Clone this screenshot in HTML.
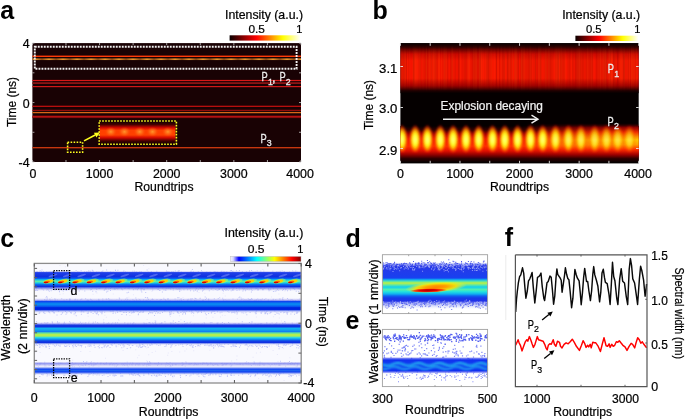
<!DOCTYPE html>
<html><head><meta charset="utf-8"><title>Figure</title>
<style>html,body{margin:0;padding:0;background:#fff;width:685px;height:419px;overflow:hidden;font-family:"Liberation Sans",sans-serif;}
svg{display:block;will-change:transform;}</style></head><body>
<svg width="685" height="419" viewBox="0 0 685 419" font-family='"Liberation Sans", sans-serif'><defs>
<linearGradient id="hot" x1="0" x2="1" y1="0" y2="0">
 <stop offset="0" stop-color="#0a0000"/><stop offset="0.375" stop-color="#ff0000"/>
 <stop offset="0.75" stop-color="#ffff00"/><stop offset="1" stop-color="#ffffff"/>
</linearGradient>
<linearGradient id="jetw" x1="0" x2="1" y1="0" y2="0">
 <stop offset="0" stop-color="#f4f4ff"/><stop offset="0.04" stop-color="#d8d8ff"/>
 <stop offset="0.12" stop-color="#0000ff"/><stop offset="0.375" stop-color="#00ffff"/>
 <stop offset="0.625" stop-color="#ffff00"/><stop offset="0.875" stop-color="#ff0000"/>
 <stop offset="1" stop-color="#800000"/>
</linearGradient>
<linearGradient id="orgA" gradientUnits="userSpaceOnUse" x1="42" x2="56" y1="0" y2="0" spreadMethod="repeat"><stop offset="0" stop-color="#904c14"/><stop offset="0.5" stop-color="#e8962c"/><stop offset="1" stop-color="#904c14"/></linearGradient><linearGradient id="insA" x1="0" x2="0" y1="0" y2="1">
<stop offset="0" stop-color="#100000"/><stop offset="0.14" stop-color="#400000"/>
<stop offset="0.28" stop-color="#d00800"/><stop offset="0.4" stop-color="#ff4000"/>
<stop offset="0.6" stop-color="#ff4000"/><stop offset="0.72" stop-color="#d00800"/>
<stop offset="0.86" stop-color="#400000"/><stop offset="1" stop-color="#100000"/></linearGradient>
<radialGradient id="insB" cx="0.5" cy="0.5" r="0.5"><stop offset="0" stop-color="#ffa030" stop-opacity="0.9"/><stop offset="0.5" stop-color="#ff8020" stop-opacity="0.5"/><stop offset="1" stop-color="#ff5000" stop-opacity="0"/></radialGradient><linearGradient id="bRed" x1="0" x2="0" y1="0" y2="1">
<stop offset="0" stop-color="#050000"/><stop offset="0.08" stop-color="#300000"/>
<stop offset="0.22" stop-color="#d00800"/><stop offset="0.35" stop-color="#f81400"/>
<stop offset="0.7" stop-color="#f81400"/><stop offset="0.85" stop-color="#a00000"/>
<stop offset="0.95" stop-color="#200000"/><stop offset="1" stop-color="#050000"/></linearGradient><linearGradient id="bYel" x1="0" x2="0" y1="0" y2="1">
<stop offset="0" stop-color="#050000"/><stop offset="0.11" stop-color="#300000"/>
<stop offset="0.22" stop-color="#a00000"/><stop offset="0.36" stop-color="#f01800"/>
<stop offset="0.56" stop-color="#ff3000"/><stop offset="0.69" stop-color="#e01000"/>
<stop offset="0.8" stop-color="#900000"/><stop offset="0.9" stop-color="#300000"/>
<stop offset="1" stop-color="#080000"/></linearGradient><linearGradient id="bMerge" x1="0" x2="0" y1="0" y2="1">
<stop offset="0" stop-color="#300000" stop-opacity="0"/><stop offset="0.12" stop-color="#a00000"/>
<stop offset="0.25" stop-color="#ff3000"/><stop offset="0.38" stop-color="#ffa000"/>
<stop offset="0.47" stop-color="#ffe000"/><stop offset="0.6" stop-color="#ffb000"/>
<stop offset="0.74" stop-color="#ff3000"/><stop offset="0.88" stop-color="#a00000"/>
<stop offset="1" stop-color="#300000" stop-opacity="0"/></linearGradient>
<linearGradient id="bMaskG" x1="0" x2="1" y1="0" y2="0">
<stop offset="0" stop-color="#fff" stop-opacity="0"/><stop offset="0.5" stop-color="#fff" stop-opacity="0"/>
<stop offset="0.7" stop-color="#fff" stop-opacity="0.6"/><stop offset="1" stop-color="#fff" stop-opacity="0.9"/></linearGradient>
<mask id="bMask" maskUnits="userSpaceOnUse" x="400" y="110" width="240" height="60"><rect x="400" y="110" width="240" height="60" fill="url(#bMaskG)"/></mask><linearGradient id="strkV" x1="0" x2="0" y1="0" y2="1"><stop offset="0" stop-color="#000" stop-opacity="0"/><stop offset="0.2" stop-color="#000" stop-opacity="1"/><stop offset="0.8" stop-color="#000" stop-opacity="1"/><stop offset="1" stop-color="#000" stop-opacity="0"/></linearGradient>
<linearGradient id="strkG" x1="0" x2="0" y1="0" y2="1"><stop offset="0" stop-color="#fff" stop-opacity="0"/><stop offset="0.25" stop-color="#fff" stop-opacity="1"/><stop offset="0.75" stop-color="#fff" stop-opacity="1"/><stop offset="1" stop-color="#fff" stop-opacity="0"/></linearGradient>
<mask id="strkM" maskUnits="userSpaceOnUse" x="400" y="43" width="240" height="52"><rect x="400" y="45" width="240" height="46" fill="url(#strkG)"/></mask><radialGradient id="blob" cx="0.5" cy="0.56" r="0.5" fx="0.5" fy="0.58">
<stop offset="0" stop-color="#ffff90"/><stop offset="0.38" stop-color="#ffff20"/>
<stop offset="0.6" stop-color="#ffb000" stop-opacity="0.95"/><stop offset="0.82" stop-color="#ff3000" stop-opacity="0.6"/><stop offset="1" stop-color="#e00000" stop-opacity="0"/></radialGradient><filter id="bl1" x="-20%" y="-20%" width="140%" height="140%"><feGaussianBlur stdDeviation="0.8"/></filter><clipPath id="clipB"><rect x="400.4" y="43.2" width="238.30000000000007" height="120.2"/></clipPath><linearGradient id="c1" x1="0" x2="0" y1="0" y2="1"><stop offset="0" stop-color="#c8c8f4" stop-opacity="0"/><stop offset="0.06" stop-color="#b0b0f0" stop-opacity="0.6"/><stop offset="0.1" stop-color="#2040e8" stop-opacity="1"/><stop offset="0.3" stop-color="#1030e0" stop-opacity="1"/><stop offset="0.38" stop-color="#0a50f0" stop-opacity="1"/><stop offset="0.45" stop-color="#10c0f0" stop-opacity="1"/><stop offset="0.53" stop-color="#60f0a0" stop-opacity="1"/><stop offset="0.6" stop-color="#20d0e0" stop-opacity="1"/><stop offset="0.68" stop-color="#0870f0" stop-opacity="1"/><stop offset="0.78" stop-color="#1030e0" stop-opacity="1"/><stop offset="0.86" stop-color="#6070e8" stop-opacity="0.8"/><stop offset="1" stop-color="#c8c8f4" stop-opacity="0"/></linearGradient><filter id="bl3" x="-10%" y="-50%" width="120%" height="200%"><feGaussianBlur stdDeviation="0.55"/></filter><linearGradient id="c2" x1="0" x2="0" y1="0" y2="1"><stop offset="0" stop-color="#c8c8f4" stop-opacity="0"/><stop offset="0.15" stop-color="#9090f0" stop-opacity="0.7"/><stop offset="0.22" stop-color="#1040f0" stop-opacity="1"/><stop offset="0.4" stop-color="#0890f0" stop-opacity="1"/><stop offset="0.55" stop-color="#0860f0" stop-opacity="1"/><stop offset="0.65" stop-color="#0020e0" stop-opacity="1"/><stop offset="0.78" stop-color="#0028e0" stop-opacity="1"/><stop offset="0.88" stop-color="#8090f0" stop-opacity="0.6"/><stop offset="1" stop-color="#c8c8f4" stop-opacity="0"/></linearGradient><linearGradient id="c3" x1="0" x2="0" y1="0" y2="1"><stop offset="0.0" stop-color="#c8c8f4" stop-opacity="0"/><stop offset="0.0652" stop-color="#9090f0" stop-opacity="0.6"/><stop offset="0.1304" stop-color="#1838e0" stop-opacity="1"/><stop offset="0.1957" stop-color="#1030e0" stop-opacity="1"/><stop offset="0.2826" stop-color="#10b0f0" stop-opacity="1"/><stop offset="0.3478" stop-color="#10a0f0" stop-opacity="1"/><stop offset="0.413" stop-color="#1080f0" stop-opacity="1"/><stop offset="0.4783" stop-color="#60e0a0" stop-opacity="1"/><stop offset="0.5435" stop-color="#b0f050" stop-opacity="1"/><stop offset="0.6087" stop-color="#b0f050" stop-opacity="1"/><stop offset="0.6739" stop-color="#30d8e0" stop-opacity="1"/><stop offset="0.7391" stop-color="#10a0f0" stop-opacity="1"/><stop offset="0.8261" stop-color="#1040e8" stop-opacity="1"/><stop offset="0.8913" stop-color="#1030e0" stop-opacity="1"/><stop offset="0.9565" stop-color="#8090f0" stop-opacity="0.5"/><stop offset="1.0" stop-color="#c8c8f4" stop-opacity="0"/></linearGradient><linearGradient id="c4" x1="0" x2="0" y1="0" y2="1"><stop offset="0.0" stop-color="#c8c8f4" stop-opacity="0"/><stop offset="0.0741" stop-color="#b0b0f0" stop-opacity="0.6"/><stop offset="0.1704" stop-color="#7078ec" stop-opacity="0.85"/><stop offset="0.2593" stop-color="#b0b0f0" stop-opacity="0.6"/><stop offset="0.3704" stop-color="#d8d8f8" stop-opacity="0.5"/><stop offset="0.4815" stop-color="#6080f0" stop-opacity="0.8"/><stop offset="0.5556" stop-color="#1040f0" stop-opacity="1"/><stop offset="0.6667" stop-color="#1860f0" stop-opacity="1"/><stop offset="0.7778" stop-color="#1040f0" stop-opacity="1"/><stop offset="0.8667" stop-color="#5070f0" stop-opacity="0.7"/><stop offset="1.0" stop-color="#c8c8f4" stop-opacity="0"/></linearGradient><linearGradient id="dband" x1="0" x2="0" y1="0" y2="1"><stop offset="0.0" stop-color="#ffffff" stop-opacity="0"/><stop offset="0.0417" stop-color="#6070f0" stop-opacity="0.6"/><stop offset="0.0833" stop-color="#2838e8" stop-opacity="1"/><stop offset="0.3333" stop-color="#1840f0" stop-opacity="1"/><stop offset="0.3646" stop-color="#10a0f0" stop-opacity="1"/><stop offset="0.3958" stop-color="#40e0c0" stop-opacity="1"/><stop offset="0.4375" stop-color="#c0f040" stop-opacity="1"/><stop offset="0.4792" stop-color="#60e8a0" stop-opacity="1"/><stop offset="0.5208" stop-color="#10d0f0" stop-opacity="1"/><stop offset="0.575" stop-color="#50f0b0" stop-opacity="1"/><stop offset="0.6208" stop-color="#20e0e0" stop-opacity="1"/><stop offset="0.6667" stop-color="#10b0f0" stop-opacity="1"/><stop offset="0.7083" stop-color="#1060f0" stop-opacity="1"/><stop offset="0.75" stop-color="#1838e8" stop-opacity="1"/><stop offset="0.8125" stop-color="#2030e8" stop-opacity="1"/><stop offset="0.8542" stop-color="#4050f0" stop-opacity="0.7"/><stop offset="0.9167" stop-color="#8090f0" stop-opacity="0.3"/><stop offset="1.0" stop-color="#ffffff" stop-opacity="0"/></linearGradient><radialGradient id="dblob" cx="0.5" cy="0.5" r="0.5">
<stop offset="0" stop-color="#ff8000"/><stop offset="0.35" stop-color="#ffa000"/>
<stop offset="0.65" stop-color="#ffe000" stop-opacity="0.9"/><stop offset="1" stop-color="#e0ff40" stop-opacity="0"/></radialGradient>
<radialGradient id="dred" cx="0.5" cy="0.5" r="0.5">
<stop offset="0" stop-color="#b00000"/><stop offset="0.45" stop-color="#e00000"/>
<stop offset="0.75" stop-color="#ff3000" stop-opacity="0.8"/><stop offset="1" stop-color="#ff6000" stop-opacity="0"/></radialGradient><linearGradient id="eband2" x1="0" x2="0" y1="0" y2="1"><stop offset="0" stop-color="#ffffff" stop-opacity="0"/><stop offset="0.1" stop-color="#3848f0" stop-opacity="0.7"/><stop offset="0.2" stop-color="#1030f0" stop-opacity="1"/><stop offset="0.5" stop-color="#1040f0" stop-opacity="1"/><stop offset="0.8" stop-color="#1030f0" stop-opacity="1"/><stop offset="0.9" stop-color="#3848f0" stop-opacity="0.7"/><stop offset="1" stop-color="#ffffff" stop-opacity="0"/></linearGradient><filter id="bl2" x="-5%" y="-50%" width="110%" height="200%"><feGaussianBlur stdDeviation="0.8"/></filter></defs><text x="0.3" y="18.8" font-size="25" fill="#000" text-anchor="start" font-weight="bold" >a</text>
<rect x="32.4" y="43.1" width="268.6" height="118.9" fill="#190204" />
<rect x="32.4" y="55.599999999999994" width="268.6" height="1.4" fill="#ff3a08" />
<rect x="32.4" y="58.35" width="268.6" height="1.7" fill="url(#orgA)" />
<rect x="32.4" y="79.9" width="268.6" height="1.2" fill="#d81818" />
<rect x="32.4" y="82.19999999999999" width="268.6" height="1.8" fill="#8a1414" />
<rect x="32.4" y="86.0" width="268.6" height="1.2" fill="#d01818" />
<rect x="32.4" y="105.7" width="268.6" height="1.2" fill="#c81010" />
<rect x="32.4" y="109.8" width="268.6" height="1.0" fill="#b01010" />
<rect x="32.4" y="111.94999999999999" width="268.6" height="1.3" fill="#d86818" />
<rect x="32.4" y="115.7" width="268.6" height="1.4" fill="#b81010" />
<rect x="32.4" y="117.1" width="268.6" height="1.0" fill="#901010" />
<rect x="32.4" y="147.04999999999998" width="268.6" height="1.3" fill="#d03a10" />
<rect x="99.5" y="121.2" width="76" height="23" fill="url(#insA)" />
<ellipse cx="110.8" cy="131.8" rx="6" ry="5" fill="url(#insB)"/>
<ellipse cx="124.5" cy="131.8" rx="6" ry="5" fill="url(#insB)"/>
<ellipse cx="139.7" cy="131.8" rx="6" ry="5" fill="url(#insB)"/>
<ellipse cx="152.5" cy="131.8" rx="6" ry="5" fill="url(#insB)"/>
<ellipse cx="167.9" cy="131.8" rx="6" ry="5" fill="url(#insB)"/>
<rect x="34.8" y="46.8" width="261.8" height="22.0" fill="none" stroke="#f0f0f0" stroke-width="1.9" stroke-dasharray="1.9 1.1"/>
<rect x="99.2" y="121.0" width="77.2" height="23.19999999999999" fill="none" stroke="#ffff20" stroke-width="1.6" stroke-dasharray="1.6 1.4"/>
<rect x="67.6" y="142.2" width="15.0" height="10.0" fill="none" stroke="#ffff20" stroke-width="1.6" stroke-dasharray="1.6 1.4"/>
<line x1="84.0" y1="140.9" x2="95.19653060937571" y2="135.0182782241887" stroke="#ffff20" stroke-width="1.6" />
<polygon points="99.8,132.6 96.45,137.41 93.94,132.63" fill="#ffff20"/>
<line x1="32.4" y1="43.1" x2="32.4" y2="45.1" stroke="#c8c8c8" stroke-width="0.8" />
<line x1="32.4" y1="162.0" x2="32.4" y2="160.0" stroke="#c8c8c8" stroke-width="0.8" />
<line x1="65.975" y1="43.1" x2="65.975" y2="45.1" stroke="#c8c8c8" stroke-width="0.8" />
<line x1="65.975" y1="162.0" x2="65.975" y2="160.0" stroke="#c8c8c8" stroke-width="0.8" />
<line x1="99.55000000000001" y1="43.1" x2="99.55000000000001" y2="45.1" stroke="#c8c8c8" stroke-width="0.8" />
<line x1="99.55000000000001" y1="162.0" x2="99.55000000000001" y2="160.0" stroke="#c8c8c8" stroke-width="0.8" />
<line x1="133.125" y1="43.1" x2="133.125" y2="45.1" stroke="#c8c8c8" stroke-width="0.8" />
<line x1="133.125" y1="162.0" x2="133.125" y2="160.0" stroke="#c8c8c8" stroke-width="0.8" />
<line x1="166.70000000000002" y1="43.1" x2="166.70000000000002" y2="45.1" stroke="#c8c8c8" stroke-width="0.8" />
<line x1="166.70000000000002" y1="162.0" x2="166.70000000000002" y2="160.0" stroke="#c8c8c8" stroke-width="0.8" />
<line x1="200.275" y1="43.1" x2="200.275" y2="45.1" stroke="#c8c8c8" stroke-width="0.8" />
<line x1="200.275" y1="162.0" x2="200.275" y2="160.0" stroke="#c8c8c8" stroke-width="0.8" />
<line x1="233.85000000000002" y1="43.1" x2="233.85000000000002" y2="45.1" stroke="#c8c8c8" stroke-width="0.8" />
<line x1="233.85000000000002" y1="162.0" x2="233.85000000000002" y2="160.0" stroke="#c8c8c8" stroke-width="0.8" />
<line x1="267.425" y1="43.1" x2="267.425" y2="45.1" stroke="#c8c8c8" stroke-width="0.8" />
<line x1="267.425" y1="162.0" x2="267.425" y2="160.0" stroke="#c8c8c8" stroke-width="0.8" />
<line x1="301.0" y1="43.1" x2="301.0" y2="45.1" stroke="#c8c8c8" stroke-width="0.8" />
<line x1="301.0" y1="162.0" x2="301.0" y2="160.0" stroke="#c8c8c8" stroke-width="0.8" />
<line x1="32.4" y1="43.1" x2="34.4" y2="43.1" stroke="#c8c8c8" stroke-width="0.8" />
<line x1="301.0" y1="43.1" x2="299.0" y2="43.1" stroke="#c8c8c8" stroke-width="0.8" />
<line x1="32.4" y1="72.825" x2="34.4" y2="72.825" stroke="#c8c8c8" stroke-width="0.8" />
<line x1="301.0" y1="72.825" x2="299.0" y2="72.825" stroke="#c8c8c8" stroke-width="0.8" />
<line x1="32.4" y1="102.55000000000001" x2="34.4" y2="102.55000000000001" stroke="#c8c8c8" stroke-width="0.8" />
<line x1="301.0" y1="102.55000000000001" x2="299.0" y2="102.55000000000001" stroke="#c8c8c8" stroke-width="0.8" />
<line x1="32.4" y1="132.275" x2="34.4" y2="132.275" stroke="#c8c8c8" stroke-width="0.8" />
<line x1="301.0" y1="132.275" x2="299.0" y2="132.275" stroke="#c8c8c8" stroke-width="0.8" />
<line x1="32.4" y1="162.0" x2="34.4" y2="162.0" stroke="#c8c8c8" stroke-width="0.8" />
<line x1="301.0" y1="162.0" x2="299.0" y2="162.0" stroke="#c8c8c8" stroke-width="0.8" />
<text x="261.5" y="81.0" font-size="12.8" fill="#ececec" text-anchor="start" textLength="6.2" lengthAdjust="spacingAndGlyphs" stroke="#ececec" stroke-width="0.3">P</text>
<text x="268.0" y="84.6" font-size="8.8" fill="#ececec" text-anchor="start" stroke="#ececec" stroke-width="0.3">1</text>
<text x="272.0" y="81.6" font-size="13" fill="#ececec" text-anchor="start" stroke="#ececec" stroke-width="0.3">,</text>
<text x="279.4" y="81.0" font-size="12.8" fill="#ececec" text-anchor="start" textLength="6.2" lengthAdjust="spacingAndGlyphs" stroke="#ececec" stroke-width="0.3">P</text>
<text x="285.8" y="84.6" font-size="8.8" fill="#ececec" text-anchor="start" stroke="#ececec" stroke-width="0.3">2</text>
<text x="260.6" y="142.6" font-size="12.8" fill="#ececec" text-anchor="start" textLength="6.2" lengthAdjust="spacingAndGlyphs" stroke="#ececec" stroke-width="0.3">P</text>
<text x="266.7" y="145.8" font-size="8.8" fill="#ececec" text-anchor="start" stroke="#ececec" stroke-width="0.3">3</text>
<rect x="229.6" y="35.3" width="71" height="5.3" fill="url(#hot)" />
<text x="225.0" y="18.6" font-size="11.9" fill="#000" text-anchor="start" stroke="#000" stroke-width="0.22" textLength="78" lengthAdjust="spacingAndGlyphs" >Intensity (a.u.)</text>
<text x="248.4" y="33.2" font-size="11" fill="#000" text-anchor="start" stroke="#000" stroke-width="0.22" textLength="16.5" lengthAdjust="spacingAndGlyphs" >0.5</text>
<text x="302.3" y="33.2" font-size="11" fill="#000" text-anchor="end" stroke="#000" stroke-width="0.22" >1</text>
<text x="29.6" y="48.0" font-size="12.4" fill="#000" text-anchor="end" stroke="#000" stroke-width="0.22" >4</text>
<text x="29.6" y="107.6" font-size="12.4" fill="#000" text-anchor="end" stroke="#000" stroke-width="0.22" >0</text>
<text x="29.6" y="167.2" font-size="12.4" fill="#000" text-anchor="end" stroke="#000" stroke-width="0.22" >-4</text>
<text x="33.0" y="177.6" font-size="12.4" fill="#000" text-anchor="middle" stroke="#000" stroke-width="0.22" >0</text>
<text x="99.55000000000001" y="177.6" font-size="12.4" fill="#000" text-anchor="middle" stroke="#000" stroke-width="0.22" >1000</text>
<text x="166.70000000000002" y="177.6" font-size="12.4" fill="#000" text-anchor="middle" stroke="#000" stroke-width="0.22" >2000</text>
<text x="233.85000000000002" y="177.6" font-size="12.4" fill="#000" text-anchor="middle" stroke="#000" stroke-width="0.22" >3000</text>
<text x="300.1" y="177.6" font-size="12.4" fill="#000" text-anchor="middle" stroke="#000" stroke-width="0.22" >4000</text>
<text x="164.0" y="191.0" font-size="13.2" fill="#000" text-anchor="middle" stroke="#000" stroke-width="0.22" textLength="59" lengthAdjust="spacingAndGlyphs" >Roundtrips</text>
<text x="16.3" y="102.0" font-size="13" fill="#000" text-anchor="middle" stroke="#000" stroke-width="0.22" textLength="50" lengthAdjust="spacingAndGlyphs" transform="rotate(-90 16.3 102.0)" >Time (ns)</text>
<text x="372.6" y="18.6" font-size="25" fill="#000" text-anchor="start" font-weight="bold" >b</text>
<rect x="400.4" y="43.2" width="238.30000000000007" height="120.2" fill="#050000" />
<rect x="400.4" y="43.2" width="238.30000000000007" height="50" fill="url(#bRed)" />
<rect x="400.4" y="126" width="238.30000000000007" height="36" fill="url(#bYel)" />
<rect x="400.4" y="123" width="238.30000000000007" height="36" fill="url(#bMerge)" mask="url(#bMask)"/>
<g mask="url(#strkM)"><rect x="400.4" y="45" width="1.5" height="46" fill="#500000" fill-opacity="0.21"/><rect x="401.9" y="45" width="2" height="46" fill="#500000" fill-opacity="0.14"/><rect x="403.9" y="45" width="1" height="46" fill="#500000" fill-opacity="0.18"/><rect x="404.9" y="45" width="1" height="46" fill="#500000" fill-opacity="0.08"/><rect x="405.9" y="45" width="1" height="46" fill="#500000" fill-opacity="0.20"/><rect x="406.9" y="45" width="1" height="46" fill="#500000" fill-opacity="0.01"/><rect x="407.9" y="45" width="2" height="46" fill="#500000" fill-opacity="0.09"/><rect x="409.9" y="45" width="1" height="46" fill="#500000" fill-opacity="0.02"/><rect x="410.9" y="45" width="2" height="46" fill="#500000" fill-opacity="0.01"/><rect x="412.9" y="45" width="1" height="46" fill="#500000" fill-opacity="0.21"/><rect x="413.9" y="45" width="1" height="46" fill="#500000" fill-opacity="0.13"/><rect x="414.9" y="45" width="2" height="46" fill="#500000" fill-opacity="0.01"/><rect x="416.9" y="45" width="1" height="46" fill="#500000" fill-opacity="0.01"/><rect x="417.9" y="45" width="1" height="46" fill="#500000" fill-opacity="0.06"/><rect x="418.9" y="45" width="1" height="46" fill="#500000" fill-opacity="0.12"/><rect x="419.9" y="45" width="1.5" height="46" fill="#500000" fill-opacity="0.12"/><rect x="421.4" y="45" width="1" height="46" fill="#500000" fill-opacity="0.02"/><rect x="422.4" y="45" width="1" height="46" fill="#500000" fill-opacity="0.08"/><rect x="423.4" y="45" width="1" height="46" fill="#500000" fill-opacity="0.12"/><rect x="424.4" y="45" width="1" height="46" fill="#500000" fill-opacity="0.11"/><rect x="425.4" y="45" width="2" height="46" fill="#500000" fill-opacity="0.17"/><rect x="427.4" y="45" width="2" height="46" fill="#500000" fill-opacity="0.13"/><rect x="429.4" y="45" width="2" height="46" fill="#500000" fill-opacity="0.08"/><rect x="431.4" y="45" width="1" height="46" fill="#500000" fill-opacity="0.17"/><rect x="432.4" y="45" width="1" height="46" fill="#500000" fill-opacity="0.02"/><rect x="433.4" y="45" width="1.5" height="46" fill="#500000" fill-opacity="0.12"/><rect x="434.9" y="45" width="1.5" height="46" fill="#500000" fill-opacity="0.16"/><rect x="436.4" y="45" width="1.5" height="46" fill="#500000" fill-opacity="0.13"/><rect x="437.9" y="45" width="1" height="46" fill="#500000" fill-opacity="0.03"/><rect x="438.9" y="45" width="2" height="46" fill="#500000" fill-opacity="0.04"/><rect x="440.9" y="45" width="1.5" height="46" fill="#500000" fill-opacity="0.03"/><rect x="442.4" y="45" width="2" height="46" fill="#500000" fill-opacity="0.09"/><rect x="444.4" y="45" width="1" height="46" fill="#500000" fill-opacity="0.17"/><rect x="445.4" y="45" width="1.5" height="46" fill="#500000" fill-opacity="0.07"/><rect x="446.9" y="45" width="1.5" height="46" fill="#500000" fill-opacity="0.13"/><rect x="448.4" y="45" width="2" height="46" fill="#500000" fill-opacity="0.02"/><rect x="450.4" y="45" width="1" height="46" fill="#500000" fill-opacity="0.21"/><rect x="451.4" y="45" width="2" height="46" fill="#500000" fill-opacity="0.15"/><rect x="453.4" y="45" width="1" height="46" fill="#500000" fill-opacity="0.01"/><rect x="454.4" y="45" width="1.5" height="46" fill="#500000" fill-opacity="0.14"/><rect x="455.9" y="45" width="2" height="46" fill="#500000" fill-opacity="0.06"/><rect x="457.9" y="45" width="2" height="46" fill="#500000" fill-opacity="0.20"/><rect x="459.9" y="45" width="1.5" height="46" fill="#500000" fill-opacity="0.00"/><rect x="461.4" y="45" width="2" height="46" fill="#500000" fill-opacity="0.08"/><rect x="463.4" y="45" width="1" height="46" fill="#500000" fill-opacity="0.11"/><rect x="464.4" y="45" width="1" height="46" fill="#500000" fill-opacity="0.17"/><rect x="465.4" y="45" width="1" height="46" fill="#500000" fill-opacity="0.16"/><rect x="466.4" y="45" width="2" height="46" fill="#500000" fill-opacity="0.09"/><rect x="468.4" y="45" width="2" height="46" fill="#500000" fill-opacity="0.02"/><rect x="470.4" y="45" width="2" height="46" fill="#500000" fill-opacity="0.09"/><rect x="472.4" y="45" width="1.5" height="46" fill="#500000" fill-opacity="0.19"/><rect x="473.9" y="45" width="2" height="46" fill="#500000" fill-opacity="0.19"/><rect x="475.9" y="45" width="1.5" height="46" fill="#500000" fill-opacity="0.16"/><rect x="477.4" y="45" width="1.5" height="46" fill="#500000" fill-opacity="0.15"/><rect x="478.9" y="45" width="2" height="46" fill="#500000" fill-opacity="0.21"/><rect x="480.9" y="45" width="1" height="46" fill="#500000" fill-opacity="0.02"/><rect x="481.9" y="45" width="1" height="46" fill="#500000" fill-opacity="0.05"/><rect x="482.9" y="45" width="1" height="46" fill="#500000" fill-opacity="0.00"/><rect x="483.9" y="45" width="1" height="46" fill="#500000" fill-opacity="0.06"/><rect x="484.9" y="45" width="1" height="46" fill="#500000" fill-opacity="0.03"/><rect x="485.9" y="45" width="1.5" height="46" fill="#500000" fill-opacity="0.13"/><rect x="487.4" y="45" width="1.5" height="46" fill="#500000" fill-opacity="0.21"/><rect x="488.9" y="45" width="1" height="46" fill="#500000" fill-opacity="0.10"/><rect x="489.9" y="45" width="2" height="46" fill="#500000" fill-opacity="0.09"/><rect x="491.9" y="45" width="2" height="46" fill="#500000" fill-opacity="0.02"/><rect x="493.9" y="45" width="2" height="46" fill="#500000" fill-opacity="0.01"/><rect x="495.9" y="45" width="1" height="46" fill="#500000" fill-opacity="0.22"/><rect x="496.9" y="45" width="2" height="46" fill="#500000" fill-opacity="0.04"/><rect x="498.9" y="45" width="1.5" height="46" fill="#500000" fill-opacity="0.13"/><rect x="500.4" y="45" width="1" height="46" fill="#500000" fill-opacity="0.00"/><rect x="501.4" y="45" width="1" height="46" fill="#500000" fill-opacity="0.12"/><rect x="502.4" y="45" width="1.5" height="46" fill="#500000" fill-opacity="0.14"/><rect x="503.9" y="45" width="1" height="46" fill="#500000" fill-opacity="0.19"/><rect x="504.9" y="45" width="2" height="46" fill="#500000" fill-opacity="0.03"/><rect x="506.9" y="45" width="1.5" height="46" fill="#500000" fill-opacity="0.21"/><rect x="508.4" y="45" width="1.5" height="46" fill="#500000" fill-opacity="0.10"/><rect x="509.9" y="45" width="1" height="46" fill="#500000" fill-opacity="0.19"/><rect x="510.9" y="45" width="2" height="46" fill="#500000" fill-opacity="0.11"/><rect x="512.9" y="45" width="1.5" height="46" fill="#500000" fill-opacity="0.02"/><rect x="514.4" y="45" width="1" height="46" fill="#500000" fill-opacity="0.16"/><rect x="515.4" y="45" width="1.5" height="46" fill="#500000" fill-opacity="0.11"/><rect x="516.9" y="45" width="1" height="46" fill="#500000" fill-opacity="0.11"/><rect x="517.9" y="45" width="1" height="46" fill="#500000" fill-opacity="0.21"/><rect x="518.9" y="45" width="1.5" height="46" fill="#500000" fill-opacity="0.03"/><rect x="520.4" y="45" width="1" height="46" fill="#500000" fill-opacity="0.17"/><rect x="521.4" y="45" width="1.5" height="46" fill="#500000" fill-opacity="0.22"/><rect x="522.9" y="45" width="1" height="46" fill="#500000" fill-opacity="0.15"/><rect x="523.9" y="45" width="1.5" height="46" fill="#500000" fill-opacity="0.11"/><rect x="525.4" y="45" width="1" height="46" fill="#500000" fill-opacity="0.08"/><rect x="526.4" y="45" width="1" height="46" fill="#500000" fill-opacity="0.12"/><rect x="527.4" y="45" width="1.5" height="46" fill="#500000" fill-opacity="0.14"/><rect x="528.9" y="45" width="1" height="46" fill="#500000" fill-opacity="0.18"/><rect x="529.9" y="45" width="2" height="46" fill="#500000" fill-opacity="0.16"/><rect x="531.9" y="45" width="1" height="46" fill="#500000" fill-opacity="0.04"/><rect x="532.9" y="45" width="2" height="46" fill="#500000" fill-opacity="0.08"/><rect x="534.9" y="45" width="1" height="46" fill="#500000" fill-opacity="0.22"/><rect x="535.9" y="45" width="1.5" height="46" fill="#500000" fill-opacity="0.10"/><rect x="537.4" y="45" width="1" height="46" fill="#500000" fill-opacity="0.15"/><rect x="538.4" y="45" width="1.5" height="46" fill="#500000" fill-opacity="0.10"/><rect x="539.9" y="45" width="1.5" height="46" fill="#500000" fill-opacity="0.21"/><rect x="541.4" y="45" width="1.5" height="46" fill="#500000" fill-opacity="0.02"/><rect x="542.9" y="45" width="1" height="46" fill="#500000" fill-opacity="0.05"/><rect x="543.9" y="45" width="1" height="46" fill="#500000" fill-opacity="0.07"/><rect x="544.9" y="45" width="2" height="46" fill="#500000" fill-opacity="0.14"/><rect x="546.9" y="45" width="1" height="46" fill="#500000" fill-opacity="0.11"/><rect x="547.9" y="45" width="1.5" height="46" fill="#500000" fill-opacity="0.18"/><rect x="549.4" y="45" width="1" height="46" fill="#500000" fill-opacity="0.18"/><rect x="550.4" y="45" width="1" height="46" fill="#500000" fill-opacity="0.20"/><rect x="551.4" y="45" width="1" height="46" fill="#500000" fill-opacity="0.11"/><rect x="552.4" y="45" width="1" height="46" fill="#500000" fill-opacity="0.10"/><rect x="553.4" y="45" width="1.5" height="46" fill="#500000" fill-opacity="0.02"/><rect x="554.9" y="45" width="2" height="46" fill="#500000" fill-opacity="0.10"/><rect x="556.9" y="45" width="1" height="46" fill="#500000" fill-opacity="0.16"/><rect x="557.9" y="45" width="1" height="46" fill="#500000" fill-opacity="0.22"/><rect x="558.9" y="45" width="1" height="46" fill="#500000" fill-opacity="0.03"/><rect x="559.9" y="45" width="2" height="46" fill="#500000" fill-opacity="0.18"/><rect x="561.9" y="45" width="1" height="46" fill="#500000" fill-opacity="0.13"/><rect x="562.9" y="45" width="2" height="46" fill="#500000" fill-opacity="0.14"/><rect x="564.9" y="45" width="1.5" height="46" fill="#500000" fill-opacity="0.03"/><rect x="566.4" y="45" width="1" height="46" fill="#500000" fill-opacity="0.00"/><rect x="567.4" y="45" width="1" height="46" fill="#500000" fill-opacity="0.12"/><rect x="568.4" y="45" width="1" height="46" fill="#500000" fill-opacity="0.10"/><rect x="569.4" y="45" width="1" height="46" fill="#500000" fill-opacity="0.18"/><rect x="570.4" y="45" width="1" height="46" fill="#500000" fill-opacity="0.01"/><rect x="571.4" y="45" width="1" height="46" fill="#500000" fill-opacity="0.06"/><rect x="572.4" y="45" width="1" height="46" fill="#500000" fill-opacity="0.17"/><rect x="573.4" y="45" width="1.5" height="46" fill="#500000" fill-opacity="0.06"/><rect x="574.9" y="45" width="2" height="46" fill="#500000" fill-opacity="0.18"/><rect x="576.9" y="45" width="1" height="46" fill="#500000" fill-opacity="0.20"/><rect x="577.9" y="45" width="1.5" height="46" fill="#500000" fill-opacity="0.20"/><rect x="579.4" y="45" width="2" height="46" fill="#500000" fill-opacity="0.18"/><rect x="581.4" y="45" width="1" height="46" fill="#500000" fill-opacity="0.12"/><rect x="582.4" y="45" width="1" height="46" fill="#500000" fill-opacity="0.19"/><rect x="583.4" y="45" width="1" height="46" fill="#500000" fill-opacity="0.13"/><rect x="584.4" y="45" width="1" height="46" fill="#500000" fill-opacity="0.04"/><rect x="585.4" y="45" width="2" height="46" fill="#500000" fill-opacity="0.14"/><rect x="587.4" y="45" width="1" height="46" fill="#500000" fill-opacity="0.12"/><rect x="588.4" y="45" width="1.5" height="46" fill="#500000" fill-opacity="0.15"/><rect x="589.9" y="45" width="2" height="46" fill="#500000" fill-opacity="0.17"/><rect x="591.9" y="45" width="1" height="46" fill="#500000" fill-opacity="0.19"/><rect x="592.9" y="45" width="1" height="46" fill="#500000" fill-opacity="0.05"/><rect x="593.9" y="45" width="1.5" height="46" fill="#500000" fill-opacity="0.01"/><rect x="595.4" y="45" width="1" height="46" fill="#500000" fill-opacity="0.11"/><rect x="596.4" y="45" width="1" height="46" fill="#500000" fill-opacity="0.17"/><rect x="597.4" y="45" width="1" height="46" fill="#500000" fill-opacity="0.10"/><rect x="598.4" y="45" width="1" height="46" fill="#500000" fill-opacity="0.15"/><rect x="599.4" y="45" width="2" height="46" fill="#500000" fill-opacity="0.11"/><rect x="601.4" y="45" width="2" height="46" fill="#500000" fill-opacity="0.11"/><rect x="603.4" y="45" width="1" height="46" fill="#500000" fill-opacity="0.15"/><rect x="604.4" y="45" width="1.5" height="46" fill="#500000" fill-opacity="0.20"/><rect x="605.9" y="45" width="1" height="46" fill="#500000" fill-opacity="0.18"/><rect x="606.9" y="45" width="1" height="46" fill="#500000" fill-opacity="0.09"/><rect x="607.9" y="45" width="2" height="46" fill="#500000" fill-opacity="0.10"/><rect x="609.9" y="45" width="1" height="46" fill="#500000" fill-opacity="0.15"/><rect x="610.9" y="45" width="2" height="46" fill="#500000" fill-opacity="0.02"/><rect x="612.9" y="45" width="1.5" height="46" fill="#500000" fill-opacity="0.17"/><rect x="614.4" y="45" width="1" height="46" fill="#500000" fill-opacity="0.21"/><rect x="615.4" y="45" width="1.5" height="46" fill="#500000" fill-opacity="0.03"/><rect x="616.9" y="45" width="1" height="46" fill="#500000" fill-opacity="0.21"/><rect x="617.9" y="45" width="1" height="46" fill="#500000" fill-opacity="0.16"/><rect x="618.9" y="45" width="1" height="46" fill="#500000" fill-opacity="0.09"/><rect x="619.9" y="45" width="2" height="46" fill="#500000" fill-opacity="0.04"/><rect x="621.9" y="45" width="1" height="46" fill="#500000" fill-opacity="0.04"/><rect x="622.9" y="45" width="2" height="46" fill="#500000" fill-opacity="0.22"/><rect x="624.9" y="45" width="2" height="46" fill="#500000" fill-opacity="0.07"/><rect x="626.9" y="45" width="1" height="46" fill="#500000" fill-opacity="0.08"/><rect x="627.9" y="45" width="1" height="46" fill="#500000" fill-opacity="0.16"/><rect x="628.9" y="45" width="1" height="46" fill="#500000" fill-opacity="0.07"/><rect x="629.9" y="45" width="2" height="46" fill="#500000" fill-opacity="0.10"/><rect x="631.9" y="45" width="1" height="46" fill="#500000" fill-opacity="0.08"/><rect x="632.9" y="45" width="1.5" height="46" fill="#500000" fill-opacity="0.11"/><rect x="634.4" y="45" width="1" height="46" fill="#500000" fill-opacity="0.02"/><rect x="635.4" y="45" width="1" height="46" fill="#500000" fill-opacity="0.21"/><rect x="636.4" y="45" width="1" height="46" fill="#500000" fill-opacity="0.02"/><rect x="637.4" y="45" width="1.5" height="46" fill="#500000" fill-opacity="0.01"/></g>
<g mask="url(#strkM)"><rect x="400.4" y="45" width="1" height="46" fill="#ff6010" fill-opacity="0.05"/><rect x="401.4" y="45" width="1" height="46" fill="#ff6010" fill-opacity="0.16"/><rect x="402.4" y="45" width="1.5" height="46" fill="#ff6010" fill-opacity="0.08"/><rect x="403.9" y="45" width="2" height="46" fill="#ff6010" fill-opacity="0.14"/><rect x="405.9" y="45" width="1" height="46" fill="#ff6010" fill-opacity="0.06"/><rect x="406.9" y="45" width="1" height="46" fill="#ff6010" fill-opacity="0.09"/><rect x="407.9" y="45" width="1" height="46" fill="#ff6010" fill-opacity="0.05"/><rect x="408.9" y="45" width="1" height="46" fill="#ff6010" fill-opacity="0.13"/><rect x="409.9" y="45" width="1.5" height="46" fill="#ff6010" fill-opacity="0.02"/><rect x="411.4" y="45" width="1" height="46" fill="#ff6010" fill-opacity="0.01"/><rect x="412.4" y="45" width="1" height="46" fill="#ff6010" fill-opacity="0.09"/><rect x="413.4" y="45" width="1.5" height="46" fill="#ff6010" fill-opacity="0.20"/><rect x="414.9" y="45" width="2" height="46" fill="#ff6010" fill-opacity="0.19"/><rect x="416.9" y="45" width="1.5" height="46" fill="#ff6010" fill-opacity="0.12"/><rect x="418.4" y="45" width="1" height="46" fill="#ff6010" fill-opacity="0.11"/><rect x="419.4" y="45" width="1" height="46" fill="#ff6010" fill-opacity="0.19"/><rect x="420.4" y="45" width="1" height="46" fill="#ff6010" fill-opacity="0.05"/><rect x="421.4" y="45" width="1" height="46" fill="#ff6010" fill-opacity="0.04"/><rect x="422.4" y="45" width="1.5" height="46" fill="#ff6010" fill-opacity="0.13"/><rect x="423.9" y="45" width="1" height="46" fill="#ff6010" fill-opacity="0.06"/><rect x="424.9" y="45" width="1" height="46" fill="#ff6010" fill-opacity="0.05"/><rect x="425.9" y="45" width="1" height="46" fill="#ff6010" fill-opacity="0.20"/><rect x="426.9" y="45" width="1" height="46" fill="#ff6010" fill-opacity="0.00"/><rect x="427.9" y="45" width="1" height="46" fill="#ff6010" fill-opacity="0.10"/><rect x="428.9" y="45" width="1" height="46" fill="#ff6010" fill-opacity="0.19"/><rect x="429.9" y="45" width="1" height="46" fill="#ff6010" fill-opacity="0.13"/><rect x="430.9" y="45" width="2" height="46" fill="#ff6010" fill-opacity="0.13"/><rect x="432.9" y="45" width="2" height="46" fill="#ff6010" fill-opacity="0.19"/><rect x="434.9" y="45" width="1.5" height="46" fill="#ff6010" fill-opacity="0.14"/><rect x="436.4" y="45" width="1" height="46" fill="#ff6010" fill-opacity="0.07"/><rect x="437.4" y="45" width="1" height="46" fill="#ff6010" fill-opacity="0.08"/><rect x="438.4" y="45" width="1.5" height="46" fill="#ff6010" fill-opacity="0.20"/><rect x="439.9" y="45" width="1" height="46" fill="#ff6010" fill-opacity="0.00"/><rect x="440.9" y="45" width="1.5" height="46" fill="#ff6010" fill-opacity="0.09"/><rect x="442.4" y="45" width="1" height="46" fill="#ff6010" fill-opacity="0.02"/><rect x="443.4" y="45" width="2" height="46" fill="#ff6010" fill-opacity="0.17"/><rect x="445.4" y="45" width="1.5" height="46" fill="#ff6010" fill-opacity="0.12"/><rect x="446.9" y="45" width="1.5" height="46" fill="#ff6010" fill-opacity="0.01"/><rect x="448.4" y="45" width="1" height="46" fill="#ff6010" fill-opacity="0.03"/><rect x="449.4" y="45" width="2" height="46" fill="#ff6010" fill-opacity="0.00"/><rect x="451.4" y="45" width="1.5" height="46" fill="#ff6010" fill-opacity="0.19"/><rect x="452.9" y="45" width="1.5" height="46" fill="#ff6010" fill-opacity="0.05"/><rect x="454.4" y="45" width="1.5" height="46" fill="#ff6010" fill-opacity="0.04"/><rect x="455.9" y="45" width="1" height="46" fill="#ff6010" fill-opacity="0.00"/><rect x="456.9" y="45" width="2" height="46" fill="#ff6010" fill-opacity="0.02"/><rect x="458.9" y="45" width="1.5" height="46" fill="#ff6010" fill-opacity="0.10"/><rect x="460.4" y="45" width="1" height="46" fill="#ff6010" fill-opacity="0.05"/><rect x="461.4" y="45" width="1" height="46" fill="#ff6010" fill-opacity="0.02"/><rect x="462.4" y="45" width="1" height="46" fill="#ff6010" fill-opacity="0.03"/><rect x="463.4" y="45" width="1" height="46" fill="#ff6010" fill-opacity="0.08"/><rect x="464.4" y="45" width="1.5" height="46" fill="#ff6010" fill-opacity="0.06"/><rect x="465.9" y="45" width="1" height="46" fill="#ff6010" fill-opacity="0.02"/><rect x="466.9" y="45" width="1" height="46" fill="#ff6010" fill-opacity="0.13"/><rect x="467.9" y="45" width="2" height="46" fill="#ff6010" fill-opacity="0.15"/><rect x="469.9" y="45" width="2" height="46" fill="#ff6010" fill-opacity="0.03"/><rect x="471.9" y="45" width="1" height="46" fill="#ff6010" fill-opacity="0.01"/><rect x="472.9" y="45" width="2" height="46" fill="#ff6010" fill-opacity="0.15"/><rect x="474.9" y="45" width="1" height="46" fill="#ff6010" fill-opacity="0.18"/><rect x="475.9" y="45" width="1" height="46" fill="#ff6010" fill-opacity="0.17"/><rect x="476.9" y="45" width="1" height="46" fill="#ff6010" fill-opacity="0.02"/><rect x="477.9" y="45" width="1" height="46" fill="#ff6010" fill-opacity="0.03"/><rect x="478.9" y="45" width="1.5" height="46" fill="#ff6010" fill-opacity="0.19"/><rect x="480.4" y="45" width="2" height="46" fill="#ff6010" fill-opacity="0.17"/><rect x="482.4" y="45" width="1" height="46" fill="#ff6010" fill-opacity="0.13"/><rect x="483.4" y="45" width="1" height="46" fill="#ff6010" fill-opacity="0.10"/><rect x="484.4" y="45" width="1" height="46" fill="#ff6010" fill-opacity="0.09"/><rect x="485.4" y="45" width="1" height="46" fill="#ff6010" fill-opacity="0.15"/><rect x="486.4" y="45" width="1" height="46" fill="#ff6010" fill-opacity="0.13"/><rect x="487.4" y="45" width="1" height="46" fill="#ff6010" fill-opacity="0.15"/><rect x="488.4" y="45" width="2" height="46" fill="#ff6010" fill-opacity="0.05"/><rect x="490.4" y="45" width="1" height="46" fill="#ff6010" fill-opacity="0.17"/><rect x="491.4" y="45" width="1" height="46" fill="#ff6010" fill-opacity="0.15"/><rect x="492.4" y="45" width="1" height="46" fill="#ff6010" fill-opacity="0.05"/><rect x="493.4" y="45" width="2" height="46" fill="#ff6010" fill-opacity="0.10"/><rect x="495.4" y="45" width="2" height="46" fill="#ff6010" fill-opacity="0.02"/><rect x="497.4" y="45" width="1.5" height="46" fill="#ff6010" fill-opacity="0.15"/><rect x="498.9" y="45" width="1" height="46" fill="#ff6010" fill-opacity="0.02"/><rect x="499.9" y="45" width="1" height="46" fill="#ff6010" fill-opacity="0.07"/><rect x="500.9" y="45" width="1.5" height="46" fill="#ff6010" fill-opacity="0.12"/><rect x="502.4" y="45" width="1" height="46" fill="#ff6010" fill-opacity="0.00"/><rect x="503.4" y="45" width="1" height="46" fill="#ff6010" fill-opacity="0.10"/><rect x="504.4" y="45" width="1" height="46" fill="#ff6010" fill-opacity="0.14"/><rect x="505.4" y="45" width="2" height="46" fill="#ff6010" fill-opacity="0.06"/><rect x="507.4" y="45" width="1.5" height="46" fill="#ff6010" fill-opacity="0.09"/><rect x="508.9" y="45" width="2" height="46" fill="#ff6010" fill-opacity="0.15"/><rect x="510.9" y="45" width="1" height="46" fill="#ff6010" fill-opacity="0.06"/><rect x="511.9" y="45" width="1" height="46" fill="#ff6010" fill-opacity="0.19"/><rect x="512.9" y="45" width="1" height="46" fill="#ff6010" fill-opacity="0.06"/><rect x="513.9" y="45" width="1" height="46" fill="#ff6010" fill-opacity="0.16"/><rect x="514.9" y="45" width="2" height="46" fill="#ff6010" fill-opacity="0.20"/><rect x="516.9" y="45" width="2" height="46" fill="#ff6010" fill-opacity="0.04"/><rect x="518.9" y="45" width="1" height="46" fill="#ff6010" fill-opacity="0.01"/><rect x="519.9" y="45" width="1" height="46" fill="#ff6010" fill-opacity="0.03"/><rect x="520.9" y="45" width="1.5" height="46" fill="#ff6010" fill-opacity="0.19"/><rect x="522.4" y="45" width="1" height="46" fill="#ff6010" fill-opacity="0.12"/><rect x="523.4" y="45" width="1.5" height="46" fill="#ff6010" fill-opacity="0.18"/><rect x="524.9" y="45" width="1.5" height="46" fill="#ff6010" fill-opacity="0.05"/><rect x="526.4" y="45" width="2" height="46" fill="#ff6010" fill-opacity="0.08"/><rect x="528.4" y="45" width="1" height="46" fill="#ff6010" fill-opacity="0.00"/><rect x="529.4" y="45" width="2" height="46" fill="#ff6010" fill-opacity="0.14"/><rect x="531.4" y="45" width="2" height="46" fill="#ff6010" fill-opacity="0.06"/><rect x="533.4" y="45" width="1" height="46" fill="#ff6010" fill-opacity="0.08"/><rect x="534.4" y="45" width="2" height="46" fill="#ff6010" fill-opacity="0.06"/><rect x="536.4" y="45" width="1.5" height="46" fill="#ff6010" fill-opacity="0.00"/><rect x="537.9" y="45" width="1.5" height="46" fill="#ff6010" fill-opacity="0.17"/><rect x="539.4" y="45" width="1" height="46" fill="#ff6010" fill-opacity="0.19"/><rect x="540.4" y="45" width="1" height="46" fill="#ff6010" fill-opacity="0.14"/><rect x="541.4" y="45" width="1.5" height="46" fill="#ff6010" fill-opacity="0.05"/><rect x="542.9" y="45" width="1" height="46" fill="#ff6010" fill-opacity="0.08"/><rect x="543.9" y="45" width="1" height="46" fill="#ff6010" fill-opacity="0.07"/><rect x="544.9" y="45" width="2" height="46" fill="#ff6010" fill-opacity="0.15"/><rect x="546.9" y="45" width="1" height="46" fill="#ff6010" fill-opacity="0.06"/><rect x="547.9" y="45" width="1" height="46" fill="#ff6010" fill-opacity="0.17"/><rect x="548.9" y="45" width="1.5" height="46" fill="#ff6010" fill-opacity="0.13"/><rect x="550.4" y="45" width="1" height="46" fill="#ff6010" fill-opacity="0.05"/><rect x="551.4" y="45" width="1.5" height="46" fill="#ff6010" fill-opacity="0.09"/><rect x="552.9" y="45" width="1.5" height="46" fill="#ff6010" fill-opacity="0.04"/><rect x="554.4" y="45" width="1.5" height="46" fill="#ff6010" fill-opacity="0.16"/><rect x="555.9" y="45" width="2" height="46" fill="#ff6010" fill-opacity="0.18"/><rect x="557.9" y="45" width="2" height="46" fill="#ff6010" fill-opacity="0.18"/><rect x="559.9" y="45" width="1" height="46" fill="#ff6010" fill-opacity="0.14"/><rect x="560.9" y="45" width="1" height="46" fill="#ff6010" fill-opacity="0.19"/><rect x="561.9" y="45" width="2" height="46" fill="#ff6010" fill-opacity="0.09"/><rect x="563.9" y="45" width="1" height="46" fill="#ff6010" fill-opacity="0.13"/><rect x="564.9" y="45" width="1.5" height="46" fill="#ff6010" fill-opacity="0.10"/><rect x="566.4" y="45" width="1" height="46" fill="#ff6010" fill-opacity="0.03"/><rect x="567.4" y="45" width="2" height="46" fill="#ff6010" fill-opacity="0.07"/><rect x="569.4" y="45" width="1.5" height="46" fill="#ff6010" fill-opacity="0.05"/><rect x="570.9" y="45" width="1.5" height="46" fill="#ff6010" fill-opacity="0.08"/><rect x="572.4" y="45" width="1" height="46" fill="#ff6010" fill-opacity="0.06"/><rect x="573.4" y="45" width="2" height="46" fill="#ff6010" fill-opacity="0.02"/><rect x="575.4" y="45" width="1" height="46" fill="#ff6010" fill-opacity="0.02"/><rect x="576.4" y="45" width="2" height="46" fill="#ff6010" fill-opacity="0.11"/><rect x="578.4" y="45" width="2" height="46" fill="#ff6010" fill-opacity="0.18"/><rect x="580.4" y="45" width="2" height="46" fill="#ff6010" fill-opacity="0.09"/><rect x="582.4" y="45" width="1" height="46" fill="#ff6010" fill-opacity="0.05"/><rect x="583.4" y="45" width="1" height="46" fill="#ff6010" fill-opacity="0.07"/><rect x="584.4" y="45" width="1" height="46" fill="#ff6010" fill-opacity="0.06"/><rect x="585.4" y="45" width="1.5" height="46" fill="#ff6010" fill-opacity="0.05"/><rect x="586.9" y="45" width="1" height="46" fill="#ff6010" fill-opacity="0.18"/><rect x="587.9" y="45" width="2" height="46" fill="#ff6010" fill-opacity="0.08"/><rect x="589.9" y="45" width="1" height="46" fill="#ff6010" fill-opacity="0.08"/><rect x="590.9" y="45" width="1.5" height="46" fill="#ff6010" fill-opacity="0.15"/><rect x="592.4" y="45" width="2" height="46" fill="#ff6010" fill-opacity="0.06"/><rect x="594.4" y="45" width="1.5" height="46" fill="#ff6010" fill-opacity="0.03"/><rect x="595.9" y="45" width="1" height="46" fill="#ff6010" fill-opacity="0.02"/><rect x="596.9" y="45" width="1" height="46" fill="#ff6010" fill-opacity="0.08"/><rect x="597.9" y="45" width="2" height="46" fill="#ff6010" fill-opacity="0.09"/><rect x="599.9" y="45" width="1.5" height="46" fill="#ff6010" fill-opacity="0.17"/><rect x="601.4" y="45" width="1" height="46" fill="#ff6010" fill-opacity="0.03"/><rect x="602.4" y="45" width="2" height="46" fill="#ff6010" fill-opacity="0.14"/><rect x="604.4" y="45" width="2" height="46" fill="#ff6010" fill-opacity="0.19"/><rect x="606.4" y="45" width="2" height="46" fill="#ff6010" fill-opacity="0.00"/><rect x="608.4" y="45" width="2" height="46" fill="#ff6010" fill-opacity="0.19"/><rect x="610.4" y="45" width="2" height="46" fill="#ff6010" fill-opacity="0.19"/><rect x="612.4" y="45" width="1" height="46" fill="#ff6010" fill-opacity="0.16"/><rect x="613.4" y="45" width="1" height="46" fill="#ff6010" fill-opacity="0.03"/><rect x="614.4" y="45" width="1" height="46" fill="#ff6010" fill-opacity="0.19"/><rect x="615.4" y="45" width="2" height="46" fill="#ff6010" fill-opacity="0.02"/><rect x="617.4" y="45" width="1" height="46" fill="#ff6010" fill-opacity="0.00"/><rect x="618.4" y="45" width="1" height="46" fill="#ff6010" fill-opacity="0.05"/><rect x="619.4" y="45" width="1" height="46" fill="#ff6010" fill-opacity="0.13"/><rect x="620.4" y="45" width="1.5" height="46" fill="#ff6010" fill-opacity="0.19"/><rect x="621.9" y="45" width="1.5" height="46" fill="#ff6010" fill-opacity="0.11"/><rect x="623.4" y="45" width="2" height="46" fill="#ff6010" fill-opacity="0.14"/><rect x="625.4" y="45" width="1" height="46" fill="#ff6010" fill-opacity="0.02"/><rect x="626.4" y="45" width="1.5" height="46" fill="#ff6010" fill-opacity="0.10"/><rect x="627.9" y="45" width="1" height="46" fill="#ff6010" fill-opacity="0.08"/><rect x="628.9" y="45" width="1" height="46" fill="#ff6010" fill-opacity="0.16"/><rect x="629.9" y="45" width="1" height="46" fill="#ff6010" fill-opacity="0.00"/><rect x="630.9" y="45" width="1.5" height="46" fill="#ff6010" fill-opacity="0.20"/><rect x="632.4" y="45" width="1.5" height="46" fill="#ff6010" fill-opacity="0.19"/><rect x="633.9" y="45" width="1" height="46" fill="#ff6010" fill-opacity="0.10"/><rect x="634.9" y="45" width="1" height="46" fill="#ff6010" fill-opacity="0.11"/><rect x="635.9" y="45" width="1" height="46" fill="#ff6010" fill-opacity="0.19"/><rect x="636.9" y="45" width="1.5" height="46" fill="#ff6010" fill-opacity="0.01"/></g>
<g clip-path="url(#clipB)"><g filter="url(#bl1)">
<path d="M401.8,122.5 C403.8,126 408.1,133 408.1,141 C408.1,148 405.4,152.5 401.8,152.5 C398.2,152.5 395.5,148 395.5,141 C395.5,133 399.8,126 401.8,122.5 Z" fill="url(#blob)" fill-opacity="1.00"/>
<path d="M415.2,122.5 C417.2,126 421.5,133 421.5,141 C421.5,148 418.8,152.5 415.2,152.5 C411.6,152.5 408.9,148 408.9,141 C408.9,133 413.2,126 415.2,122.5 Z" fill="url(#blob)" fill-opacity="1.00"/>
<path d="M427.4,122.5 C429.4,126 433.7,133 433.7,141 C433.7,148 431.0,152.5 427.4,152.5 C423.8,152.5 421.1,148 421.1,141 C421.1,133 425.4,126 427.4,122.5 Z" fill="url(#blob)" fill-opacity="1.00"/>
<path d="M440.3,122.5 C442.3,126 446.6,133 446.6,141 C446.6,148 443.9,152.5 440.3,152.5 C436.7,152.5 434.0,148 434.0,141 C434.0,133 438.3,126 440.3,122.5 Z" fill="url(#blob)" fill-opacity="1.00"/>
<path d="M453.1,122.5 C455.1,126 459.4,133 459.4,141 C459.4,148 456.7,152.5 453.1,152.5 C449.5,152.5 446.8,148 446.8,141 C446.8,133 451.1,126 453.1,122.5 Z" fill="url(#blob)" fill-opacity="1.00"/>
<path d="M466.0,122.5 C468.0,126 472.3,133 472.3,141 C472.3,148 469.6,152.5 466.0,152.5 C462.4,152.5 459.7,148 459.7,141 C459.7,133 464.0,126 466.0,122.5 Z" fill="url(#blob)" fill-opacity="1.00"/>
<path d="M478.7,122.5 C480.7,126 485.0,133 485.0,141 C485.0,148 482.3,152.5 478.7,152.5 C475.1,152.5 472.4,148 472.4,141 C472.4,133 476.7,126 478.7,122.5 Z" fill="url(#blob)" fill-opacity="1.00"/>
<path d="M492.5,122.5 C494.5,126 498.8,133 498.8,141 C498.8,148 496.1,152.5 492.5,152.5 C488.9,152.5 486.2,148 486.2,141 C486.2,133 490.5,126 492.5,122.5 Z" fill="url(#blob)" fill-opacity="1.00"/>
<path d="M504.8,122.5 C506.8,126 511.1,133 511.1,141 C511.1,148 508.4,152.5 504.8,152.5 C501.2,152.5 498.5,148 498.5,141 C498.5,133 502.8,126 504.8,122.5 Z" fill="url(#blob)" fill-opacity="1.00"/>
<path d="M517.6,122.5 C519.6,126 523.9,133 523.9,141 C523.9,148 521.2,152.5 517.6,152.5 C514.0,152.5 511.3,148 511.3,141 C511.3,133 515.6,126 517.6,122.5 Z" fill="url(#blob)" fill-opacity="1.00"/>
<path d="M530.5,122.5 C532.5,126 536.8,133 536.8,141 C536.8,148 534.1,152.5 530.5,152.5 C526.9,152.5 524.2,148 524.2,141 C524.2,133 528.5,126 530.5,122.5 Z" fill="url(#blob)" fill-opacity="1.00"/>
<path d="M542.7,122.5 C544.7,126 549.0,133 549.0,141 C549.0,148 546.3,152.5 542.7,152.5 C539.1,152.5 536.4,148 536.4,141 C536.4,133 540.7,126 542.7,122.5 Z" fill="url(#blob)" fill-opacity="0.99"/>
<path d="M555.5,122.5 C557.5,126 561.8,133 561.8,141 C561.8,148 559.1,152.5 555.5,152.5 C551.9,152.5 549.2,148 549.2,141 C549.2,133 553.5,126 555.5,122.5 Z" fill="url(#blob)" fill-opacity="0.92"/>
<path d="M568.4,122.5 C570.4,126 574.7,133 574.7,141 C574.7,148 572.0,152.5 568.4,152.5 C564.8,152.5 562.1,148 562.1,141 C562.1,133 566.4,126 568.4,122.5 Z" fill="url(#blob)" fill-opacity="0.86"/>
<path d="M580.9,122.5 C582.9,126 587.2,133 587.2,141 C587.2,148 584.5,152.5 580.9,152.5 C577.3,152.5 574.6,148 574.6,141 C574.6,133 578.9,126 580.9,122.5 Z" fill="url(#blob)" fill-opacity="0.80"/>
<path d="M594.7,122.5 C596.7,126 601.0,133 601.0,141 C601.0,148 598.3,152.5 594.7,152.5 C591.1,152.5 588.4,148 588.4,141 C588.4,133 592.7,126 594.7,122.5 Z" fill="url(#blob)" fill-opacity="0.73"/>
<path d="M606.5,122.5 C608.5,126 612.8,133 612.8,141 C612.8,148 610.1,152.5 606.5,152.5 C602.9,152.5 600.2,148 600.2,141 C600.2,133 604.5,126 606.5,122.5 Z" fill="url(#blob)" fill-opacity="0.67"/>
<path d="M617.7,122.5 C619.7,126 624.0,133 624.0,141 C624.0,148 621.3,152.5 617.7,152.5 C614.1,152.5 611.4,148 611.4,141 C611.4,133 615.7,126 617.7,122.5 Z" fill="url(#blob)" fill-opacity="0.61"/>
<path d="M629.5,122.5 C631.5,126 635.8,133 635.8,141 C635.8,148 633.1,152.5 629.5,152.5 C625.9,152.5 623.2,148 623.2,141 C623.2,133 627.5,126 629.5,122.5 Z" fill="url(#blob)" fill-opacity="0.55"/>
</g></g>
<line x1="400.4" y1="43.2" x2="400.4" y2="45.800000000000004" stroke="#e8e8e8" stroke-width="0.9" />
<line x1="400.4" y1="163.4" x2="400.4" y2="160.8" stroke="#e8e8e8" stroke-width="0.9" />
<line x1="430.1875" y1="43.2" x2="430.1875" y2="45.800000000000004" stroke="#e8e8e8" stroke-width="0.9" />
<line x1="430.1875" y1="163.4" x2="430.1875" y2="160.8" stroke="#e8e8e8" stroke-width="0.9" />
<line x1="459.975" y1="43.2" x2="459.975" y2="45.800000000000004" stroke="#e8e8e8" stroke-width="0.9" />
<line x1="459.975" y1="163.4" x2="459.975" y2="160.8" stroke="#e8e8e8" stroke-width="0.9" />
<line x1="489.7625" y1="43.2" x2="489.7625" y2="45.800000000000004" stroke="#e8e8e8" stroke-width="0.9" />
<line x1="489.7625" y1="163.4" x2="489.7625" y2="160.8" stroke="#e8e8e8" stroke-width="0.9" />
<line x1="519.55" y1="43.2" x2="519.55" y2="45.800000000000004" stroke="#e8e8e8" stroke-width="0.9" />
<line x1="519.55" y1="163.4" x2="519.55" y2="160.8" stroke="#e8e8e8" stroke-width="0.9" />
<line x1="549.3375000000001" y1="43.2" x2="549.3375000000001" y2="45.800000000000004" stroke="#e8e8e8" stroke-width="0.9" />
<line x1="549.3375000000001" y1="163.4" x2="549.3375000000001" y2="160.8" stroke="#e8e8e8" stroke-width="0.9" />
<line x1="579.125" y1="43.2" x2="579.125" y2="45.800000000000004" stroke="#e8e8e8" stroke-width="0.9" />
<line x1="579.125" y1="163.4" x2="579.125" y2="160.8" stroke="#e8e8e8" stroke-width="0.9" />
<line x1="608.9125" y1="43.2" x2="608.9125" y2="45.800000000000004" stroke="#e8e8e8" stroke-width="0.9" />
<line x1="608.9125" y1="163.4" x2="608.9125" y2="160.8" stroke="#e8e8e8" stroke-width="0.9" />
<line x1="638.7" y1="43.2" x2="638.7" y2="45.800000000000004" stroke="#e8e8e8" stroke-width="0.9" />
<line x1="638.7" y1="163.4" x2="638.7" y2="160.8" stroke="#e8e8e8" stroke-width="0.9" />
<line x1="400.4" y1="66.5" x2="403.0" y2="66.5" stroke="#e8e8e8" stroke-width="0.9" />
<line x1="638.7" y1="66.5" x2="636.1" y2="66.5" stroke="#e8e8e8" stroke-width="0.9" />
<line x1="400.4" y1="107.5" x2="403.0" y2="107.5" stroke="#e8e8e8" stroke-width="0.9" />
<line x1="638.7" y1="107.5" x2="636.1" y2="107.5" stroke="#e8e8e8" stroke-width="0.9" />
<line x1="400.4" y1="148.5" x2="403.0" y2="148.5" stroke="#e8e8e8" stroke-width="0.9" />
<line x1="638.7" y1="148.5" x2="636.1" y2="148.5" stroke="#e8e8e8" stroke-width="0.9" />
<text x="440.5" y="110.4" font-size="12.2" fill="#f2f2f2" text-anchor="start" stroke="#f2f2f2" stroke-width="0.22" textLength="102.5" lengthAdjust="spacingAndGlyphs" >Explosion decaying</text>
<line x1="443" y1="119.2" x2="537" y2="119.2" stroke="#f2f2f2" stroke-width="1.4" />
<polyline points="531.5,115.2 538,119.2 531.5,123.2" fill="none" stroke="#f2f2f2" stroke-width="1.4"/>
<text x="607.7" y="72.6" font-size="12.8" fill="#ececec" text-anchor="start" textLength="6.2" lengthAdjust="spacingAndGlyphs" stroke="#ececec" stroke-width="0.3">P</text>
<text x="614.3" y="76.8" font-size="8.8" fill="#ececec" text-anchor="start" stroke="#ececec" stroke-width="0.3">1</text>
<text x="607.4" y="126.1" font-size="12.8" fill="#ececec" text-anchor="start" textLength="6.2" lengthAdjust="spacingAndGlyphs" stroke="#ececec" stroke-width="0.3">P</text>
<text x="613.9" y="129.4" font-size="8.8" fill="#ececec" text-anchor="start" stroke="#ececec" stroke-width="0.3">2</text>
<rect x="575.4" y="35.7" width="63" height="5.3" fill="url(#hot)" />
<text x="562.2" y="18.7" font-size="11.9" fill="#000" text-anchor="start" stroke="#000" stroke-width="0.22" textLength="78" lengthAdjust="spacingAndGlyphs" >Intensity (a.u.)</text>
<text x="585.9" y="33.4" font-size="11" fill="#000" text-anchor="start" stroke="#000" stroke-width="0.22" textLength="15.7" lengthAdjust="spacingAndGlyphs" >0.5</text>
<text x="640.4" y="33.4" font-size="11" fill="#000" text-anchor="end" stroke="#000" stroke-width="0.22" >1</text>
<text x="397.4" y="73.3" font-size="12.9" fill="#000" text-anchor="end" stroke="#000" stroke-width="0.22" textLength="18.3" lengthAdjust="spacingAndGlyphs" >3.1</text>
<text x="397.4" y="113.1" font-size="12.9" fill="#000" text-anchor="end" stroke="#000" stroke-width="0.22" textLength="18.3" lengthAdjust="spacingAndGlyphs" >3.0</text>
<text x="397.4" y="154.8" font-size="12.9" fill="#000" text-anchor="end" stroke="#000" stroke-width="0.22" textLength="18.3" lengthAdjust="spacingAndGlyphs" >2.9</text>
<text x="400.4" y="178.3" font-size="12.4" fill="#000" text-anchor="middle" stroke="#000" stroke-width="0.22" >0</text>
<text x="459.975" y="178.3" font-size="12.4" fill="#000" text-anchor="middle" stroke="#000" stroke-width="0.22" >1000</text>
<text x="519.55" y="178.3" font-size="12.4" fill="#000" text-anchor="middle" stroke="#000" stroke-width="0.22" >2000</text>
<text x="579.125" y="178.3" font-size="12.4" fill="#000" text-anchor="middle" stroke="#000" stroke-width="0.22" >3000</text>
<text x="638.1" y="178.3" font-size="12.4" fill="#000" text-anchor="middle" stroke="#000" stroke-width="0.22" >4000</text>
<text x="519.5" y="191.1" font-size="13.2" fill="#000" text-anchor="middle" stroke="#000" stroke-width="0.22" textLength="59" lengthAdjust="spacingAndGlyphs" >Roundtrips</text>
<text x="372.6" y="105.0" font-size="13" fill="#000" text-anchor="middle" stroke="#000" stroke-width="0.22" textLength="50" lengthAdjust="spacingAndGlyphs" transform="rotate(-90 372.6 105.0)" >Time (ns)</text>
<text x="0.3" y="247.0" font-size="25" fill="#000" text-anchor="start" font-weight="bold" >c</text>
<rect x="34.3" y="263.4" width="266.9" height="119.60000000000002" fill="#f9f9fe" />
<path d="M70.4 272.8h1.0v1.0h-1.0zM102.4 270.4h1.0v1.0h-1.0zM166.0 270.4h1.0v1.0h-1.0zM243.7 272.3h1.0v1.0h-1.0zM59.7 273.7h1.0v1.0h-1.0zM149.4 272.1h1.0v1.0h-1.0zM236.7 272.9h1.0v1.0h-1.0zM225.9 271.8h1.0v1.0h-1.0zM95.4 273.8h1.0v1.0h-1.0zM42.9 271.1h1.0v1.0h-1.0zM41.5 269.5h1.0v1.0h-1.0zM135.8 271.2h1.0v1.0h-1.0zM92.2 271.6h1.0v1.0h-1.0zM93.5 271.9h1.0v1.0h-1.0zM150.8 271.1h1.0v1.0h-1.0zM96.0 271.8h1.0v1.0h-1.0zM92.8 271.0h1.0v1.0h-1.0zM40.5 272.0h1.0v1.0h-1.0zM256.7 270.5h1.0v1.0h-1.0zM84.0 271.3h1.0v1.0h-1.0zM297.7 272.1h1.0v1.0h-1.0zM122.9 271.4h1.0v1.0h-1.0zM225.9 271.2h1.0v1.0h-1.0zM146.6 269.5h1.0v1.0h-1.0zM254.7 271.4h1.0v1.0h-1.0zM190.5 271.1h1.0v1.0h-1.0zM268.6 272.5h1.0v1.0h-1.0zM190.8 270.8h1.0v1.0h-1.0zM43.9 271.9h1.0v1.0h-1.0zM144.6 273.6h1.0v1.0h-1.0zM80.6 270.3h1.0v1.0h-1.0zM213.5 271.3h1.0v1.0h-1.0zM134.1 270.7h1.0v1.0h-1.0zM241.0 272.2h1.0v1.0h-1.0zM172.8 270.9h1.0v1.0h-1.0zM42.6 272.5h1.0v1.0h-1.0zM46.3 271.0h1.0v1.0h-1.0zM191.9 269.1h1.0v1.0h-1.0zM139.1 272.4h1.0v1.0h-1.0zM295.0 272.8h1.0v1.0h-1.0zM238.9 269.9h1.0v1.0h-1.0zM96.3 271.3h1.0v1.0h-1.0zM170.9 273.1h1.0v1.0h-1.0zM156.4 271.4h1.0v1.0h-1.0zM106.1 269.4h1.0v1.0h-1.0zM36.3 271.1h1.0v1.0h-1.0zM242.4 272.7h1.0v1.0h-1.0zM231.0 269.9h1.0v1.0h-1.0zM249.1 270.5h1.0v1.0h-1.0zM147.7 271.6h1.0v1.0h-1.0zM49.7 272.7h1.0v1.0h-1.0zM87.7 270.9h1.0v1.0h-1.0zM168.5 270.9h1.0v1.0h-1.0zM126.5 271.9h1.0v1.0h-1.0zM177.4 270.8h1.0v1.0h-1.0zM156.2 270.8h1.0v1.0h-1.0zM42.2 271.9h1.0v1.0h-1.0zM189.6 272.4h1.0v1.0h-1.0zM262.9 272.3h1.0v1.0h-1.0zM251.1 270.1h1.0v1.0h-1.0zM102.4 272.6h1.0v1.0h-1.0zM56.8 270.5h1.0v1.0h-1.0zM39.2 273.5h1.0v1.0h-1.0zM100.9 272.0h1.0v1.0h-1.0zM63.8 271.1h1.0v1.0h-1.0zM53.2 271.2h1.0v1.0h-1.0zM77.1 271.2h1.0v1.0h-1.0zM107.1 271.7h1.0v1.0h-1.0zM223.3 271.0h1.0v1.0h-1.0zM160.3 272.0h1.0v1.0h-1.0zM41.1 271.0h1.0v1.0h-1.0zM84.6 272.5h1.0v1.0h-1.0zM63.6 272.8h1.0v1.0h-1.0zM90.2 271.1h1.0v1.0h-1.0zM195.2 271.9h1.0v1.0h-1.0zM39.5 271.6h1.0v1.0h-1.0zM73.6 271.7h1.0v1.0h-1.0zM221.5 271.2h1.0v1.0h-1.0zM214.4 271.1h1.0v1.0h-1.0zM293.2 271.6h1.0v1.0h-1.0zM246.1 271.1h1.0v1.0h-1.0zM206.6 271.7h1.0v1.0h-1.0zM139.4 271.0h1.0v1.0h-1.0zM201.9 271.4h1.0v1.0h-1.0zM50.4 271.0h1.0v1.0h-1.0zM266.7 274.3h1.0v1.0h-1.0zM116.0 272.3h1.0v1.0h-1.0zM283.6 271.1h1.0v1.0h-1.0zM231.8 271.1h1.0v1.0h-1.0zM37.0 272.2h1.0v1.0h-1.0zM267.6 273.6h1.0v1.0h-1.0zM289.7 272.2h1.0v1.0h-1.0zM185.9 272.8h1.0v1.0h-1.0zM292.8 273.6h1.0v1.0h-1.0zM221.3 270.8h1.0v1.0h-1.0zM126.7 271.7h1.0v1.0h-1.0zM89.3 271.3h1.0v1.0h-1.0zM86.2 270.9h1.0v1.0h-1.0zM62.5 271.4h1.0v1.0h-1.0zM167.2 271.1h1.0v1.0h-1.0zM121.0 273.3h1.0v1.0h-1.0zM39.6 270.3h1.0v1.0h-1.0zM88.0 270.4h1.0v1.0h-1.0zM242.1 274.4h1.0v1.0h-1.0zM124.6 272.1h1.0v1.0h-1.0zM256.7 273.3h1.0v1.0h-1.0zM281.7 270.6h1.0v1.0h-1.0zM216.8 273.5h1.0v1.0h-1.0zM163.1 272.5h1.0v1.0h-1.0zM227.0 271.7h1.0v1.0h-1.0zM57.2 272.9h1.0v1.0h-1.0zM91.2 273.7h1.0v1.0h-1.0zM235.9 270.2h1.0v1.0h-1.0zM132.3 270.7h1.0v1.0h-1.0zM124.9 271.3h1.0v1.0h-1.0zM194.8 273.7h1.0v1.0h-1.0zM287.6 272.2h1.0v1.0h-1.0zM180.8 271.4h1.0v1.0h-1.0zM62.4 272.2h1.0v1.0h-1.0zM264.2 271.9h1.0v1.0h-1.0zM243.6 272.2h1.0v1.0h-1.0zM197.8 271.0h1.0v1.0h-1.0zM241.9 270.9h1.0v1.0h-1.0zM94.1 272.7h1.0v1.0h-1.0zM56.5 271.6h1.0v1.0h-1.0zM184.3 273.9h1.0v1.0h-1.0zM279.9 271.0h1.0v1.0h-1.0zM243.3 272.0h1.0v1.0h-1.0zM254.1 273.3h1.0v1.0h-1.0zM59.1 271.9h1.0v1.0h-1.0zM65.3 272.0h1.0v1.0h-1.0zM98.3 271.6h1.0v1.0h-1.0zM296.6 271.4h1.0v1.0h-1.0zM79.1 272.0h1.0v1.0h-1.0zM98.8 271.8h1.0v1.0h-1.0zM276.1 271.3h1.0v1.0h-1.0zM135.0 274.0h1.0v1.0h-1.0zM112.7 271.4h1.0v1.0h-1.0zM101.9 271.3h1.0v1.0h-1.0zM207.5 271.9h1.0v1.0h-1.0zM45.3 274.6h1.0v1.0h-1.0zM113.1 272.0h1.0v1.0h-1.0zM192.8 271.0h1.0v1.0h-1.0zM51.5 272.1h1.0v1.0h-1.0zM276.8 274.4h1.0v1.0h-1.0zM64.3 271.3h1.0v1.0h-1.0zM91.8 269.7h1.0v1.0h-1.0zM178.6 269.9h1.0v1.0h-1.0zM217.1 271.4h1.0v1.0h-1.0zM178.3 271.1h1.0v1.0h-1.0zM116.2 271.8h1.0v1.0h-1.0zM109.2 272.2h1.0v1.0h-1.0zM295.3 270.4h1.0v1.0h-1.0zM205.3 272.3h1.0v1.0h-1.0zM284.0 271.1h1.0v1.0h-1.0zM121.5 272.3h1.0v1.0h-1.0zM118.7 273.0h1.0v1.0h-1.0zM115.0 270.1h1.0v1.0h-1.0zM123.4 270.5h1.0v1.0h-1.0zM192.7 271.4h1.0v1.0h-1.0zM99.7 272.5h1.0v1.0h-1.0zM54.0 271.9h1.0v1.0h-1.0zM180.8 272.2h1.0v1.0h-1.0zM203.1 272.0h1.0v1.0h-1.0zM111.8 272.1h1.0v1.0h-1.0zM263.3 270.7h1.0v1.0h-1.0zM75.6 270.0h1.0v1.0h-1.0zM55.2 271.8h1.0v1.0h-1.0zM286.3 272.6h1.0v1.0h-1.0zM295.7 273.3h1.0v1.0h-1.0zM252.4 271.6h1.0v1.0h-1.0zM171.1 272.2h1.0v1.0h-1.0zM278.3 271.2h1.0v1.0h-1.0zM72.3 273.8h1.0v1.0h-1.0zM276.0 272.7h1.0v1.0h-1.0zM274.0 272.0h1.0v1.0h-1.0zM247.7 273.4h1.0v1.0h-1.0zM232.5 270.7h1.0v1.0h-1.0zM217.5 272.3h1.0v1.0h-1.0zM76.6 272.8h1.0v1.0h-1.0zM224.2 271.4h1.0v1.0h-1.0zM51.9 271.1h1.0v1.0h-1.0zM290.0 272.3h1.0v1.0h-1.0zM178.2 270.6h1.0v1.0h-1.0zM260.3 270.8h1.0v1.0h-1.0zM124.5 272.1h1.0v1.0h-1.0zM103.1 273.2h1.0v1.0h-1.0zM145.2 272.0h1.0v1.0h-1.0zM186.0 272.7h1.0v1.0h-1.0zM71.4 272.2h1.0v1.0h-1.0zM67.9 271.7h1.0v1.0h-1.0zM140.2 273.7h1.0v1.0h-1.0zM141.0 271.2h1.0v1.0h-1.0zM36.8 271.3h1.0v1.0h-1.0zM174.9 270.4h1.0v1.0h-1.0zM150.9 271.8h1.0v1.0h-1.0zM216.7 271.7h1.0v1.0h-1.0zM165.9 271.1h1.0v1.0h-1.0zM161.6 272.0h1.0v1.0h-1.0zM183.3 272.8h1.0v1.0h-1.0zM275.0 272.5h1.0v1.0h-1.0zM206.0 271.4h1.0v1.0h-1.0zM47.6 272.9h1.0v1.0h-1.0zM267.2 272.3h1.0v1.0h-1.0zM77.0 272.0h1.0v1.0h-1.0zM117.4 269.7h1.0v1.0h-1.0zM218.3 272.4h1.0v1.0h-1.0zM220.6 271.0h1.0v1.0h-1.0zM229.9 270.2h1.0v1.0h-1.0zM272.3 270.7h1.0v1.0h-1.0zM289.1 271.2h1.0v1.0h-1.0zM101.2 271.5h1.0v1.0h-1.0zM92.4 270.3h1.0v1.0h-1.0zM48.6 271.1h1.0v1.0h-1.0zM215.4 271.6h1.0v1.0h-1.0zM171.2 270.9h1.0v1.0h-1.0zM78.5 271.8h1.0v1.0h-1.0zM294.7 271.5h1.0v1.0h-1.0zM248.8 271.3h1.0v1.0h-1.0zM276.6 271.2h1.0v1.0h-1.0zM289.0 272.9h1.0v1.0h-1.0zM257.8 273.1h1.0v1.0h-1.0zM209.6 271.5h1.0v1.0h-1.0zM279.6 270.8h1.0v1.0h-1.0zM292.1 270.5h1.0v1.0h-1.0zM149.5 273.0h1.0v1.0h-1.0zM78.4 271.6h1.0v1.0h-1.0zM275.6 272.3h1.0v1.0h-1.0zM289.0 272.8h1.0v1.0h-1.0zM142.9 272.7h1.0v1.0h-1.0zM66.1 271.6h1.0v1.0h-1.0zM233.4 272.5h1.0v1.0h-1.0zM35.9 272.2h1.0v1.0h-1.0zM40.4 272.8h1.0v1.0h-1.0zM201.0 270.3h1.0v1.0h-1.0zM89.5 270.6h1.0v1.0h-1.0zM110.2 271.0h1.0v1.0h-1.0zM190.0 271.6h1.0v1.0h-1.0zM101.3 271.1h1.0v1.0h-1.0zM249.0 270.2h1.0v1.0h-1.0z" fill="#5060e8" fill-opacity="0.32"/>
<path d="M292.7 286.8h1.0v1.0h-1.0zM261.5 288.0h1.0v1.0h-1.0zM238.5 287.2h1.0v1.0h-1.0zM110.0 287.9h1.0v1.0h-1.0zM63.4 288.8h1.0v1.0h-1.0zM232.8 287.8h1.0v1.0h-1.0zM179.2 291.0h1.0v1.0h-1.0zM292.7 287.9h1.0v1.0h-1.0zM71.0 286.5h1.0v1.0h-1.0zM117.3 288.5h1.0v1.0h-1.0zM168.1 287.4h1.0v1.0h-1.0zM35.0 289.9h1.0v1.0h-1.0zM152.0 287.3h1.0v1.0h-1.0zM140.6 288.9h1.0v1.0h-1.0zM242.2 287.8h1.0v1.0h-1.0zM206.4 286.9h1.0v1.0h-1.0zM134.8 288.5h1.0v1.0h-1.0zM108.3 288.6h1.0v1.0h-1.0zM193.3 290.6h1.0v1.0h-1.0zM170.2 286.6h1.0v1.0h-1.0zM296.3 285.7h1.0v1.0h-1.0zM143.1 289.2h1.0v1.0h-1.0zM232.1 289.8h1.0v1.0h-1.0zM79.9 288.4h1.0v1.0h-1.0zM199.0 287.1h1.0v1.0h-1.0zM35.7 288.2h1.0v1.0h-1.0zM137.9 287.1h1.0v1.0h-1.0zM262.9 289.2h1.0v1.0h-1.0zM189.6 288.2h1.0v1.0h-1.0zM233.2 285.3h1.0v1.0h-1.0zM165.3 288.4h1.0v1.0h-1.0zM206.7 286.4h1.0v1.0h-1.0zM201.6 286.7h1.0v1.0h-1.0zM202.7 289.7h1.0v1.0h-1.0zM283.0 289.1h1.0v1.0h-1.0zM238.1 285.7h1.0v1.0h-1.0zM250.8 287.4h1.0v1.0h-1.0zM104.9 287.6h1.0v1.0h-1.0zM222.4 289.8h1.0v1.0h-1.0zM75.1 287.2h1.0v1.0h-1.0zM255.5 286.8h1.0v1.0h-1.0zM46.8 288.7h1.0v1.0h-1.0zM170.0 288.4h1.0v1.0h-1.0zM128.9 286.9h1.0v1.0h-1.0zM208.8 290.3h1.0v1.0h-1.0zM285.4 288.7h1.0v1.0h-1.0zM217.7 286.6h1.0v1.0h-1.0zM195.1 289.8h1.0v1.0h-1.0zM90.1 289.3h1.0v1.0h-1.0zM106.1 291.5h1.0v1.0h-1.0zM54.6 289.4h1.0v1.0h-1.0zM132.3 286.9h1.0v1.0h-1.0zM170.3 288.4h1.0v1.0h-1.0zM207.8 287.6h1.0v1.0h-1.0zM223.8 289.0h1.0v1.0h-1.0zM196.3 287.4h1.0v1.0h-1.0zM96.3 287.6h1.0v1.0h-1.0zM244.0 288.2h1.0v1.0h-1.0zM264.4 288.0h1.0v1.0h-1.0zM290.1 289.4h1.0v1.0h-1.0zM222.0 288.7h1.0v1.0h-1.0zM273.0 288.2h1.0v1.0h-1.0zM199.7 287.9h1.0v1.0h-1.0zM236.5 290.0h1.0v1.0h-1.0zM242.9 289.3h1.0v1.0h-1.0zM78.7 290.5h1.0v1.0h-1.0zM292.6 285.4h1.0v1.0h-1.0zM227.7 289.7h1.0v1.0h-1.0zM195.4 288.4h1.0v1.0h-1.0zM71.5 290.3h1.0v1.0h-1.0zM71.4 288.2h1.0v1.0h-1.0zM233.8 287.1h1.0v1.0h-1.0zM98.5 288.0h1.0v1.0h-1.0zM115.7 286.2h1.0v1.0h-1.0zM63.0 287.1h1.0v1.0h-1.0zM61.3 289.6h1.0v1.0h-1.0zM84.3 290.4h1.0v1.0h-1.0zM270.3 289.2h1.0v1.0h-1.0zM92.2 290.8h1.0v1.0h-1.0zM250.7 289.0h1.0v1.0h-1.0zM290.2 287.5h1.0v1.0h-1.0zM256.8 287.6h1.0v1.0h-1.0zM66.1 288.3h1.0v1.0h-1.0zM140.7 287.9h1.0v1.0h-1.0zM165.9 287.8h1.0v1.0h-1.0zM96.2 289.1h1.0v1.0h-1.0zM252.1 286.6h1.0v1.0h-1.0zM90.9 289.0h1.0v1.0h-1.0zM224.2 287.5h1.0v1.0h-1.0zM275.7 290.3h1.0v1.0h-1.0zM298.2 291.1h1.0v1.0h-1.0zM262.0 289.3h1.0v1.0h-1.0zM119.5 287.0h1.0v1.0h-1.0zM278.2 289.8h1.0v1.0h-1.0zM140.7 290.3h1.0v1.0h-1.0zM75.1 286.8h1.0v1.0h-1.0zM276.8 289.3h1.0v1.0h-1.0zM210.9 288.6h1.0v1.0h-1.0zM49.9 287.9h1.0v1.0h-1.0zM157.4 289.0h1.0v1.0h-1.0zM257.3 288.8h1.0v1.0h-1.0zM50.9 288.3h1.0v1.0h-1.0zM257.5 289.7h1.0v1.0h-1.0zM65.9 288.8h1.0v1.0h-1.0zM58.9 290.6h1.0v1.0h-1.0zM232.0 288.9h1.0v1.0h-1.0zM216.7 289.8h1.0v1.0h-1.0zM138.0 286.7h1.0v1.0h-1.0zM202.0 290.6h1.0v1.0h-1.0zM99.2 288.1h1.0v1.0h-1.0zM50.7 290.3h1.0v1.0h-1.0zM127.4 287.7h1.0v1.0h-1.0zM195.2 286.8h1.0v1.0h-1.0zM50.9 287.8h1.0v1.0h-1.0zM128.4 287.6h1.0v1.0h-1.0zM267.9 289.0h1.0v1.0h-1.0zM147.1 287.3h1.0v1.0h-1.0zM231.7 286.5h1.0v1.0h-1.0zM225.8 288.5h1.0v1.0h-1.0zM293.4 287.4h1.0v1.0h-1.0zM74.8 291.1h1.0v1.0h-1.0zM260.5 287.1h1.0v1.0h-1.0zM48.8 290.8h1.0v1.0h-1.0zM159.1 290.0h1.0v1.0h-1.0zM132.9 288.9h1.0v1.0h-1.0zM175.6 288.5h1.0v1.0h-1.0zM152.2 289.5h1.0v1.0h-1.0zM222.3 289.6h1.0v1.0h-1.0zM268.5 290.3h1.0v1.0h-1.0zM58.7 288.8h1.0v1.0h-1.0zM246.8 288.8h1.0v1.0h-1.0zM136.6 288.7h1.0v1.0h-1.0zM228.9 288.2h1.0v1.0h-1.0zM245.3 289.2h1.0v1.0h-1.0zM248.6 289.3h1.0v1.0h-1.0zM147.3 287.5h1.0v1.0h-1.0zM99.8 287.2h1.0v1.0h-1.0zM124.5 288.0h1.0v1.0h-1.0zM242.4 290.4h1.0v1.0h-1.0zM62.5 288.0h1.0v1.0h-1.0zM207.7 284.3h1.0v1.0h-1.0zM225.4 289.9h1.0v1.0h-1.0zM255.9 287.9h1.0v1.0h-1.0zM272.4 286.7h1.0v1.0h-1.0zM255.1 288.3h1.0v1.0h-1.0zM132.9 289.3h1.0v1.0h-1.0zM172.8 289.6h1.0v1.0h-1.0zM187.1 289.3h1.0v1.0h-1.0zM46.3 289.4h1.0v1.0h-1.0zM117.9 286.5h1.0v1.0h-1.0zM113.8 287.7h1.0v1.0h-1.0zM233.1 289.6h1.0v1.0h-1.0zM167.5 287.7h1.0v1.0h-1.0zM277.0 288.4h1.0v1.0h-1.0zM121.0 288.2h1.0v1.0h-1.0zM294.2 289.0h1.0v1.0h-1.0zM161.9 291.4h1.0v1.0h-1.0zM291.7 286.7h1.0v1.0h-1.0zM250.9 291.5h1.0v1.0h-1.0zM247.1 287.0h1.0v1.0h-1.0zM70.5 286.6h1.0v1.0h-1.0zM297.7 288.2h1.0v1.0h-1.0zM242.5 287.8h1.0v1.0h-1.0zM130.6 286.1h1.0v1.0h-1.0zM284.4 287.6h1.0v1.0h-1.0zM157.9 287.3h1.0v1.0h-1.0zM294.3 287.6h1.0v1.0h-1.0zM74.1 288.3h1.0v1.0h-1.0zM216.9 285.5h1.0v1.0h-1.0zM83.7 287.2h1.0v1.0h-1.0zM143.7 288.4h1.0v1.0h-1.0zM61.1 288.0h1.0v1.0h-1.0zM179.4 288.4h1.0v1.0h-1.0zM104.1 289.2h1.0v1.0h-1.0zM202.3 287.9h1.0v1.0h-1.0zM54.1 288.4h1.0v1.0h-1.0zM260.1 287.9h1.0v1.0h-1.0zM263.1 287.8h1.0v1.0h-1.0zM40.6 286.5h1.0v1.0h-1.0zM223.0 290.6h1.0v1.0h-1.0zM110.0 290.1h1.0v1.0h-1.0zM264.1 287.2h1.0v1.0h-1.0zM271.3 286.5h1.0v1.0h-1.0zM179.0 289.5h1.0v1.0h-1.0zM285.1 289.2h1.0v1.0h-1.0zM250.4 286.2h1.0v1.0h-1.0zM299.2 288.5h1.0v1.0h-1.0zM232.6 289.5h1.0v1.0h-1.0zM238.9 286.8h1.0v1.0h-1.0zM141.8 288.3h1.0v1.0h-1.0zM268.6 289.1h1.0v1.0h-1.0zM45.4 286.6h1.0v1.0h-1.0zM260.3 287.6h1.0v1.0h-1.0zM114.1 288.8h1.0v1.0h-1.0zM217.9 289.3h1.0v1.0h-1.0zM115.0 288.5h1.0v1.0h-1.0zM269.8 288.4h1.0v1.0h-1.0zM178.6 284.5h1.0v1.0h-1.0zM186.3 286.8h1.0v1.0h-1.0zM178.4 287.9h1.0v1.0h-1.0zM251.6 290.0h1.0v1.0h-1.0zM201.7 288.1h1.0v1.0h-1.0zM116.3 287.9h1.0v1.0h-1.0zM190.1 290.2h1.0v1.0h-1.0zM180.5 289.4h1.0v1.0h-1.0zM203.5 288.4h1.0v1.0h-1.0zM298.3 288.3h1.0v1.0h-1.0zM132.4 286.6h1.0v1.0h-1.0zM141.3 291.4h1.0v1.0h-1.0zM212.2 287.3h1.0v1.0h-1.0zM272.9 291.1h1.0v1.0h-1.0zM136.4 287.2h1.0v1.0h-1.0zM157.8 288.9h1.0v1.0h-1.0zM233.3 287.1h1.0v1.0h-1.0zM162.3 287.6h1.0v1.0h-1.0zM65.7 289.9h1.0v1.0h-1.0zM128.7 288.3h1.0v1.0h-1.0zM80.4 288.6h1.0v1.0h-1.0zM103.7 289.8h1.0v1.0h-1.0zM110.9 286.9h1.0v1.0h-1.0zM299.1 288.4h1.0v1.0h-1.0zM230.7 290.3h1.0v1.0h-1.0zM217.9 286.1h1.0v1.0h-1.0zM163.5 289.6h1.0v1.0h-1.0zM224.3 284.5h1.0v1.0h-1.0zM224.5 288.7h1.0v1.0h-1.0zM59.0 291.2h1.0v1.0h-1.0zM95.5 291.3h1.0v1.0h-1.0zM41.7 288.5h1.0v1.0h-1.0zM287.0 290.2h1.0v1.0h-1.0zM140.5 288.0h1.0v1.0h-1.0zM58.4 285.7h1.0v1.0h-1.0zM196.9 290.4h1.0v1.0h-1.0zM176.4 288.4h1.0v1.0h-1.0zM126.6 292.2h1.0v1.0h-1.0zM62.1 287.2h1.0v1.0h-1.0zM181.2 286.5h1.0v1.0h-1.0zM66.2 289.6h1.0v1.0h-1.0zM105.1 288.2h1.0v1.0h-1.0zM244.9 290.2h1.0v1.0h-1.0zM262.0 289.0h1.0v1.0h-1.0zM57.9 286.3h1.0v1.0h-1.0zM138.0 287.9h1.0v1.0h-1.0zM169.3 287.4h1.0v1.0h-1.0zM274.6 290.7h1.0v1.0h-1.0zM62.8 290.5h1.0v1.0h-1.0zM137.1 289.3h1.0v1.0h-1.0zM172.7 287.9h1.0v1.0h-1.0zM145.2 292.1h1.0v1.0h-1.0zM111.2 285.5h1.0v1.0h-1.0zM165.3 290.0h1.0v1.0h-1.0zM91.7 287.3h1.0v1.0h-1.0zM236.0 287.6h1.0v1.0h-1.0zM37.1 290.0h1.0v1.0h-1.0zM296.8 286.6h1.0v1.0h-1.0zM291.4 285.6h1.0v1.0h-1.0zM105.7 286.9h1.0v1.0h-1.0zM236.1 288.1h1.0v1.0h-1.0zM257.9 288.7h1.0v1.0h-1.0zM221.9 289.7h1.0v1.0h-1.0zM143.8 289.2h1.0v1.0h-1.0zM183.4 289.2h1.0v1.0h-1.0zM193.3 290.3h1.0v1.0h-1.0zM196.1 288.0h1.0v1.0h-1.0zM74.2 287.5h1.0v1.0h-1.0zM219.0 289.1h1.0v1.0h-1.0zM105.5 288.8h1.0v1.0h-1.0zM159.4 289.9h1.0v1.0h-1.0zM124.4 287.8h1.0v1.0h-1.0zM267.9 287.9h1.0v1.0h-1.0zM218.7 288.0h1.0v1.0h-1.0zM121.2 288.4h1.0v1.0h-1.0zM217.6 286.8h1.0v1.0h-1.0zM271.0 286.3h1.0v1.0h-1.0zM118.3 287.2h1.0v1.0h-1.0zM68.7 288.6h1.0v1.0h-1.0zM71.9 288.5h1.0v1.0h-1.0zM177.5 289.1h1.0v1.0h-1.0zM221.0 286.4h1.0v1.0h-1.0zM94.7 287.6h1.0v1.0h-1.0zM87.6 285.7h1.0v1.0h-1.0zM146.7 287.2h1.0v1.0h-1.0zM35.9 289.8h1.0v1.0h-1.0zM197.8 288.7h1.0v1.0h-1.0zM57.2 288.9h1.0v1.0h-1.0zM295.7 290.7h1.0v1.0h-1.0zM125.2 287.0h1.0v1.0h-1.0zM40.9 287.4h1.0v1.0h-1.0zM122.2 289.2h1.0v1.0h-1.0zM238.8 289.4h1.0v1.0h-1.0zM215.3 289.1h1.0v1.0h-1.0zM226.8 288.7h1.0v1.0h-1.0zM62.1 288.0h1.0v1.0h-1.0zM48.0 289.6h1.0v1.0h-1.0zM43.1 289.5h1.0v1.0h-1.0zM282.1 289.7h1.0v1.0h-1.0zM203.9 288.6h1.0v1.0h-1.0zM107.3 290.8h1.0v1.0h-1.0zM171.3 286.9h1.0v1.0h-1.0zM128.1 291.8h1.0v1.0h-1.0z" fill="#5060e8" fill-opacity="0.32"/>
<path d="M247.7 298.3h1.0v1.0h-1.0zM195.4 298.0h1.0v1.0h-1.0zM265.4 298.3h1.0v1.0h-1.0zM199.2 300.8h1.0v1.0h-1.0zM174.6 298.4h1.0v1.0h-1.0zM139.1 299.2h1.0v1.0h-1.0zM272.8 298.8h1.0v1.0h-1.0zM49.1 298.7h1.0v1.0h-1.0zM169.5 300.2h1.0v1.0h-1.0zM149.9 300.5h1.0v1.0h-1.0zM179.4 299.8h1.0v1.0h-1.0zM175.2 300.8h1.0v1.0h-1.0zM160.2 299.3h1.0v1.0h-1.0zM133.7 300.1h1.0v1.0h-1.0zM208.2 298.4h1.0v1.0h-1.0zM258.3 299.4h1.0v1.0h-1.0zM226.4 299.7h1.0v1.0h-1.0zM116.4 299.5h1.0v1.0h-1.0zM215.6 301.3h1.0v1.0h-1.0zM72.4 302.0h1.0v1.0h-1.0zM267.7 300.3h1.0v1.0h-1.0zM259.5 302.1h1.0v1.0h-1.0zM123.7 300.3h1.0v1.0h-1.0zM259.7 299.3h1.0v1.0h-1.0zM135.9 299.2h1.0v1.0h-1.0zM194.0 300.0h1.0v1.0h-1.0zM106.3 298.7h1.0v1.0h-1.0zM194.7 297.9h1.0v1.0h-1.0zM37.0 302.4h1.0v1.0h-1.0zM205.1 299.0h1.0v1.0h-1.0zM135.3 297.5h1.0v1.0h-1.0zM156.5 298.9h1.0v1.0h-1.0zM241.2 298.8h1.0v1.0h-1.0zM282.1 299.1h1.0v1.0h-1.0zM143.0 299.5h1.0v1.0h-1.0zM159.5 299.6h1.0v1.0h-1.0zM44.7 299.8h1.0v1.0h-1.0zM45.9 299.8h1.0v1.0h-1.0zM64.2 300.7h1.0v1.0h-1.0zM129.2 300.9h1.0v1.0h-1.0zM106.6 302.4h1.0v1.0h-1.0zM208.3 299.5h1.0v1.0h-1.0zM247.3 300.2h1.0v1.0h-1.0zM248.9 299.0h1.0v1.0h-1.0zM98.3 298.8h1.0v1.0h-1.0zM76.8 299.4h1.0v1.0h-1.0zM240.6 300.7h1.0v1.0h-1.0zM267.8 299.3h1.0v1.0h-1.0zM126.5 297.6h1.0v1.0h-1.0zM239.3 296.5h1.0v1.0h-1.0zM49.5 298.7h1.0v1.0h-1.0zM112.7 300.3h1.0v1.0h-1.0zM251.0 298.1h1.0v1.0h-1.0zM203.0 300.5h1.0v1.0h-1.0zM172.3 301.5h1.0v1.0h-1.0zM270.9 300.4h1.0v1.0h-1.0zM80.4 298.9h1.0v1.0h-1.0zM125.1 298.7h1.0v1.0h-1.0zM223.0 300.0h1.0v1.0h-1.0zM272.5 299.8h1.0v1.0h-1.0zM136.3 300.2h1.0v1.0h-1.0zM224.6 299.2h1.0v1.0h-1.0zM61.2 298.2h1.0v1.0h-1.0zM208.7 302.5h1.0v1.0h-1.0zM242.6 298.5h1.0v1.0h-1.0zM165.3 300.1h1.0v1.0h-1.0zM239.6 299.7h1.0v1.0h-1.0zM151.5 299.0h1.0v1.0h-1.0zM178.4 297.3h1.0v1.0h-1.0zM257.2 298.6h1.0v1.0h-1.0zM74.5 299.4h1.0v1.0h-1.0zM41.7 300.2h1.0v1.0h-1.0zM54.6 300.6h1.0v1.0h-1.0zM211.5 301.7h1.0v1.0h-1.0zM246.2 299.6h1.0v1.0h-1.0zM292.3 300.5h1.0v1.0h-1.0zM253.6 300.0h1.0v1.0h-1.0zM139.8 299.7h1.0v1.0h-1.0zM202.7 299.6h1.0v1.0h-1.0zM177.2 297.2h1.0v1.0h-1.0zM138.3 302.0h1.0v1.0h-1.0zM295.0 299.9h1.0v1.0h-1.0zM275.1 299.2h1.0v1.0h-1.0zM98.2 298.9h1.0v1.0h-1.0zM240.1 302.6h1.0v1.0h-1.0zM81.3 298.6h1.0v1.0h-1.0zM189.9 298.5h1.0v1.0h-1.0zM245.2 299.7h1.0v1.0h-1.0zM282.7 299.5h1.0v1.0h-1.0zM217.7 298.0h1.0v1.0h-1.0zM207.9 298.9h1.0v1.0h-1.0zM241.3 299.6h1.0v1.0h-1.0zM66.3 299.1h1.0v1.0h-1.0zM183.1 298.9h1.0v1.0h-1.0zM204.7 296.5h1.0v1.0h-1.0zM98.2 300.2h1.0v1.0h-1.0zM38.0 300.8h1.0v1.0h-1.0zM108.5 299.5h1.0v1.0h-1.0zM144.9 296.9h1.0v1.0h-1.0zM222.2 297.8h1.0v1.0h-1.0zM119.1 298.5h1.0v1.0h-1.0zM167.7 299.5h1.0v1.0h-1.0zM145.4 300.4h1.0v1.0h-1.0zM137.9 300.8h1.0v1.0h-1.0zM88.0 300.3h1.0v1.0h-1.0zM74.9 298.8h1.0v1.0h-1.0zM185.0 301.0h1.0v1.0h-1.0zM199.6 298.1h1.0v1.0h-1.0zM228.5 299.5h1.0v1.0h-1.0zM102.4 300.4h1.0v1.0h-1.0zM127.3 299.6h1.0v1.0h-1.0zM74.3 301.1h1.0v1.0h-1.0zM69.3 299.8h1.0v1.0h-1.0zM247.2 300.6h1.0v1.0h-1.0zM177.2 300.2h1.0v1.0h-1.0zM265.8 301.0h1.0v1.0h-1.0zM187.8 298.7h1.0v1.0h-1.0zM86.7 299.4h1.0v1.0h-1.0zM200.5 301.7h1.0v1.0h-1.0zM50.0 300.8h1.0v1.0h-1.0zM232.5 298.5h1.0v1.0h-1.0zM191.4 301.0h1.0v1.0h-1.0zM69.0 299.3h1.0v1.0h-1.0zM98.7 299.7h1.0v1.0h-1.0zM135.9 299.4h1.0v1.0h-1.0zM296.2 301.5h1.0v1.0h-1.0zM129.3 300.3h1.0v1.0h-1.0zM222.7 299.1h1.0v1.0h-1.0zM126.9 299.3h1.0v1.0h-1.0zM254.0 299.7h1.0v1.0h-1.0zM90.1 298.8h1.0v1.0h-1.0zM249.4 300.0h1.0v1.0h-1.0zM191.8 298.3h1.0v1.0h-1.0zM102.3 298.5h1.0v1.0h-1.0zM50.2 300.3h1.0v1.0h-1.0zM250.0 298.9h1.0v1.0h-1.0zM288.2 299.4h1.0v1.0h-1.0zM261.0 299.4h1.0v1.0h-1.0zM202.6 299.8h1.0v1.0h-1.0zM169.3 300.6h1.0v1.0h-1.0zM67.0 301.4h1.0v1.0h-1.0zM251.8 298.8h1.0v1.0h-1.0zM136.5 300.4h1.0v1.0h-1.0zM224.5 299.5h1.0v1.0h-1.0zM102.2 300.4h1.0v1.0h-1.0zM88.2 299.8h1.0v1.0h-1.0zM237.0 298.8h1.0v1.0h-1.0zM197.3 300.8h1.0v1.0h-1.0zM105.7 298.6h1.0v1.0h-1.0zM278.9 298.4h1.0v1.0h-1.0zM168.0 301.7h1.0v1.0h-1.0zM238.5 297.3h1.0v1.0h-1.0zM146.4 299.7h1.0v1.0h-1.0zM254.9 300.3h1.0v1.0h-1.0zM69.1 298.6h1.0v1.0h-1.0zM46.7 299.3h1.0v1.0h-1.0zM91.6 300.5h1.0v1.0h-1.0zM279.7 298.5h1.0v1.0h-1.0zM275.3 301.3h1.0v1.0h-1.0zM46.1 300.8h1.0v1.0h-1.0zM146.8 297.0h1.0v1.0h-1.0zM192.5 300.9h1.0v1.0h-1.0zM85.1 298.3h1.0v1.0h-1.0zM87.0 299.7h1.0v1.0h-1.0zM130.1 302.2h1.0v1.0h-1.0zM240.6 297.4h1.0v1.0h-1.0zM51.9 300.9h1.0v1.0h-1.0zM255.7 299.1h1.0v1.0h-1.0zM81.6 301.4h1.0v1.0h-1.0zM110.4 301.9h1.0v1.0h-1.0zM46.2 296.1h1.0v1.0h-1.0zM256.1 299.8h1.0v1.0h-1.0zM139.8 301.9h1.0v1.0h-1.0zM257.9 299.7h1.0v1.0h-1.0zM206.0 297.7h1.0v1.0h-1.0zM159.5 301.4h1.0v1.0h-1.0zM282.4 297.3h1.0v1.0h-1.0zM161.2 299.0h1.0v1.0h-1.0zM147.9 298.9h1.0v1.0h-1.0zM74.4 299.2h1.0v1.0h-1.0zM190.9 300.4h1.0v1.0h-1.0zM263.9 299.0h1.0v1.0h-1.0zM243.3 300.0h1.0v1.0h-1.0zM299.4 298.6h1.0v1.0h-1.0zM244.3 299.3h1.0v1.0h-1.0zM186.8 299.5h1.0v1.0h-1.0zM38.6 300.7h1.0v1.0h-1.0zM132.4 299.2h1.0v1.0h-1.0zM180.7 298.8h1.0v1.0h-1.0zM163.3 298.6h1.0v1.0h-1.0zM202.8 300.5h1.0v1.0h-1.0zM167.3 298.7h1.0v1.0h-1.0zM249.5 300.5h1.0v1.0h-1.0zM120.9 299.8h1.0v1.0h-1.0zM91.5 300.3h1.0v1.0h-1.0zM63.4 299.4h1.0v1.0h-1.0zM118.8 297.6h1.0v1.0h-1.0zM298.5 299.7h1.0v1.0h-1.0zM260.5 299.5h1.0v1.0h-1.0zM51.6 299.6h1.0v1.0h-1.0zM201.9 300.2h1.0v1.0h-1.0zM291.5 298.9h1.0v1.0h-1.0zM180.6 298.3h1.0v1.0h-1.0zM54.6 299.1h1.0v1.0h-1.0zM79.9 300.7h1.0v1.0h-1.0zM56.9 299.4h1.0v1.0h-1.0zM109.6 299.7h1.0v1.0h-1.0zM90.6 298.9h1.0v1.0h-1.0zM108.2 297.9h1.0v1.0h-1.0zM114.6 300.0h1.0v1.0h-1.0zM266.2 302.0h1.0v1.0h-1.0zM54.7 299.5h1.0v1.0h-1.0zM118.4 301.9h1.0v1.0h-1.0zM70.1 298.7h1.0v1.0h-1.0zM151.9 298.5h1.0v1.0h-1.0zM42.4 301.3h1.0v1.0h-1.0zM118.4 299.8h1.0v1.0h-1.0zM45.6 297.3h1.0v1.0h-1.0zM190.7 298.5h1.0v1.0h-1.0zM147.3 297.7h1.0v1.0h-1.0zM292.6 300.0h1.0v1.0h-1.0zM69.2 300.4h1.0v1.0h-1.0zM190.2 300.5h1.0v1.0h-1.0zM86.8 300.5h1.0v1.0h-1.0zM49.4 300.9h1.0v1.0h-1.0zM290.2 299.5h1.0v1.0h-1.0zM226.4 300.3h1.0v1.0h-1.0zM37.3 302.5h1.0v1.0h-1.0zM294.8 300.7h1.0v1.0h-1.0zM181.0 300.0h1.0v1.0h-1.0zM37.2 299.8h1.0v1.0h-1.0zM251.2 299.3h1.0v1.0h-1.0zM44.1 299.0h1.0v1.0h-1.0zM111.3 299.7h1.0v1.0h-1.0zM164.7 299.0h1.0v1.0h-1.0zM207.9 300.7h1.0v1.0h-1.0zM86.5 300.6h1.0v1.0h-1.0zM113.5 301.5h1.0v1.0h-1.0zM281.9 298.6h1.0v1.0h-1.0zM40.9 300.4h1.0v1.0h-1.0zM40.3 301.1h1.0v1.0h-1.0zM210.8 300.8h1.0v1.0h-1.0zM287.0 298.1h1.0v1.0h-1.0zM125.8 300.6h1.0v1.0h-1.0zM54.4 298.2h1.0v1.0h-1.0zM247.8 300.7h1.0v1.0h-1.0zM287.0 300.6h1.0v1.0h-1.0zM180.6 298.5h1.0v1.0h-1.0zM167.5 298.0h1.0v1.0h-1.0zM187.3 300.1h1.0v1.0h-1.0zM261.9 298.5h1.0v1.0h-1.0zM255.2 300.2h1.0v1.0h-1.0zM213.8 298.3h1.0v1.0h-1.0zM248.2 299.6h1.0v1.0h-1.0zM195.7 299.7h1.0v1.0h-1.0zM195.0 300.8h1.0v1.0h-1.0zM46.9 297.4h1.0v1.0h-1.0zM96.3 300.5h1.0v1.0h-1.0zM152.5 298.9h1.0v1.0h-1.0zM219.2 297.2h1.0v1.0h-1.0z" fill="#5060e8" fill-opacity="0.32"/>
<path d="M200.6 310.8h1.0v1.0h-1.0zM204.9 312.7h1.0v1.0h-1.0zM129.2 311.8h1.0v1.0h-1.0zM233.9 311.6h1.0v1.0h-1.0zM231.4 311.7h1.0v1.0h-1.0zM124.4 312.0h1.0v1.0h-1.0zM190.9 312.4h1.0v1.0h-1.0zM90.0 309.4h1.0v1.0h-1.0zM56.5 314.4h1.0v1.0h-1.0zM205.8 314.3h1.0v1.0h-1.0zM68.8 310.7h1.0v1.0h-1.0zM195.7 309.0h1.0v1.0h-1.0zM96.4 313.6h1.0v1.0h-1.0zM83.3 311.4h1.0v1.0h-1.0zM237.8 310.2h1.0v1.0h-1.0zM131.7 311.8h1.0v1.0h-1.0zM112.6 310.5h1.0v1.0h-1.0zM157.0 312.5h1.0v1.0h-1.0zM264.3 312.5h1.0v1.0h-1.0zM283.1 312.2h1.0v1.0h-1.0zM195.8 310.5h1.0v1.0h-1.0zM99.3 310.7h1.0v1.0h-1.0zM139.4 312.0h1.0v1.0h-1.0zM296.9 312.5h1.0v1.0h-1.0zM231.8 311.8h1.0v1.0h-1.0zM221.4 311.8h1.0v1.0h-1.0zM116.2 310.0h1.0v1.0h-1.0zM43.1 311.8h1.0v1.0h-1.0zM133.0 309.5h1.0v1.0h-1.0zM170.7 311.0h1.0v1.0h-1.0zM118.9 310.5h1.0v1.0h-1.0zM112.2 310.8h1.0v1.0h-1.0zM180.0 311.8h1.0v1.0h-1.0zM117.1 312.0h1.0v1.0h-1.0zM57.7 310.4h1.0v1.0h-1.0zM265.3 311.9h1.0v1.0h-1.0zM232.9 311.8h1.0v1.0h-1.0zM104.9 308.2h1.0v1.0h-1.0zM133.5 311.9h1.0v1.0h-1.0zM171.3 312.4h1.0v1.0h-1.0zM170.3 313.7h1.0v1.0h-1.0zM294.0 313.8h1.0v1.0h-1.0zM52.9 312.2h1.0v1.0h-1.0zM228.6 311.8h1.0v1.0h-1.0zM260.6 311.9h1.0v1.0h-1.0zM177.3 311.9h1.0v1.0h-1.0zM122.9 312.0h1.0v1.0h-1.0zM90.8 311.8h1.0v1.0h-1.0zM87.8 311.4h1.0v1.0h-1.0zM101.4 313.3h1.0v1.0h-1.0zM96.7 312.4h1.0v1.0h-1.0zM98.0 314.2h1.0v1.0h-1.0zM181.9 310.8h1.0v1.0h-1.0zM142.6 312.1h1.0v1.0h-1.0zM39.0 312.5h1.0v1.0h-1.0zM236.5 313.4h1.0v1.0h-1.0zM92.6 313.0h1.0v1.0h-1.0zM60.7 314.1h1.0v1.0h-1.0zM245.4 312.3h1.0v1.0h-1.0zM255.5 311.3h1.0v1.0h-1.0zM74.6 312.7h1.0v1.0h-1.0zM126.0 312.1h1.0v1.0h-1.0zM191.0 309.8h1.0v1.0h-1.0zM210.9 312.6h1.0v1.0h-1.0zM66.4 312.4h1.0v1.0h-1.0zM65.5 313.7h1.0v1.0h-1.0zM287.2 312.1h1.0v1.0h-1.0zM110.6 311.0h1.0v1.0h-1.0zM101.6 311.0h1.0v1.0h-1.0zM43.3 312.2h1.0v1.0h-1.0zM101.5 312.2h1.0v1.0h-1.0zM155.1 312.8h1.0v1.0h-1.0zM266.4 310.9h1.0v1.0h-1.0zM263.8 310.4h1.0v1.0h-1.0zM137.2 311.0h1.0v1.0h-1.0zM254.7 312.2h1.0v1.0h-1.0zM267.2 313.2h1.0v1.0h-1.0zM65.0 310.9h1.0v1.0h-1.0zM53.9 312.5h1.0v1.0h-1.0zM175.8 309.4h1.0v1.0h-1.0zM278.7 313.6h1.0v1.0h-1.0zM133.0 311.0h1.0v1.0h-1.0zM155.7 311.1h1.0v1.0h-1.0zM159.7 312.8h1.0v1.0h-1.0zM39.3 312.3h1.0v1.0h-1.0zM184.9 312.3h1.0v1.0h-1.0zM265.7 311.6h1.0v1.0h-1.0zM156.0 311.1h1.0v1.0h-1.0zM201.0 312.1h1.0v1.0h-1.0zM196.9 312.2h1.0v1.0h-1.0zM97.2 311.3h1.0v1.0h-1.0zM261.5 311.2h1.0v1.0h-1.0zM116.9 310.4h1.0v1.0h-1.0zM269.6 312.5h1.0v1.0h-1.0zM277.5 312.8h1.0v1.0h-1.0zM53.1 310.3h1.0v1.0h-1.0zM84.3 308.4h1.0v1.0h-1.0zM227.2 311.0h1.0v1.0h-1.0zM85.6 309.9h1.0v1.0h-1.0zM169.3 314.2h1.0v1.0h-1.0zM265.3 313.1h1.0v1.0h-1.0zM200.9 310.2h1.0v1.0h-1.0zM211.2 311.5h1.0v1.0h-1.0zM286.1 312.3h1.0v1.0h-1.0zM43.4 311.6h1.0v1.0h-1.0zM290.4 313.4h1.0v1.0h-1.0zM90.5 311.8h1.0v1.0h-1.0zM121.4 314.1h1.0v1.0h-1.0zM141.5 311.6h1.0v1.0h-1.0zM284.3 312.1h1.0v1.0h-1.0zM219.6 312.3h1.0v1.0h-1.0zM70.7 311.8h1.0v1.0h-1.0zM132.5 312.3h1.0v1.0h-1.0zM95.2 311.4h1.0v1.0h-1.0zM117.3 309.2h1.0v1.0h-1.0zM177.7 311.6h1.0v1.0h-1.0zM274.2 310.6h1.0v1.0h-1.0zM265.7 311.5h1.0v1.0h-1.0zM188.7 310.4h1.0v1.0h-1.0zM129.0 312.0h1.0v1.0h-1.0zM149.5 312.5h1.0v1.0h-1.0zM236.9 312.2h1.0v1.0h-1.0zM70.2 312.0h1.0v1.0h-1.0zM130.9 312.5h1.0v1.0h-1.0zM47.9 310.7h1.0v1.0h-1.0zM214.4 313.1h1.0v1.0h-1.0zM264.6 313.3h1.0v1.0h-1.0zM86.8 312.7h1.0v1.0h-1.0zM125.5 309.8h1.0v1.0h-1.0zM212.4 310.8h1.0v1.0h-1.0zM295.8 312.8h1.0v1.0h-1.0zM162.0 311.9h1.0v1.0h-1.0zM44.4 312.9h1.0v1.0h-1.0zM182.9 312.2h1.0v1.0h-1.0zM70.7 312.8h1.0v1.0h-1.0zM231.2 312.2h1.0v1.0h-1.0zM185.0 313.4h1.0v1.0h-1.0zM270.7 311.8h1.0v1.0h-1.0zM186.6 310.6h1.0v1.0h-1.0zM53.7 311.9h1.0v1.0h-1.0zM51.5 310.5h1.0v1.0h-1.0zM39.8 309.8h1.0v1.0h-1.0zM82.5 311.3h1.0v1.0h-1.0zM255.8 312.7h1.0v1.0h-1.0zM101.7 311.3h1.0v1.0h-1.0zM286.7 313.1h1.0v1.0h-1.0zM112.8 311.5h1.0v1.0h-1.0zM149.1 311.5h1.0v1.0h-1.0zM280.4 312.0h1.0v1.0h-1.0zM208.1 312.9h1.0v1.0h-1.0zM184.6 310.3h1.0v1.0h-1.0zM213.7 311.0h1.0v1.0h-1.0zM120.3 311.1h1.0v1.0h-1.0zM173.2 312.8h1.0v1.0h-1.0zM185.0 312.6h1.0v1.0h-1.0zM153.8 310.9h1.0v1.0h-1.0zM255.4 312.7h1.0v1.0h-1.0zM228.3 311.6h1.0v1.0h-1.0zM100.4 311.8h1.0v1.0h-1.0zM169.1 311.5h1.0v1.0h-1.0zM185.8 311.0h1.0v1.0h-1.0zM245.4 309.3h1.0v1.0h-1.0zM184.0 311.6h1.0v1.0h-1.0zM181.2 311.8h1.0v1.0h-1.0zM183.7 311.8h1.0v1.0h-1.0zM190.7 311.1h1.0v1.0h-1.0zM48.5 311.5h1.0v1.0h-1.0zM150.8 309.6h1.0v1.0h-1.0zM217.0 311.3h1.0v1.0h-1.0zM58.2 310.9h1.0v1.0h-1.0zM235.6 311.4h1.0v1.0h-1.0zM151.9 312.4h1.0v1.0h-1.0zM255.4 313.3h1.0v1.0h-1.0zM291.7 311.4h1.0v1.0h-1.0zM80.7 311.6h1.0v1.0h-1.0zM96.8 311.8h1.0v1.0h-1.0zM267.0 313.4h1.0v1.0h-1.0zM169.8 312.4h1.0v1.0h-1.0zM296.4 312.4h1.0v1.0h-1.0zM104.2 311.8h1.0v1.0h-1.0zM297.4 311.4h1.0v1.0h-1.0zM276.3 312.5h1.0v1.0h-1.0zM198.3 311.3h1.0v1.0h-1.0zM148.0 313.2h1.0v1.0h-1.0zM156.1 311.1h1.0v1.0h-1.0zM197.9 311.6h1.0v1.0h-1.0zM287.8 310.0h1.0v1.0h-1.0zM109.6 310.6h1.0v1.0h-1.0zM75.8 315.2h1.0v1.0h-1.0zM66.3 311.9h1.0v1.0h-1.0zM135.5 310.7h1.0v1.0h-1.0zM198.5 310.2h1.0v1.0h-1.0zM151.2 312.3h1.0v1.0h-1.0zM256.1 310.6h1.0v1.0h-1.0zM49.1 311.7h1.0v1.0h-1.0zM137.5 311.3h1.0v1.0h-1.0zM152.3 312.3h1.0v1.0h-1.0zM260.7 313.0h1.0v1.0h-1.0zM44.4 312.9h1.0v1.0h-1.0zM154.0 314.9h1.0v1.0h-1.0zM138.0 313.6h1.0v1.0h-1.0zM80.8 310.7h1.0v1.0h-1.0zM193.2 312.7h1.0v1.0h-1.0zM182.2 313.7h1.0v1.0h-1.0zM246.3 314.3h1.0v1.0h-1.0zM95.7 312.9h1.0v1.0h-1.0zM259.9 309.5h1.0v1.0h-1.0zM61.7 312.7h1.0v1.0h-1.0zM49.0 309.1h1.0v1.0h-1.0zM158.1 312.3h1.0v1.0h-1.0zM169.2 312.6h1.0v1.0h-1.0zM148.0 313.1h1.0v1.0h-1.0zM270.0 311.7h1.0v1.0h-1.0zM74.3 310.4h1.0v1.0h-1.0zM73.5 313.4h1.0v1.0h-1.0zM94.4 311.5h1.0v1.0h-1.0zM249.6 312.1h1.0v1.0h-1.0zM267.2 313.1h1.0v1.0h-1.0zM62.2 312.1h1.0v1.0h-1.0zM75.0 312.0h1.0v1.0h-1.0zM134.0 311.4h1.0v1.0h-1.0zM38.6 312.7h1.0v1.0h-1.0zM163.8 309.9h1.0v1.0h-1.0zM115.1 312.5h1.0v1.0h-1.0zM188.8 311.0h1.0v1.0h-1.0zM80.9 313.7h1.0v1.0h-1.0zM164.4 310.5h1.0v1.0h-1.0zM177.3 312.2h1.0v1.0h-1.0zM176.8 310.9h1.0v1.0h-1.0zM286.8 313.8h1.0v1.0h-1.0zM182.9 310.5h1.0v1.0h-1.0zM119.5 310.4h1.0v1.0h-1.0zM191.7 310.5h1.0v1.0h-1.0zM139.2 312.1h1.0v1.0h-1.0zM176.9 312.0h1.0v1.0h-1.0zM87.8 312.7h1.0v1.0h-1.0zM192.3 311.9h1.0v1.0h-1.0zM274.6 313.9h1.0v1.0h-1.0zM236.1 310.4h1.0v1.0h-1.0zM126.0 314.3h1.0v1.0h-1.0zM130.6 310.3h1.0v1.0h-1.0zM143.1 310.8h1.0v1.0h-1.0zM243.2 312.4h1.0v1.0h-1.0zM94.3 311.0h1.0v1.0h-1.0zM140.1 311.2h1.0v1.0h-1.0zM81.3 310.1h1.0v1.0h-1.0zM137.8 314.3h1.0v1.0h-1.0zM194.9 310.0h1.0v1.0h-1.0zM241.5 312.3h1.0v1.0h-1.0zM52.3 311.1h1.0v1.0h-1.0zM196.7 310.4h1.0v1.0h-1.0zM112.6 313.1h1.0v1.0h-1.0zM149.8 312.0h1.0v1.0h-1.0zM142.8 311.3h1.0v1.0h-1.0zM75.4 309.9h1.0v1.0h-1.0zM296.3 311.4h1.0v1.0h-1.0zM234.4 312.6h1.0v1.0h-1.0zM178.4 312.8h1.0v1.0h-1.0zM203.7 310.8h1.0v1.0h-1.0zM284.4 308.7h1.0v1.0h-1.0z" fill="#5060e8" fill-opacity="0.32"/>
<path d="M90.0 325.7h1.0v1.0h-1.0zM77.3 326.7h1.0v1.0h-1.0zM291.3 325.1h1.0v1.0h-1.0zM69.2 325.0h1.0v1.0h-1.0zM70.2 322.6h1.0v1.0h-1.0zM220.8 325.8h1.0v1.0h-1.0zM118.8 324.6h1.0v1.0h-1.0zM80.9 324.7h1.0v1.0h-1.0zM97.1 322.3h1.0v1.0h-1.0zM279.2 323.8h1.0v1.0h-1.0zM58.6 322.2h1.0v1.0h-1.0zM72.6 323.5h1.0v1.0h-1.0zM130.3 325.6h1.0v1.0h-1.0zM127.1 325.9h1.0v1.0h-1.0zM52.0 322.2h1.0v1.0h-1.0zM269.8 324.0h1.0v1.0h-1.0zM225.3 324.6h1.0v1.0h-1.0zM36.1 326.5h1.0v1.0h-1.0zM219.5 326.1h1.0v1.0h-1.0zM85.0 324.4h1.0v1.0h-1.0zM246.0 324.7h1.0v1.0h-1.0zM64.0 321.7h1.0v1.0h-1.0zM140.8 325.4h1.0v1.0h-1.0zM298.1 325.1h1.0v1.0h-1.0zM173.3 322.7h1.0v1.0h-1.0zM72.6 322.2h1.0v1.0h-1.0zM133.2 322.5h1.0v1.0h-1.0zM143.8 325.6h1.0v1.0h-1.0zM132.3 323.0h1.0v1.0h-1.0zM52.1 323.5h1.0v1.0h-1.0zM97.8 325.7h1.0v1.0h-1.0zM155.8 324.1h1.0v1.0h-1.0zM198.2 323.4h1.0v1.0h-1.0zM250.7 323.6h1.0v1.0h-1.0zM251.7 325.2h1.0v1.0h-1.0zM242.9 323.9h1.0v1.0h-1.0zM144.9 325.1h1.0v1.0h-1.0zM209.8 322.3h1.0v1.0h-1.0zM274.7 324.1h1.0v1.0h-1.0zM47.3 322.1h1.0v1.0h-1.0zM155.2 323.2h1.0v1.0h-1.0zM189.7 322.3h1.0v1.0h-1.0zM127.3 324.3h1.0v1.0h-1.0zM204.2 323.0h1.0v1.0h-1.0zM150.5 324.0h1.0v1.0h-1.0zM69.2 324.0h1.0v1.0h-1.0zM111.1 323.5h1.0v1.0h-1.0zM52.6 323.9h1.0v1.0h-1.0zM245.8 325.2h1.0v1.0h-1.0zM159.2 323.6h1.0v1.0h-1.0zM194.5 325.1h1.0v1.0h-1.0zM213.3 324.7h1.0v1.0h-1.0zM284.9 322.8h1.0v1.0h-1.0zM143.4 322.5h1.0v1.0h-1.0zM276.3 322.3h1.0v1.0h-1.0zM229.2 323.6h1.0v1.0h-1.0zM150.8 325.4h1.0v1.0h-1.0zM264.2 324.5h1.0v1.0h-1.0zM132.6 324.3h1.0v1.0h-1.0zM274.9 324.1h1.0v1.0h-1.0zM64.2 323.5h1.0v1.0h-1.0zM170.5 323.3h1.0v1.0h-1.0zM276.2 323.9h1.0v1.0h-1.0zM196.7 324.9h1.0v1.0h-1.0zM186.7 322.6h1.0v1.0h-1.0zM45.6 323.3h1.0v1.0h-1.0zM192.5 323.5h1.0v1.0h-1.0zM150.8 325.6h1.0v1.0h-1.0zM106.0 324.9h1.0v1.0h-1.0zM292.0 323.8h1.0v1.0h-1.0zM161.3 322.8h1.0v1.0h-1.0zM80.8 323.6h1.0v1.0h-1.0zM221.9 322.1h1.0v1.0h-1.0zM83.2 324.3h1.0v1.0h-1.0zM169.9 322.6h1.0v1.0h-1.0zM211.4 322.0h1.0v1.0h-1.0zM144.4 323.1h1.0v1.0h-1.0zM161.3 322.2h1.0v1.0h-1.0zM201.8 323.6h1.0v1.0h-1.0zM74.0 324.2h1.0v1.0h-1.0zM292.5 325.7h1.0v1.0h-1.0zM103.5 322.3h1.0v1.0h-1.0zM257.0 324.2h1.0v1.0h-1.0zM115.1 322.2h1.0v1.0h-1.0zM63.1 328.6h1.0v1.0h-1.0zM260.2 323.7h1.0v1.0h-1.0zM152.9 323.4h1.0v1.0h-1.0zM178.4 321.0h1.0v1.0h-1.0zM67.9 325.4h1.0v1.0h-1.0zM238.7 323.6h1.0v1.0h-1.0zM199.7 325.1h1.0v1.0h-1.0zM38.0 324.4h1.0v1.0h-1.0zM105.2 325.7h1.0v1.0h-1.0zM184.7 323.3h1.0v1.0h-1.0zM64.5 323.1h1.0v1.0h-1.0zM203.7 322.2h1.0v1.0h-1.0zM217.1 325.1h1.0v1.0h-1.0zM196.7 323.2h1.0v1.0h-1.0zM175.1 322.1h1.0v1.0h-1.0zM84.6 322.8h1.0v1.0h-1.0zM49.5 324.1h1.0v1.0h-1.0zM181.8 324.1h1.0v1.0h-1.0zM115.6 324.0h1.0v1.0h-1.0zM74.6 323.0h1.0v1.0h-1.0zM264.1 324.8h1.0v1.0h-1.0zM217.6 324.4h1.0v1.0h-1.0zM183.9 323.7h1.0v1.0h-1.0zM187.8 324.5h1.0v1.0h-1.0zM100.5 324.4h1.0v1.0h-1.0zM282.0 323.0h1.0v1.0h-1.0zM40.6 323.0h1.0v1.0h-1.0zM160.5 323.1h1.0v1.0h-1.0zM150.4 324.1h1.0v1.0h-1.0zM238.2 323.0h1.0v1.0h-1.0zM43.8 322.2h1.0v1.0h-1.0zM148.6 322.0h1.0v1.0h-1.0zM259.7 323.1h1.0v1.0h-1.0zM276.1 324.8h1.0v1.0h-1.0zM297.2 324.0h1.0v1.0h-1.0zM284.4 322.9h1.0v1.0h-1.0zM131.6 324.6h1.0v1.0h-1.0zM92.5 323.0h1.0v1.0h-1.0zM103.1 322.5h1.0v1.0h-1.0zM172.8 320.4h1.0v1.0h-1.0zM63.2 322.7h1.0v1.0h-1.0zM241.8 321.2h1.0v1.0h-1.0zM35.3 322.9h1.0v1.0h-1.0zM220.6 325.9h1.0v1.0h-1.0zM298.7 325.7h1.0v1.0h-1.0zM217.5 322.4h1.0v1.0h-1.0zM135.6 326.0h1.0v1.0h-1.0zM155.9 324.3h1.0v1.0h-1.0zM263.9 325.5h1.0v1.0h-1.0zM205.8 325.7h1.0v1.0h-1.0zM269.5 323.4h1.0v1.0h-1.0zM171.5 322.5h1.0v1.0h-1.0zM60.9 323.9h1.0v1.0h-1.0zM81.9 325.5h1.0v1.0h-1.0zM129.8 322.7h1.0v1.0h-1.0zM271.6 322.4h1.0v1.0h-1.0zM149.6 322.5h1.0v1.0h-1.0zM234.8 323.3h1.0v1.0h-1.0zM200.5 324.5h1.0v1.0h-1.0zM68.5 323.6h1.0v1.0h-1.0zM112.3 322.4h1.0v1.0h-1.0zM88.2 322.6h1.0v1.0h-1.0zM106.7 323.0h1.0v1.0h-1.0zM254.6 323.2h1.0v1.0h-1.0zM63.0 324.0h1.0v1.0h-1.0zM224.0 323.1h1.0v1.0h-1.0zM242.0 326.4h1.0v1.0h-1.0zM41.3 322.8h1.0v1.0h-1.0zM209.9 325.7h1.0v1.0h-1.0zM155.1 322.6h1.0v1.0h-1.0zM233.5 323.3h1.0v1.0h-1.0zM142.4 326.1h1.0v1.0h-1.0zM292.0 325.5h1.0v1.0h-1.0zM69.2 324.1h1.0v1.0h-1.0zM237.8 325.3h1.0v1.0h-1.0zM257.7 323.5h1.0v1.0h-1.0zM96.5 326.1h1.0v1.0h-1.0zM143.6 324.2h1.0v1.0h-1.0zM57.1 322.5h1.0v1.0h-1.0zM57.0 321.3h1.0v1.0h-1.0zM196.6 323.6h1.0v1.0h-1.0zM54.2 324.1h1.0v1.0h-1.0zM46.8 323.4h1.0v1.0h-1.0zM177.2 324.8h1.0v1.0h-1.0zM199.2 325.3h1.0v1.0h-1.0zM80.1 321.7h1.0v1.0h-1.0zM201.1 324.5h1.0v1.0h-1.0zM194.5 323.1h1.0v1.0h-1.0zM296.6 322.5h1.0v1.0h-1.0zM117.1 322.3h1.0v1.0h-1.0zM297.7 324.4h1.0v1.0h-1.0zM114.7 322.8h1.0v1.0h-1.0zM36.1 321.2h1.0v1.0h-1.0zM242.7 324.1h1.0v1.0h-1.0zM73.9 323.8h1.0v1.0h-1.0zM103.6 324.6h1.0v1.0h-1.0zM88.5 324.6h1.0v1.0h-1.0zM277.0 325.2h1.0v1.0h-1.0zM261.2 323.0h1.0v1.0h-1.0zM275.4 323.0h1.0v1.0h-1.0zM90.7 324.7h1.0v1.0h-1.0zM244.1 324.0h1.0v1.0h-1.0zM220.4 323.5h1.0v1.0h-1.0zM203.6 324.6h1.0v1.0h-1.0zM170.3 324.2h1.0v1.0h-1.0zM56.9 322.4h1.0v1.0h-1.0zM53.5 324.0h1.0v1.0h-1.0zM224.1 325.4h1.0v1.0h-1.0zM182.1 327.0h1.0v1.0h-1.0zM156.2 324.0h1.0v1.0h-1.0zM177.9 324.1h1.0v1.0h-1.0zM91.5 324.7h1.0v1.0h-1.0zM195.4 324.7h1.0v1.0h-1.0zM127.4 323.2h1.0v1.0h-1.0zM111.0 324.0h1.0v1.0h-1.0zM241.7 323.8h1.0v1.0h-1.0zM293.7 324.3h1.0v1.0h-1.0zM154.6 323.9h1.0v1.0h-1.0zM115.4 323.9h1.0v1.0h-1.0zM85.9 326.4h1.0v1.0h-1.0zM86.4 325.3h1.0v1.0h-1.0zM216.5 322.8h1.0v1.0h-1.0zM211.8 327.3h1.0v1.0h-1.0zM42.4 324.4h1.0v1.0h-1.0zM95.0 321.4h1.0v1.0h-1.0zM286.3 324.2h1.0v1.0h-1.0zM37.1 324.0h1.0v1.0h-1.0zM71.1 324.0h1.0v1.0h-1.0zM276.9 325.2h1.0v1.0h-1.0zM86.4 324.6h1.0v1.0h-1.0zM36.9 323.6h1.0v1.0h-1.0zM178.6 324.8h1.0v1.0h-1.0zM266.3 322.2h1.0v1.0h-1.0zM108.7 323.5h1.0v1.0h-1.0zM82.5 322.5h1.0v1.0h-1.0zM273.7 324.0h1.0v1.0h-1.0zM90.0 324.2h1.0v1.0h-1.0zM118.8 323.9h1.0v1.0h-1.0zM92.8 321.7h1.0v1.0h-1.0zM227.7 325.4h1.0v1.0h-1.0zM192.0 325.1h1.0v1.0h-1.0zM52.0 321.5h1.0v1.0h-1.0zM217.4 324.7h1.0v1.0h-1.0zM138.0 324.8h1.0v1.0h-1.0zM106.7 324.6h1.0v1.0h-1.0zM221.9 324.0h1.0v1.0h-1.0zM288.4 324.0h1.0v1.0h-1.0zM185.7 323.6h1.0v1.0h-1.0zM85.3 322.2h1.0v1.0h-1.0zM77.8 323.6h1.0v1.0h-1.0zM58.1 323.4h1.0v1.0h-1.0zM257.6 323.9h1.0v1.0h-1.0zM270.2 326.1h1.0v1.0h-1.0zM257.0 324.0h1.0v1.0h-1.0zM45.3 322.5h1.0v1.0h-1.0zM81.2 323.0h1.0v1.0h-1.0zM251.7 321.6h1.0v1.0h-1.0zM282.5 322.8h1.0v1.0h-1.0zM291.7 322.4h1.0v1.0h-1.0zM51.6 321.5h1.0v1.0h-1.0zM124.3 322.3h1.0v1.0h-1.0zM132.2 324.0h1.0v1.0h-1.0zM251.2 321.6h1.0v1.0h-1.0zM152.2 322.6h1.0v1.0h-1.0zM284.3 321.3h1.0v1.0h-1.0zM184.8 327.0h1.0v1.0h-1.0zM134.7 323.4h1.0v1.0h-1.0zM216.8 323.4h1.0v1.0h-1.0zM193.7 324.0h1.0v1.0h-1.0zM145.9 323.3h1.0v1.0h-1.0zM190.1 325.8h1.0v1.0h-1.0zM273.3 324.6h1.0v1.0h-1.0zM200.5 324.1h1.0v1.0h-1.0zM155.2 320.7h1.0v1.0h-1.0zM170.4 325.3h1.0v1.0h-1.0zM108.1 322.5h1.0v1.0h-1.0zM190.9 324.1h1.0v1.0h-1.0zM69.2 321.3h1.0v1.0h-1.0zM79.1 323.0h1.0v1.0h-1.0zM228.1 321.9h1.0v1.0h-1.0zM164.4 321.3h1.0v1.0h-1.0zM102.3 326.0h1.0v1.0h-1.0zM110.8 324.3h1.0v1.0h-1.0zM200.4 323.9h1.0v1.0h-1.0zM210.4 324.2h1.0v1.0h-1.0zM79.9 325.9h1.0v1.0h-1.0zM133.3 322.3h1.0v1.0h-1.0zM154.8 322.1h1.0v1.0h-1.0zM248.9 321.9h1.0v1.0h-1.0zM255.6 324.1h1.0v1.0h-1.0zM183.9 321.0h1.0v1.0h-1.0zM43.8 322.6h1.0v1.0h-1.0zM39.8 324.9h1.0v1.0h-1.0zM177.2 324.1h1.0v1.0h-1.0zM198.5 323.7h1.0v1.0h-1.0zM266.3 323.6h1.0v1.0h-1.0z" fill="#5060e8" fill-opacity="0.32"/>
<path d="M97.7 346.1h1.0v1.0h-1.0zM258.6 344.8h1.0v1.0h-1.0zM223.6 346.4h1.0v1.0h-1.0zM139.1 345.2h1.0v1.0h-1.0zM297.9 345.1h1.0v1.0h-1.0zM81.0 346.2h1.0v1.0h-1.0zM36.0 343.4h1.0v1.0h-1.0zM77.9 344.6h1.0v1.0h-1.0zM256.7 345.5h1.0v1.0h-1.0zM213.2 347.8h1.0v1.0h-1.0zM292.1 342.9h1.0v1.0h-1.0zM195.1 345.9h1.0v1.0h-1.0zM224.2 343.8h1.0v1.0h-1.0zM106.8 345.8h1.0v1.0h-1.0zM124.1 345.4h1.0v1.0h-1.0zM255.2 344.8h1.0v1.0h-1.0zM233.5 345.7h1.0v1.0h-1.0zM256.1 346.1h1.0v1.0h-1.0zM169.6 343.6h1.0v1.0h-1.0zM80.3 344.9h1.0v1.0h-1.0zM297.2 345.0h1.0v1.0h-1.0zM126.8 344.0h1.0v1.0h-1.0zM222.3 346.0h1.0v1.0h-1.0zM110.7 343.9h1.0v1.0h-1.0zM129.9 342.6h1.0v1.0h-1.0zM221.3 344.3h1.0v1.0h-1.0zM94.5 346.7h1.0v1.0h-1.0zM104.5 345.2h1.0v1.0h-1.0zM267.0 347.1h1.0v1.0h-1.0zM246.9 348.4h1.0v1.0h-1.0zM101.7 347.2h1.0v1.0h-1.0zM64.1 345.2h1.0v1.0h-1.0zM75.1 344.4h1.0v1.0h-1.0zM59.9 345.5h1.0v1.0h-1.0zM180.3 343.8h1.0v1.0h-1.0zM50.1 343.3h1.0v1.0h-1.0zM48.4 343.1h1.0v1.0h-1.0zM89.9 345.3h1.0v1.0h-1.0zM192.5 347.0h1.0v1.0h-1.0zM266.2 346.6h1.0v1.0h-1.0zM282.8 344.6h1.0v1.0h-1.0zM251.4 345.3h1.0v1.0h-1.0zM151.7 344.3h1.0v1.0h-1.0zM222.7 346.0h1.0v1.0h-1.0zM227.7 344.1h1.0v1.0h-1.0zM74.8 345.4h1.0v1.0h-1.0zM48.8 348.1h1.0v1.0h-1.0zM52.6 344.3h1.0v1.0h-1.0zM191.9 346.5h1.0v1.0h-1.0zM291.9 344.7h1.0v1.0h-1.0zM73.3 344.6h1.0v1.0h-1.0zM65.2 342.7h1.0v1.0h-1.0zM88.9 345.8h1.0v1.0h-1.0zM198.1 344.7h1.0v1.0h-1.0zM276.3 344.5h1.0v1.0h-1.0zM114.0 343.0h1.0v1.0h-1.0zM259.8 345.8h1.0v1.0h-1.0zM164.4 345.9h1.0v1.0h-1.0zM221.3 345.5h1.0v1.0h-1.0zM132.3 345.1h1.0v1.0h-1.0zM76.0 346.1h1.0v1.0h-1.0zM190.9 344.3h1.0v1.0h-1.0zM147.7 346.7h1.0v1.0h-1.0zM273.3 342.9h1.0v1.0h-1.0zM56.3 343.4h1.0v1.0h-1.0zM277.9 343.7h1.0v1.0h-1.0zM182.1 344.3h1.0v1.0h-1.0zM37.0 345.1h1.0v1.0h-1.0zM41.2 344.7h1.0v1.0h-1.0zM141.4 346.9h1.0v1.0h-1.0zM178.3 344.6h1.0v1.0h-1.0zM278.6 348.2h1.0v1.0h-1.0zM104.7 344.6h1.0v1.0h-1.0zM139.5 345.4h1.0v1.0h-1.0zM98.8 344.8h1.0v1.0h-1.0zM216.5 344.0h1.0v1.0h-1.0zM41.8 344.5h1.0v1.0h-1.0zM111.7 343.4h1.0v1.0h-1.0zM239.0 346.7h1.0v1.0h-1.0zM218.8 343.0h1.0v1.0h-1.0zM151.1 343.2h1.0v1.0h-1.0zM118.4 344.0h1.0v1.0h-1.0zM268.8 345.4h1.0v1.0h-1.0zM235.9 343.2h1.0v1.0h-1.0zM48.4 345.5h1.0v1.0h-1.0zM216.6 343.8h1.0v1.0h-1.0zM207.2 343.3h1.0v1.0h-1.0zM262.0 345.9h1.0v1.0h-1.0zM298.2 347.6h1.0v1.0h-1.0zM240.1 345.3h1.0v1.0h-1.0zM192.6 345.1h1.0v1.0h-1.0zM142.0 343.9h1.0v1.0h-1.0zM45.6 347.0h1.0v1.0h-1.0zM171.6 344.1h1.0v1.0h-1.0zM197.1 345.3h1.0v1.0h-1.0zM185.9 344.4h1.0v1.0h-1.0zM226.3 342.1h1.0v1.0h-1.0zM102.7 343.4h1.0v1.0h-1.0zM214.8 345.2h1.0v1.0h-1.0zM283.9 343.8h1.0v1.0h-1.0zM143.9 345.4h1.0v1.0h-1.0zM138.9 345.6h1.0v1.0h-1.0zM296.2 347.2h1.0v1.0h-1.0zM210.5 343.7h1.0v1.0h-1.0zM168.1 344.0h1.0v1.0h-1.0zM287.7 343.7h1.0v1.0h-1.0zM138.9 343.5h1.0v1.0h-1.0zM247.7 346.2h1.0v1.0h-1.0zM230.6 345.9h1.0v1.0h-1.0zM106.0 346.4h1.0v1.0h-1.0zM107.4 345.0h1.0v1.0h-1.0zM66.5 345.2h1.0v1.0h-1.0zM212.8 345.2h1.0v1.0h-1.0zM285.6 344.5h1.0v1.0h-1.0zM158.2 345.1h1.0v1.0h-1.0zM56.0 344.7h1.0v1.0h-1.0zM250.6 345.3h1.0v1.0h-1.0zM209.0 345.2h1.0v1.0h-1.0zM46.4 343.1h1.0v1.0h-1.0zM65.0 346.1h1.0v1.0h-1.0zM258.0 347.8h1.0v1.0h-1.0zM197.5 343.3h1.0v1.0h-1.0zM252.4 345.8h1.0v1.0h-1.0zM266.7 346.3h1.0v1.0h-1.0zM264.1 346.1h1.0v1.0h-1.0zM140.2 347.0h1.0v1.0h-1.0zM170.6 345.5h1.0v1.0h-1.0zM121.2 343.3h1.0v1.0h-1.0zM261.5 347.0h1.0v1.0h-1.0zM48.0 344.1h1.0v1.0h-1.0zM38.8 344.5h1.0v1.0h-1.0zM57.9 344.7h1.0v1.0h-1.0zM265.6 345.9h1.0v1.0h-1.0zM115.6 345.3h1.0v1.0h-1.0zM281.8 347.0h1.0v1.0h-1.0zM156.3 344.3h1.0v1.0h-1.0zM65.9 345.8h1.0v1.0h-1.0zM204.6 344.8h1.0v1.0h-1.0zM241.0 342.5h1.0v1.0h-1.0zM283.5 344.8h1.0v1.0h-1.0zM131.8 344.9h1.0v1.0h-1.0zM149.0 344.5h1.0v1.0h-1.0zM212.9 344.8h1.0v1.0h-1.0zM236.0 346.1h1.0v1.0h-1.0zM90.7 345.6h1.0v1.0h-1.0zM93.9 344.7h1.0v1.0h-1.0zM197.6 345.3h1.0v1.0h-1.0zM129.9 347.3h1.0v1.0h-1.0zM68.5 344.4h1.0v1.0h-1.0zM200.1 343.9h1.0v1.0h-1.0zM64.5 345.9h1.0v1.0h-1.0zM171.3 345.3h1.0v1.0h-1.0zM87.5 345.6h1.0v1.0h-1.0zM98.9 347.2h1.0v1.0h-1.0zM126.7 347.9h1.0v1.0h-1.0zM239.4 342.0h1.0v1.0h-1.0zM72.0 345.0h1.0v1.0h-1.0zM246.6 344.5h1.0v1.0h-1.0zM107.9 345.2h1.0v1.0h-1.0zM72.5 346.2h1.0v1.0h-1.0zM211.5 345.8h1.0v1.0h-1.0zM246.0 343.4h1.0v1.0h-1.0zM77.5 344.7h1.0v1.0h-1.0zM121.3 347.3h1.0v1.0h-1.0zM232.7 344.4h1.0v1.0h-1.0zM93.4 344.7h1.0v1.0h-1.0zM279.4 346.3h1.0v1.0h-1.0zM39.0 344.1h1.0v1.0h-1.0zM39.2 347.0h1.0v1.0h-1.0zM219.7 344.2h1.0v1.0h-1.0zM103.6 345.4h1.0v1.0h-1.0zM217.1 344.7h1.0v1.0h-1.0zM217.1 343.5h1.0v1.0h-1.0zM85.0 346.6h1.0v1.0h-1.0zM289.7 346.0h1.0v1.0h-1.0zM122.2 344.6h1.0v1.0h-1.0zM245.4 344.1h1.0v1.0h-1.0zM217.9 346.3h1.0v1.0h-1.0zM285.2 345.0h1.0v1.0h-1.0zM128.4 344.0h1.0v1.0h-1.0zM54.7 345.8h1.0v1.0h-1.0zM93.9 342.8h1.0v1.0h-1.0zM159.8 344.4h1.0v1.0h-1.0zM42.6 345.8h1.0v1.0h-1.0zM192.3 345.7h1.0v1.0h-1.0zM234.6 344.8h1.0v1.0h-1.0zM239.6 342.7h1.0v1.0h-1.0zM146.9 344.5h1.0v1.0h-1.0zM199.4 345.6h1.0v1.0h-1.0zM190.3 345.3h1.0v1.0h-1.0zM257.9 342.2h1.0v1.0h-1.0zM165.6 345.5h1.0v1.0h-1.0zM143.4 345.6h1.0v1.0h-1.0zM273.5 342.4h1.0v1.0h-1.0zM209.5 345.2h1.0v1.0h-1.0zM182.5 346.0h1.0v1.0h-1.0zM44.4 344.4h1.0v1.0h-1.0zM101.3 347.0h1.0v1.0h-1.0zM206.5 344.8h1.0v1.0h-1.0zM123.1 345.6h1.0v1.0h-1.0zM119.9 344.8h1.0v1.0h-1.0zM278.1 346.0h1.0v1.0h-1.0zM187.1 344.1h1.0v1.0h-1.0zM111.6 345.0h1.0v1.0h-1.0zM246.5 344.7h1.0v1.0h-1.0zM137.4 345.6h1.0v1.0h-1.0zM213.2 347.1h1.0v1.0h-1.0zM165.9 344.2h1.0v1.0h-1.0zM79.4 345.3h1.0v1.0h-1.0zM189.2 344.8h1.0v1.0h-1.0zM292.2 344.4h1.0v1.0h-1.0zM115.7 346.3h1.0v1.0h-1.0zM144.9 346.3h1.0v1.0h-1.0zM220.6 346.1h1.0v1.0h-1.0zM69.0 345.9h1.0v1.0h-1.0zM128.7 345.1h1.0v1.0h-1.0zM149.9 344.7h1.0v1.0h-1.0zM43.5 343.6h1.0v1.0h-1.0zM39.8 344.3h1.0v1.0h-1.0zM248.9 345.3h1.0v1.0h-1.0zM232.4 345.6h1.0v1.0h-1.0zM90.3 343.4h1.0v1.0h-1.0zM244.6 344.8h1.0v1.0h-1.0zM45.1 345.7h1.0v1.0h-1.0zM138.2 346.7h1.0v1.0h-1.0zM209.6 344.5h1.0v1.0h-1.0zM135.5 342.6h1.0v1.0h-1.0zM299.4 346.0h1.0v1.0h-1.0zM123.2 343.8h1.0v1.0h-1.0zM88.6 344.3h1.0v1.0h-1.0zM170.3 346.8h1.0v1.0h-1.0zM142.0 346.1h1.0v1.0h-1.0zM208.1 345.2h1.0v1.0h-1.0zM285.8 344.1h1.0v1.0h-1.0zM296.2 344.5h1.0v1.0h-1.0zM204.2 345.0h1.0v1.0h-1.0zM214.5 345.4h1.0v1.0h-1.0zM109.5 347.0h1.0v1.0h-1.0zM103.7 346.4h1.0v1.0h-1.0zM235.1 345.9h1.0v1.0h-1.0zM218.7 344.7h1.0v1.0h-1.0zM49.1 345.9h1.0v1.0h-1.0zM81.3 345.0h1.0v1.0h-1.0zM46.0 345.8h1.0v1.0h-1.0zM140.6 346.4h1.0v1.0h-1.0zM35.5 345.1h1.0v1.0h-1.0zM135.9 345.6h1.0v1.0h-1.0zM219.4 345.4h1.0v1.0h-1.0zM54.0 345.3h1.0v1.0h-1.0zM204.6 343.2h1.0v1.0h-1.0zM175.4 344.9h1.0v1.0h-1.0zM142.4 344.2h1.0v1.0h-1.0zM39.5 346.2h1.0v1.0h-1.0zM198.2 345.0h1.0v1.0h-1.0zM290.6 345.2h1.0v1.0h-1.0zM277.8 344.7h1.0v1.0h-1.0zM139.6 344.4h1.0v1.0h-1.0zM59.1 345.4h1.0v1.0h-1.0zM154.5 342.7h1.0v1.0h-1.0zM210.9 344.4h1.0v1.0h-1.0z" fill="#5060e8" fill-opacity="0.32"/>
<path d="M85.6 362.1h1.0v1.0h-1.0zM100.3 362.5h1.0v1.0h-1.0zM112.3 363.5h1.0v1.0h-1.0zM73.8 366.3h1.0v1.0h-1.0zM202.3 362.6h1.0v1.0h-1.0zM167.3 364.8h1.0v1.0h-1.0zM92.8 364.4h1.0v1.0h-1.0zM40.6 362.6h1.0v1.0h-1.0zM92.7 364.0h1.0v1.0h-1.0zM77.9 364.4h1.0v1.0h-1.0zM205.7 362.8h1.0v1.0h-1.0zM103.0 363.0h1.0v1.0h-1.0zM203.1 362.4h1.0v1.0h-1.0zM263.7 364.8h1.0v1.0h-1.0zM225.4 364.4h1.0v1.0h-1.0zM260.3 363.3h1.0v1.0h-1.0zM142.3 364.5h1.0v1.0h-1.0zM110.7 362.5h1.0v1.0h-1.0zM109.0 364.3h1.0v1.0h-1.0zM75.2 362.7h1.0v1.0h-1.0zM188.5 363.8h1.0v1.0h-1.0zM103.7 363.9h1.0v1.0h-1.0zM240.1 364.1h1.0v1.0h-1.0zM45.5 365.5h1.0v1.0h-1.0zM124.1 365.1h1.0v1.0h-1.0zM197.8 363.6h1.0v1.0h-1.0zM242.6 364.5h1.0v1.0h-1.0zM147.0 361.6h1.0v1.0h-1.0zM131.9 362.7h1.0v1.0h-1.0zM86.1 362.9h1.0v1.0h-1.0zM149.4 362.0h1.0v1.0h-1.0zM56.2 364.9h1.0v1.0h-1.0zM227.3 363.0h1.0v1.0h-1.0zM185.4 361.5h1.0v1.0h-1.0zM221.6 365.1h1.0v1.0h-1.0zM48.6 365.0h1.0v1.0h-1.0zM195.9 364.1h1.0v1.0h-1.0zM216.9 364.1h1.0v1.0h-1.0zM136.4 363.3h1.0v1.0h-1.0zM60.2 363.0h1.0v1.0h-1.0zM126.7 361.8h1.0v1.0h-1.0zM264.3 363.5h1.0v1.0h-1.0zM135.0 364.8h1.0v1.0h-1.0zM83.6 363.1h1.0v1.0h-1.0zM168.2 362.9h1.0v1.0h-1.0zM66.5 362.1h1.0v1.0h-1.0zM292.4 363.5h1.0v1.0h-1.0zM110.4 363.6h1.0v1.0h-1.0zM255.2 364.4h1.0v1.0h-1.0zM214.5 363.9h1.0v1.0h-1.0zM68.6 363.3h1.0v1.0h-1.0zM105.9 362.3h1.0v1.0h-1.0zM249.5 364.2h1.0v1.0h-1.0zM237.3 363.9h1.0v1.0h-1.0zM194.3 363.8h1.0v1.0h-1.0zM259.5 364.6h1.0v1.0h-1.0zM80.7 364.7h1.0v1.0h-1.0zM88.8 364.1h1.0v1.0h-1.0zM215.6 363.6h1.0v1.0h-1.0zM197.4 364.2h1.0v1.0h-1.0zM289.0 361.1h1.0v1.0h-1.0zM297.5 362.8h1.0v1.0h-1.0zM233.9 362.7h1.0v1.0h-1.0zM55.7 363.2h1.0v1.0h-1.0zM174.7 364.2h1.0v1.0h-1.0zM149.6 364.8h1.0v1.0h-1.0zM182.3 362.5h1.0v1.0h-1.0zM280.5 363.0h1.0v1.0h-1.0zM181.5 365.1h1.0v1.0h-1.0zM231.2 365.0h1.0v1.0h-1.0zM132.2 362.4h1.0v1.0h-1.0zM138.6 364.0h1.0v1.0h-1.0zM212.2 363.9h1.0v1.0h-1.0zM277.9 363.6h1.0v1.0h-1.0zM297.1 364.3h1.0v1.0h-1.0zM210.5 362.8h1.0v1.0h-1.0zM158.4 363.2h1.0v1.0h-1.0zM88.0 364.0h1.0v1.0h-1.0zM161.2 363.5h1.0v1.0h-1.0zM196.1 364.3h1.0v1.0h-1.0zM109.7 363.8h1.0v1.0h-1.0zM94.9 363.2h1.0v1.0h-1.0zM147.2 364.0h1.0v1.0h-1.0zM165.2 365.5h1.0v1.0h-1.0zM51.1 364.0h1.0v1.0h-1.0zM116.6 365.1h1.0v1.0h-1.0zM114.1 363.6h1.0v1.0h-1.0zM235.7 363.8h1.0v1.0h-1.0zM121.0 363.6h1.0v1.0h-1.0zM168.7 364.1h1.0v1.0h-1.0zM230.5 365.8h1.0v1.0h-1.0zM39.4 362.8h1.0v1.0h-1.0zM166.2 362.3h1.0v1.0h-1.0zM147.8 363.7h1.0v1.0h-1.0zM280.5 362.7h1.0v1.0h-1.0zM289.8 363.0h1.0v1.0h-1.0zM172.0 365.0h1.0v1.0h-1.0zM290.5 363.7h1.0v1.0h-1.0zM207.8 364.2h1.0v1.0h-1.0zM44.3 365.4h1.0v1.0h-1.0zM259.2 364.9h1.0v1.0h-1.0zM82.1 365.0h1.0v1.0h-1.0zM73.6 363.6h1.0v1.0h-1.0zM218.2 364.8h1.0v1.0h-1.0zM170.5 365.8h1.0v1.0h-1.0zM256.9 364.6h1.0v1.0h-1.0zM131.9 364.6h1.0v1.0h-1.0zM289.9 363.8h1.0v1.0h-1.0zM287.5 363.9h1.0v1.0h-1.0zM293.6 364.2h1.0v1.0h-1.0zM124.5 362.8h1.0v1.0h-1.0zM253.6 361.4h1.0v1.0h-1.0zM247.9 362.2h1.0v1.0h-1.0zM97.1 362.4h1.0v1.0h-1.0zM274.3 363.7h1.0v1.0h-1.0zM238.7 364.1h1.0v1.0h-1.0zM297.4 363.7h1.0v1.0h-1.0zM58.4 362.2h1.0v1.0h-1.0zM174.8 364.1h1.0v1.0h-1.0zM143.3 364.7h1.0v1.0h-1.0zM72.0 361.9h1.0v1.0h-1.0zM224.1 363.1h1.0v1.0h-1.0zM71.9 365.7h1.0v1.0h-1.0zM129.8 362.7h1.0v1.0h-1.0zM293.8 364.0h1.0v1.0h-1.0zM257.6 364.5h1.0v1.0h-1.0zM57.6 363.5h1.0v1.0h-1.0zM90.8 363.7h1.0v1.0h-1.0zM129.1 364.3h1.0v1.0h-1.0zM59.9 362.4h1.0v1.0h-1.0zM245.8 363.6h1.0v1.0h-1.0zM80.7 362.7h1.0v1.0h-1.0zM229.5 364.3h1.0v1.0h-1.0zM122.2 363.3h1.0v1.0h-1.0zM122.9 363.9h1.0v1.0h-1.0zM39.7 363.5h1.0v1.0h-1.0zM83.0 361.1h1.0v1.0h-1.0zM44.5 364.2h1.0v1.0h-1.0zM246.1 361.5h1.0v1.0h-1.0zM290.1 363.3h1.0v1.0h-1.0zM225.0 363.6h1.0v1.0h-1.0zM37.9 365.8h1.0v1.0h-1.0zM296.5 362.9h1.0v1.0h-1.0zM268.7 364.0h1.0v1.0h-1.0zM166.8 363.0h1.0v1.0h-1.0zM145.9 364.2h1.0v1.0h-1.0zM100.5 362.5h1.0v1.0h-1.0zM104.7 363.5h1.0v1.0h-1.0zM36.3 364.6h1.0v1.0h-1.0zM222.5 365.0h1.0v1.0h-1.0zM279.5 365.0h1.0v1.0h-1.0zM269.8 365.4h1.0v1.0h-1.0zM127.5 366.4h1.0v1.0h-1.0zM258.8 362.8h1.0v1.0h-1.0zM182.3 364.0h1.0v1.0h-1.0zM70.0 363.2h1.0v1.0h-1.0zM71.6 362.7h1.0v1.0h-1.0zM86.3 361.2h1.0v1.0h-1.0zM71.1 365.1h1.0v1.0h-1.0zM68.5 362.2h1.0v1.0h-1.0zM43.7 363.5h1.0v1.0h-1.0zM36.8 364.4h1.0v1.0h-1.0zM73.3 363.8h1.0v1.0h-1.0zM155.6 363.3h1.0v1.0h-1.0zM224.6 363.4h1.0v1.0h-1.0zM70.2 362.8h1.0v1.0h-1.0zM147.7 362.9h1.0v1.0h-1.0zM112.3 364.4h1.0v1.0h-1.0zM160.7 363.7h1.0v1.0h-1.0zM95.7 363.6h1.0v1.0h-1.0zM259.7 361.8h1.0v1.0h-1.0zM55.8 363.6h1.0v1.0h-1.0zM297.0 365.4h1.0v1.0h-1.0zM99.8 363.6h1.0v1.0h-1.0zM223.3 364.1h1.0v1.0h-1.0zM287.7 362.1h1.0v1.0h-1.0zM93.7 364.4h1.0v1.0h-1.0zM83.4 362.5h1.0v1.0h-1.0zM92.6 365.4h1.0v1.0h-1.0zM122.3 364.8h1.0v1.0h-1.0zM126.7 364.9h1.0v1.0h-1.0zM182.1 364.9h1.0v1.0h-1.0zM89.0 363.9h1.0v1.0h-1.0zM244.8 362.4h1.0v1.0h-1.0zM221.8 362.7h1.0v1.0h-1.0zM271.3 364.0h1.0v1.0h-1.0zM82.8 365.2h1.0v1.0h-1.0zM216.9 364.8h1.0v1.0h-1.0zM280.0 360.7h1.0v1.0h-1.0zM149.1 361.2h1.0v1.0h-1.0zM51.6 363.2h1.0v1.0h-1.0zM138.7 362.9h1.0v1.0h-1.0zM132.4 363.0h1.0v1.0h-1.0zM193.4 364.7h1.0v1.0h-1.0zM53.5 364.3h1.0v1.0h-1.0zM230.1 363.0h1.0v1.0h-1.0zM126.6 364.3h1.0v1.0h-1.0zM94.5 364.2h1.0v1.0h-1.0zM115.4 362.9h1.0v1.0h-1.0zM85.5 362.3h1.0v1.0h-1.0zM221.6 363.2h1.0v1.0h-1.0zM188.5 363.2h1.0v1.0h-1.0zM49.9 363.2h1.0v1.0h-1.0zM190.9 362.9h1.0v1.0h-1.0zM283.2 363.3h1.0v1.0h-1.0zM185.8 362.4h1.0v1.0h-1.0zM100.4 363.3h1.0v1.0h-1.0zM165.4 363.7h1.0v1.0h-1.0zM291.3 361.9h1.0v1.0h-1.0zM273.9 363.6h1.0v1.0h-1.0zM184.7 365.7h1.0v1.0h-1.0zM169.6 365.8h1.0v1.0h-1.0zM148.2 365.1h1.0v1.0h-1.0zM259.1 364.2h1.0v1.0h-1.0zM175.7 364.2h1.0v1.0h-1.0zM85.0 365.0h1.0v1.0h-1.0zM126.7 363.7h1.0v1.0h-1.0zM206.9 364.8h1.0v1.0h-1.0zM182.7 364.0h1.0v1.0h-1.0zM93.0 364.2h1.0v1.0h-1.0zM170.0 365.0h1.0v1.0h-1.0zM262.5 363.3h1.0v1.0h-1.0zM58.7 364.8h1.0v1.0h-1.0zM95.6 363.8h1.0v1.0h-1.0zM122.9 363.5h1.0v1.0h-1.0zM267.5 363.2h1.0v1.0h-1.0zM144.1 363.4h1.0v1.0h-1.0zM51.3 363.4h1.0v1.0h-1.0zM213.2 365.0h1.0v1.0h-1.0zM117.3 363.9h1.0v1.0h-1.0zM114.3 365.5h1.0v1.0h-1.0zM116.1 363.0h1.0v1.0h-1.0zM136.8 363.5h1.0v1.0h-1.0zM287.4 364.1h1.0v1.0h-1.0zM207.2 363.4h1.0v1.0h-1.0zM90.0 362.6h1.0v1.0h-1.0zM201.9 363.7h1.0v1.0h-1.0zM285.1 365.8h1.0v1.0h-1.0zM291.2 363.8h1.0v1.0h-1.0zM263.2 364.4h1.0v1.0h-1.0zM158.0 362.1h1.0v1.0h-1.0zM90.5 363.0h1.0v1.0h-1.0zM157.4 363.8h1.0v1.0h-1.0zM291.3 363.7h1.0v1.0h-1.0zM226.1 363.1h1.0v1.0h-1.0zM113.0 363.1h1.0v1.0h-1.0zM278.4 365.0h1.0v1.0h-1.0zM279.4 363.5h1.0v1.0h-1.0zM139.4 364.5h1.0v1.0h-1.0zM93.4 362.3h1.0v1.0h-1.0zM279.0 364.4h1.0v1.0h-1.0zM165.5 363.7h1.0v1.0h-1.0zM283.3 363.3h1.0v1.0h-1.0zM226.2 364.0h1.0v1.0h-1.0zM212.3 364.7h1.0v1.0h-1.0zM137.6 364.6h1.0v1.0h-1.0zM146.3 365.4h1.0v1.0h-1.0zM293.7 362.9h1.0v1.0h-1.0zM220.8 362.9h1.0v1.0h-1.0zM72.3 364.2h1.0v1.0h-1.0zM52.8 363.0h1.0v1.0h-1.0zM189.0 363.6h1.0v1.0h-1.0zM91.0 361.5h1.0v1.0h-1.0zM158.1 363.6h1.0v1.0h-1.0zM279.7 363.4h1.0v1.0h-1.0zM222.2 364.1h1.0v1.0h-1.0zM149.7 363.0h1.0v1.0h-1.0zM150.2 362.5h1.0v1.0h-1.0zM131.0 364.2h1.0v1.0h-1.0zM88.7 366.6h1.0v1.0h-1.0zM157.0 365.0h1.0v1.0h-1.0zM295.1 362.4h1.0v1.0h-1.0zM199.9 363.2h1.0v1.0h-1.0zM52.2 365.6h1.0v1.0h-1.0zM284.4 362.2h1.0v1.0h-1.0zM271.6 364.1h1.0v1.0h-1.0zM172.3 364.4h1.0v1.0h-1.0zM169.6 361.9h1.0v1.0h-1.0zM276.2 363.6h1.0v1.0h-1.0zM222.4 364.2h1.0v1.0h-1.0zM253.1 363.4h1.0v1.0h-1.0zM148.5 363.7h1.0v1.0h-1.0zM94.5 364.1h1.0v1.0h-1.0zM194.3 363.9h1.0v1.0h-1.0zM135.3 363.8h1.0v1.0h-1.0zM194.8 362.9h1.0v1.0h-1.0zM105.9 363.5h1.0v1.0h-1.0zM231.4 364.2h1.0v1.0h-1.0zM109.4 362.9h1.0v1.0h-1.0zM181.6 362.3h1.0v1.0h-1.0zM210.2 363.4h1.0v1.0h-1.0zM239.5 363.2h1.0v1.0h-1.0zM172.1 363.8h1.0v1.0h-1.0zM50.0 363.2h1.0v1.0h-1.0zM206.1 362.6h1.0v1.0h-1.0zM115.9 366.3h1.0v1.0h-1.0zM154.3 362.9h1.0v1.0h-1.0zM91.1 364.7h1.0v1.0h-1.0zM289.2 363.3h1.0v1.0h-1.0zM295.7 365.8h1.0v1.0h-1.0zM124.4 364.5h1.0v1.0h-1.0zM44.2 361.7h1.0v1.0h-1.0zM292.0 362.9h1.0v1.0h-1.0zM247.6 364.2h1.0v1.0h-1.0zM79.2 366.2h1.0v1.0h-1.0zM39.5 364.0h1.0v1.0h-1.0zM203.8 362.7h1.0v1.0h-1.0zM253.7 363.2h1.0v1.0h-1.0zM251.0 365.0h1.0v1.0h-1.0zM262.2 363.8h1.0v1.0h-1.0zM137.9 364.5h1.0v1.0h-1.0zM39.2 364.5h1.0v1.0h-1.0zM136.4 362.9h1.0v1.0h-1.0zM189.9 363.6h1.0v1.0h-1.0zM254.1 362.4h1.0v1.0h-1.0zM84.9 363.8h1.0v1.0h-1.0zM37.0 362.9h1.0v1.0h-1.0zM202.0 363.7h1.0v1.0h-1.0zM61.4 362.4h1.0v1.0h-1.0zM242.4 364.0h1.0v1.0h-1.0z" fill="#5060e8" fill-opacity="0.32"/>
<path d="M48.6 374.6h1.0v1.0h-1.0zM278.0 373.8h1.0v1.0h-1.0zM249.8 376.0h1.0v1.0h-1.0zM56.7 372.8h1.0v1.0h-1.0zM130.6 373.5h1.0v1.0h-1.0zM209.7 373.7h1.0v1.0h-1.0zM265.3 374.5h1.0v1.0h-1.0zM265.6 375.0h1.0v1.0h-1.0zM122.3 375.6h1.0v1.0h-1.0zM112.5 375.0h1.0v1.0h-1.0zM189.3 375.4h1.0v1.0h-1.0zM250.4 374.7h1.0v1.0h-1.0zM152.6 373.1h1.0v1.0h-1.0zM173.9 375.5h1.0v1.0h-1.0zM160.6 374.9h1.0v1.0h-1.0zM254.4 375.5h1.0v1.0h-1.0zM34.9 373.7h1.0v1.0h-1.0zM74.5 375.6h1.0v1.0h-1.0zM262.2 374.7h1.0v1.0h-1.0zM156.0 374.8h1.0v1.0h-1.0zM71.4 375.2h1.0v1.0h-1.0zM138.0 373.5h1.0v1.0h-1.0zM196.6 374.2h1.0v1.0h-1.0zM206.0 372.9h1.0v1.0h-1.0zM215.3 373.5h1.0v1.0h-1.0zM68.0 374.5h1.0v1.0h-1.0zM210.4 372.4h1.0v1.0h-1.0zM107.5 375.9h1.0v1.0h-1.0zM242.1 373.7h1.0v1.0h-1.0zM138.2 374.4h1.0v1.0h-1.0zM201.1 373.8h1.0v1.0h-1.0zM94.6 373.4h1.0v1.0h-1.0zM76.2 372.9h1.0v1.0h-1.0zM273.5 373.4h1.0v1.0h-1.0zM164.5 373.3h1.0v1.0h-1.0zM203.0 375.8h1.0v1.0h-1.0zM226.9 375.9h1.0v1.0h-1.0zM139.0 374.9h1.0v1.0h-1.0zM212.5 374.2h1.0v1.0h-1.0zM42.8 374.2h1.0v1.0h-1.0zM54.7 375.9h1.0v1.0h-1.0zM180.1 375.2h1.0v1.0h-1.0zM51.1 375.3h1.0v1.0h-1.0zM215.4 374.2h1.0v1.0h-1.0zM210.3 373.1h1.0v1.0h-1.0zM291.0 375.7h1.0v1.0h-1.0zM143.3 373.6h1.0v1.0h-1.0zM255.1 375.0h1.0v1.0h-1.0zM167.8 374.3h1.0v1.0h-1.0zM209.9 374.3h1.0v1.0h-1.0zM74.1 374.3h1.0v1.0h-1.0zM90.7 372.9h1.0v1.0h-1.0zM52.9 373.9h1.0v1.0h-1.0zM294.6 373.7h1.0v1.0h-1.0zM170.9 373.4h1.0v1.0h-1.0zM198.4 375.8h1.0v1.0h-1.0zM209.3 374.5h1.0v1.0h-1.0zM46.4 373.1h1.0v1.0h-1.0zM77.0 375.6h1.0v1.0h-1.0zM41.1 374.1h1.0v1.0h-1.0zM74.0 374.8h1.0v1.0h-1.0zM208.1 374.7h1.0v1.0h-1.0zM280.4 373.1h1.0v1.0h-1.0zM279.1 373.7h1.0v1.0h-1.0zM69.5 375.4h1.0v1.0h-1.0zM97.3 373.3h1.0v1.0h-1.0zM238.2 374.8h1.0v1.0h-1.0zM156.7 375.4h1.0v1.0h-1.0zM63.3 374.8h1.0v1.0h-1.0zM131.6 373.9h1.0v1.0h-1.0zM203.5 374.1h1.0v1.0h-1.0zM114.4 374.6h1.0v1.0h-1.0zM134.6 374.6h1.0v1.0h-1.0zM279.1 373.0h1.0v1.0h-1.0zM71.7 375.6h1.0v1.0h-1.0zM295.2 371.6h1.0v1.0h-1.0zM114.1 375.6h1.0v1.0h-1.0zM151.4 375.2h1.0v1.0h-1.0zM204.3 376.3h1.0v1.0h-1.0zM139.5 375.7h1.0v1.0h-1.0zM290.6 375.0h1.0v1.0h-1.0zM159.1 374.2h1.0v1.0h-1.0zM132.6 374.9h1.0v1.0h-1.0zM180.0 376.9h1.0v1.0h-1.0zM282.9 372.5h1.0v1.0h-1.0zM204.8 374.0h1.0v1.0h-1.0zM71.3 373.7h1.0v1.0h-1.0zM224.7 372.6h1.0v1.0h-1.0zM165.0 376.0h1.0v1.0h-1.0zM291.4 374.8h1.0v1.0h-1.0zM52.5 375.2h1.0v1.0h-1.0zM230.0 374.5h1.0v1.0h-1.0zM153.8 375.1h1.0v1.0h-1.0zM192.6 372.3h1.0v1.0h-1.0zM198.1 373.6h1.0v1.0h-1.0zM88.7 373.4h1.0v1.0h-1.0zM275.9 374.1h1.0v1.0h-1.0zM172.0 376.1h1.0v1.0h-1.0zM230.7 374.7h1.0v1.0h-1.0zM256.9 372.2h1.0v1.0h-1.0zM121.6 375.2h1.0v1.0h-1.0zM204.8 372.5h1.0v1.0h-1.0zM87.4 376.0h1.0v1.0h-1.0zM136.6 374.0h1.0v1.0h-1.0zM115.1 374.8h1.0v1.0h-1.0zM134.0 372.9h1.0v1.0h-1.0zM275.0 375.7h1.0v1.0h-1.0zM255.1 374.1h1.0v1.0h-1.0zM192.8 373.6h1.0v1.0h-1.0zM220.3 375.9h1.0v1.0h-1.0zM268.2 372.8h1.0v1.0h-1.0zM218.9 376.1h1.0v1.0h-1.0zM233.6 374.8h1.0v1.0h-1.0zM257.1 373.3h1.0v1.0h-1.0zM270.8 375.5h1.0v1.0h-1.0zM51.2 374.0h1.0v1.0h-1.0zM98.7 374.4h1.0v1.0h-1.0zM135.1 374.7h1.0v1.0h-1.0zM190.5 374.6h1.0v1.0h-1.0zM288.4 374.2h1.0v1.0h-1.0zM179.7 374.8h1.0v1.0h-1.0zM128.5 372.4h1.0v1.0h-1.0zM221.0 374.2h1.0v1.0h-1.0zM279.7 373.3h1.0v1.0h-1.0zM268.4 376.2h1.0v1.0h-1.0zM137.3 374.3h1.0v1.0h-1.0zM288.4 376.0h1.0v1.0h-1.0zM170.3 374.9h1.0v1.0h-1.0zM108.0 372.3h1.0v1.0h-1.0zM148.3 374.3h1.0v1.0h-1.0zM155.5 375.6h1.0v1.0h-1.0zM93.1 372.9h1.0v1.0h-1.0zM170.3 373.7h1.0v1.0h-1.0zM88.2 374.6h1.0v1.0h-1.0zM64.4 374.7h1.0v1.0h-1.0zM101.8 375.1h1.0v1.0h-1.0zM226.9 374.8h1.0v1.0h-1.0zM289.6 374.6h1.0v1.0h-1.0zM185.9 374.9h1.0v1.0h-1.0zM39.3 375.9h1.0v1.0h-1.0zM115.7 374.9h1.0v1.0h-1.0zM158.5 375.0h1.0v1.0h-1.0zM277.5 372.1h1.0v1.0h-1.0zM288.6 374.3h1.0v1.0h-1.0zM46.6 375.6h1.0v1.0h-1.0zM112.7 375.3h1.0v1.0h-1.0zM157.5 373.6h1.0v1.0h-1.0zM264.4 373.3h1.0v1.0h-1.0zM41.9 374.2h1.0v1.0h-1.0zM103.5 374.6h1.0v1.0h-1.0zM296.0 375.4h1.0v1.0h-1.0zM92.6 374.4h1.0v1.0h-1.0zM231.2 375.0h1.0v1.0h-1.0zM172.4 375.6h1.0v1.0h-1.0zM289.9 375.3h1.0v1.0h-1.0zM276.0 374.8h1.0v1.0h-1.0zM172.8 372.2h1.0v1.0h-1.0zM254.4 375.2h1.0v1.0h-1.0zM241.9 373.5h1.0v1.0h-1.0zM109.5 374.7h1.0v1.0h-1.0zM292.7 374.7h1.0v1.0h-1.0zM202.3 374.5h1.0v1.0h-1.0zM268.8 375.6h1.0v1.0h-1.0zM262.7 374.0h1.0v1.0h-1.0zM131.2 372.5h1.0v1.0h-1.0zM81.1 374.0h1.0v1.0h-1.0zM220.8 373.9h1.0v1.0h-1.0zM129.1 374.3h1.0v1.0h-1.0zM231.1 374.7h1.0v1.0h-1.0zM226.4 372.8h1.0v1.0h-1.0zM132.8 373.8h1.0v1.0h-1.0zM150.9 375.1h1.0v1.0h-1.0zM121.2 375.4h1.0v1.0h-1.0zM74.9 373.2h1.0v1.0h-1.0zM70.0 372.8h1.0v1.0h-1.0zM218.6 374.4h1.0v1.0h-1.0zM148.0 373.0h1.0v1.0h-1.0zM112.7 373.6h1.0v1.0h-1.0zM248.1 373.9h1.0v1.0h-1.0zM73.2 374.6h1.0v1.0h-1.0zM206.5 372.3h1.0v1.0h-1.0zM267.1 374.5h1.0v1.0h-1.0zM96.4 374.5h1.0v1.0h-1.0zM183.8 372.7h1.0v1.0h-1.0zM298.5 374.7h1.0v1.0h-1.0zM143.4 375.1h1.0v1.0h-1.0zM106.3 372.7h1.0v1.0h-1.0zM161.9 372.9h1.0v1.0h-1.0zM56.3 374.1h1.0v1.0h-1.0zM156.5 375.8h1.0v1.0h-1.0zM46.9 374.2h1.0v1.0h-1.0zM120.1 375.4h1.0v1.0h-1.0zM89.4 373.8h1.0v1.0h-1.0zM269.7 374.5h1.0v1.0h-1.0zM119.9 373.0h1.0v1.0h-1.0zM153.8 374.4h1.0v1.0h-1.0zM279.0 374.9h1.0v1.0h-1.0zM76.1 375.2h1.0v1.0h-1.0zM50.9 373.9h1.0v1.0h-1.0zM230.9 373.3h1.0v1.0h-1.0z" fill="#5060e8" fill-opacity="0.32"/>
<path d="M164.1 335.0h1.0v1.0h-1.0zM41.9 325.8h1.0v1.0h-1.0zM187.3 302.4h1.0v1.0h-1.0zM114.3 337.0h1.0v1.0h-1.0zM149.2 364.8h1.0v1.0h-1.0zM253.1 275.6h1.0v1.0h-1.0zM232.4 344.0h1.0v1.0h-1.0zM252.5 342.9h1.0v1.0h-1.0zM88.6 320.8h1.0v1.0h-1.0zM250.7 308.8h1.0v1.0h-1.0zM103.2 319.1h1.0v1.0h-1.0zM273.1 316.2h1.0v1.0h-1.0zM73.1 346.3h1.0v1.0h-1.0zM50.1 299.5h1.0v1.0h-1.0zM117.7 345.4h1.0v1.0h-1.0zM36.6 367.7h1.0v1.0h-1.0zM201.5 286.5h1.0v1.0h-1.0zM70.9 343.3h1.0v1.0h-1.0zM80.3 351.0h1.0v1.0h-1.0zM109.4 332.9h1.0v1.0h-1.0zM211.8 373.4h1.0v1.0h-1.0zM89.8 361.7h1.0v1.0h-1.0zM244.9 309.9h1.0v1.0h-1.0zM212.6 290.1h1.0v1.0h-1.0zM148.0 330.7h1.0v1.0h-1.0zM52.9 348.8h1.0v1.0h-1.0zM49.5 313.2h1.0v1.0h-1.0zM62.3 287.6h1.0v1.0h-1.0zM167.2 354.8h1.0v1.0h-1.0zM122.5 332.4h1.0v1.0h-1.0zM105.9 316.7h1.0v1.0h-1.0zM268.9 290.1h1.0v1.0h-1.0zM56.0 329.6h1.0v1.0h-1.0zM192.9 315.2h1.0v1.0h-1.0zM64.9 266.3h1.0v1.0h-1.0zM186.1 348.5h1.0v1.0h-1.0zM59.5 265.0h1.0v1.0h-1.0zM73.1 347.4h1.0v1.0h-1.0zM147.0 306.6h1.0v1.0h-1.0zM229.0 326.3h1.0v1.0h-1.0zM183.1 339.6h1.0v1.0h-1.0zM198.4 335.7h1.0v1.0h-1.0zM205.8 317.5h1.0v1.0h-1.0zM67.7 285.6h1.0v1.0h-1.0zM145.2 301.5h1.0v1.0h-1.0zM139.3 275.2h1.0v1.0h-1.0zM259.9 351.7h1.0v1.0h-1.0zM154.3 321.8h1.0v1.0h-1.0zM151.5 290.9h1.0v1.0h-1.0zM199.7 297.2h1.0v1.0h-1.0zM161.5 302.1h1.0v1.0h-1.0zM263.1 302.2h1.0v1.0h-1.0zM72.2 359.7h1.0v1.0h-1.0zM293.8 373.3h1.0v1.0h-1.0zM78.9 337.1h1.0v1.0h-1.0zM209.4 349.7h1.0v1.0h-1.0zM45.7 323.8h1.0v1.0h-1.0zM146.6 318.9h1.0v1.0h-1.0zM180.4 319.2h1.0v1.0h-1.0zM141.2 343.9h1.0v1.0h-1.0zM42.1 301.4h1.0v1.0h-1.0zM98.4 347.5h1.0v1.0h-1.0zM138.2 298.5h1.0v1.0h-1.0zM118.0 319.1h1.0v1.0h-1.0zM184.8 339.0h1.0v1.0h-1.0zM71.9 333.6h1.0v1.0h-1.0zM97.6 336.1h1.0v1.0h-1.0zM271.7 325.4h1.0v1.0h-1.0zM286.4 330.1h1.0v1.0h-1.0zM164.5 374.9h1.0v1.0h-1.0zM159.2 313.1h1.0v1.0h-1.0zM148.2 354.3h1.0v1.0h-1.0zM98.0 323.1h1.0v1.0h-1.0zM135.2 349.2h1.0v1.0h-1.0zM284.4 290.6h1.0v1.0h-1.0zM238.4 331.7h1.0v1.0h-1.0zM170.8 311.5h1.0v1.0h-1.0zM252.7 332.4h1.0v1.0h-1.0zM148.3 268.3h1.0v1.0h-1.0zM69.0 284.5h1.0v1.0h-1.0zM236.8 317.9h1.0v1.0h-1.0zM132.1 372.1h1.0v1.0h-1.0zM233.1 286.1h1.0v1.0h-1.0zM232.1 336.1h1.0v1.0h-1.0zM127.5 322.2h1.0v1.0h-1.0zM151.9 283.3h1.0v1.0h-1.0zM151.1 344.2h1.0v1.0h-1.0zM134.6 332.3h1.0v1.0h-1.0zM164.1 324.7h1.0v1.0h-1.0zM120.3 323.7h1.0v1.0h-1.0zM55.2 328.9h1.0v1.0h-1.0zM82.4 301.5h1.0v1.0h-1.0zM156.6 326.4h1.0v1.0h-1.0zM231.1 360.5h1.0v1.0h-1.0zM235.2 342.3h1.0v1.0h-1.0zM274.4 342.3h1.0v1.0h-1.0zM46.3 322.3h1.0v1.0h-1.0zM192.5 305.3h1.0v1.0h-1.0zM252.6 356.7h1.0v1.0h-1.0zM87.4 325.3h1.0v1.0h-1.0zM138.5 354.7h1.0v1.0h-1.0zM245.9 331.2h1.0v1.0h-1.0zM114.9 269.1h1.0v1.0h-1.0zM215.1 342.7h1.0v1.0h-1.0zM272.6 350.0h1.0v1.0h-1.0zM129.3 314.9h1.0v1.0h-1.0zM35.6 343.7h1.0v1.0h-1.0zM78.4 286.9h1.0v1.0h-1.0zM297.3 299.0h1.0v1.0h-1.0zM124.0 323.0h1.0v1.0h-1.0zM72.8 325.4h1.0v1.0h-1.0zM103.0 320.6h1.0v1.0h-1.0zM281.0 320.6h1.0v1.0h-1.0zM206.5 338.4h1.0v1.0h-1.0zM173.5 303.8h1.0v1.0h-1.0zM276.9 332.3h1.0v1.0h-1.0zM74.4 330.7h1.0v1.0h-1.0zM88.6 326.3h1.0v1.0h-1.0zM76.4 329.8h1.0v1.0h-1.0zM151.4 309.0h1.0v1.0h-1.0zM167.8 352.5h1.0v1.0h-1.0zM285.1 285.2h1.0v1.0h-1.0zM272.9 300.8h1.0v1.0h-1.0zM154.6 319.9h1.0v1.0h-1.0zM212.4 316.8h1.0v1.0h-1.0zM282.8 348.0h1.0v1.0h-1.0zM105.0 357.8h1.0v1.0h-1.0zM39.6 351.9h1.0v1.0h-1.0zM83.6 323.8h1.0v1.0h-1.0zM121.5 330.1h1.0v1.0h-1.0zM100.4 324.9h1.0v1.0h-1.0zM226.9 275.3h1.0v1.0h-1.0zM277.4 328.3h1.0v1.0h-1.0zM167.1 305.9h1.0v1.0h-1.0zM127.9 312.6h1.0v1.0h-1.0zM233.1 326.8h1.0v1.0h-1.0zM86.2 306.7h1.0v1.0h-1.0zM157.1 283.8h1.0v1.0h-1.0zM264.3 336.3h1.0v1.0h-1.0zM100.2 333.7h1.0v1.0h-1.0zM117.5 330.3h1.0v1.0h-1.0zM132.8 363.8h1.0v1.0h-1.0zM130.3 362.3h1.0v1.0h-1.0zM100.9 310.0h1.0v1.0h-1.0zM249.2 335.9h1.0v1.0h-1.0zM142.5 335.8h1.0v1.0h-1.0zM157.7 336.0h1.0v1.0h-1.0zM55.8 338.0h1.0v1.0h-1.0zM54.1 335.7h1.0v1.0h-1.0zM114.7 341.5h1.0v1.0h-1.0zM194.2 362.2h1.0v1.0h-1.0zM161.7 322.7h1.0v1.0h-1.0zM137.1 357.2h1.0v1.0h-1.0zM155.1 350.8h1.0v1.0h-1.0zM209.4 306.6h1.0v1.0h-1.0zM123.1 335.7h1.0v1.0h-1.0zM74.6 314.4h1.0v1.0h-1.0zM193.2 350.2h1.0v1.0h-1.0zM120.1 309.3h1.0v1.0h-1.0zM63.3 369.3h1.0v1.0h-1.0zM159.4 374.0h1.0v1.0h-1.0zM120.8 368.4h1.0v1.0h-1.0zM70.3 335.6h1.0v1.0h-1.0zM167.0 324.5h1.0v1.0h-1.0zM262.3 269.0h1.0v1.0h-1.0zM103.0 331.4h1.0v1.0h-1.0zM119.0 335.5h1.0v1.0h-1.0zM125.3 328.0h1.0v1.0h-1.0zM144.9 337.4h1.0v1.0h-1.0zM146.2 360.3h1.0v1.0h-1.0zM58.3 364.2h1.0v1.0h-1.0zM137.7 300.4h1.0v1.0h-1.0zM198.6 342.7h1.0v1.0h-1.0zM171.6 284.0h1.0v1.0h-1.0zM59.5 293.8h1.0v1.0h-1.0zM290.5 273.3h1.0v1.0h-1.0zM87.7 315.7h1.0v1.0h-1.0zM160.1 326.6h1.0v1.0h-1.0zM182.5 297.0h1.0v1.0h-1.0zM265.9 287.0h1.0v1.0h-1.0zM220.0 316.5h1.0v1.0h-1.0zM278.9 317.6h1.0v1.0h-1.0zM139.0 334.1h1.0v1.0h-1.0zM142.6 343.4h1.0v1.0h-1.0zM221.9 314.8h1.0v1.0h-1.0zM56.4 328.7h1.0v1.0h-1.0zM283.6 379.9h1.0v1.0h-1.0zM276.9 354.0h1.0v1.0h-1.0zM196.6 291.3h1.0v1.0h-1.0zM256.2 273.5h1.0v1.0h-1.0zM223.7 324.7h1.0v1.0h-1.0zM143.4 323.7h1.0v1.0h-1.0zM141.0 277.5h1.0v1.0h-1.0zM299.0 341.5h1.0v1.0h-1.0zM73.9 328.6h1.0v1.0h-1.0zM239.0 288.1h1.0v1.0h-1.0zM146.2 347.4h1.0v1.0h-1.0zM177.1 311.4h1.0v1.0h-1.0zM224.8 295.5h1.0v1.0h-1.0zM277.5 361.2h1.0v1.0h-1.0zM127.6 324.8h1.0v1.0h-1.0zM275.2 311.6h1.0v1.0h-1.0zM158.8 276.0h1.0v1.0h-1.0zM171.3 351.0h1.0v1.0h-1.0zM104.4 314.8h1.0v1.0h-1.0zM156.1 311.0h1.0v1.0h-1.0zM284.8 302.8h1.0v1.0h-1.0zM277.3 330.9h1.0v1.0h-1.0zM147.0 287.1h1.0v1.0h-1.0zM97.4 303.1h1.0v1.0h-1.0zM122.6 350.0h1.0v1.0h-1.0zM172.4 377.2h1.0v1.0h-1.0zM235.9 326.9h1.0v1.0h-1.0zM243.2 342.5h1.0v1.0h-1.0zM94.1 336.9h1.0v1.0h-1.0zM184.4 350.5h1.0v1.0h-1.0zM255.9 316.4h1.0v1.0h-1.0zM45.1 308.8h1.0v1.0h-1.0zM128.4 296.8h1.0v1.0h-1.0zM210.1 362.1h1.0v1.0h-1.0zM143.1 265.1h1.0v1.0h-1.0zM169.7 313.4h1.0v1.0h-1.0zM182.3 325.6h1.0v1.0h-1.0zM231.5 341.1h1.0v1.0h-1.0zM182.4 313.0h1.0v1.0h-1.0zM245.5 330.5h1.0v1.0h-1.0zM145.3 346.1h1.0v1.0h-1.0zM215.0 337.4h1.0v1.0h-1.0zM195.0 302.6h1.0v1.0h-1.0zM289.5 376.5h1.0v1.0h-1.0zM144.2 306.2h1.0v1.0h-1.0zM220.3 287.2h1.0v1.0h-1.0zM129.9 327.2h1.0v1.0h-1.0zM297.7 323.1h1.0v1.0h-1.0zM43.1 285.4h1.0v1.0h-1.0zM120.4 331.4h1.0v1.0h-1.0zM269.1 312.9h1.0v1.0h-1.0zM151.7 352.1h1.0v1.0h-1.0zM245.0 340.3h1.0v1.0h-1.0zM48.0 277.1h1.0v1.0h-1.0zM150.3 324.7h1.0v1.0h-1.0zM112.8 293.6h1.0v1.0h-1.0zM66.3 299.5h1.0v1.0h-1.0zM271.2 345.6h1.0v1.0h-1.0zM278.4 293.6h1.0v1.0h-1.0zM211.4 337.9h1.0v1.0h-1.0zM74.9 372.6h1.0v1.0h-1.0zM135.7 329.8h1.0v1.0h-1.0zM69.9 304.6h1.0v1.0h-1.0zM253.5 289.5h1.0v1.0h-1.0zM194.3 297.5h1.0v1.0h-1.0zM297.5 331.2h1.0v1.0h-1.0zM236.2 359.3h1.0v1.0h-1.0zM101.6 332.0h1.0v1.0h-1.0zM201.3 280.5h1.0v1.0h-1.0zM265.7 305.2h1.0v1.0h-1.0zM185.0 375.3h1.0v1.0h-1.0zM134.9 334.7h1.0v1.0h-1.0zM190.5 320.9h1.0v1.0h-1.0zM258.1 377.9h1.0v1.0h-1.0zM174.4 345.8h1.0v1.0h-1.0zM181.3 303.8h1.0v1.0h-1.0zM72.9 370.5h1.0v1.0h-1.0zM163.3 297.5h1.0v1.0h-1.0zM89.5 350.9h1.0v1.0h-1.0zM178.4 364.9h1.0v1.0h-1.0zM190.9 326.7h1.0v1.0h-1.0zM73.0 309.9h1.0v1.0h-1.0zM255.9 352.6h1.0v1.0h-1.0zM297.5 278.9h1.0v1.0h-1.0zM132.9 294.3h1.0v1.0h-1.0zM198.5 291.9h1.0v1.0h-1.0zM57.0 327.6h1.0v1.0h-1.0zM196.3 343.8h1.0v1.0h-1.0zM126.8 276.3h1.0v1.0h-1.0zM60.3 343.8h1.0v1.0h-1.0zM42.5 327.5h1.0v1.0h-1.0zM98.4 366.0h1.0v1.0h-1.0zM280.6 285.8h1.0v1.0h-1.0zM169.9 316.1h1.0v1.0h-1.0zM51.1 297.1h1.0v1.0h-1.0zM222.7 292.7h1.0v1.0h-1.0zM123.2 347.1h1.0v1.0h-1.0zM238.6 302.7h1.0v1.0h-1.0zM82.1 289.2h1.0v1.0h-1.0zM35.3 351.5h1.0v1.0h-1.0zM252.9 326.0h1.0v1.0h-1.0zM92.6 293.8h1.0v1.0h-1.0zM99.3 277.7h1.0v1.0h-1.0zM271.0 296.4h1.0v1.0h-1.0zM135.3 306.9h1.0v1.0h-1.0zM80.1 351.0h1.0v1.0h-1.0zM89.8 275.3h1.0v1.0h-1.0zM50.0 341.0h1.0v1.0h-1.0zM130.3 347.0h1.0v1.0h-1.0zM283.0 324.6h1.0v1.0h-1.0zM271.3 304.8h1.0v1.0h-1.0zM289.3 357.2h1.0v1.0h-1.0zM205.7 314.1h1.0v1.0h-1.0zM275.1 365.6h1.0v1.0h-1.0zM127.4 325.3h1.0v1.0h-1.0zM228.6 369.8h1.0v1.0h-1.0zM95.4 342.6h1.0v1.0h-1.0zM106.0 340.9h1.0v1.0h-1.0zM148.8 279.8h1.0v1.0h-1.0zM284.0 321.0h1.0v1.0h-1.0zM276.3 298.8h1.0v1.0h-1.0zM130.1 330.2h1.0v1.0h-1.0zM143.6 288.9h1.0v1.0h-1.0zM88.3 286.3h1.0v1.0h-1.0zM118.4 319.9h1.0v1.0h-1.0zM96.4 292.5h1.0v1.0h-1.0zM178.9 315.2h1.0v1.0h-1.0zM236.5 355.6h1.0v1.0h-1.0zM194.0 307.7h1.0v1.0h-1.0zM59.9 331.8h1.0v1.0h-1.0zM179.2 351.6h1.0v1.0h-1.0zM90.7 274.0h1.0v1.0h-1.0zM224.5 315.1h1.0v1.0h-1.0zM260.8 283.1h1.0v1.0h-1.0zM204.4 292.7h1.0v1.0h-1.0zM62.7 293.3h1.0v1.0h-1.0zM112.7 288.9h1.0v1.0h-1.0zM245.6 283.3h1.0v1.0h-1.0zM267.2 366.6h1.0v1.0h-1.0zM146.5 329.4h1.0v1.0h-1.0zM85.2 301.3h1.0v1.0h-1.0zM261.3 362.0h1.0v1.0h-1.0zM231.0 346.2h1.0v1.0h-1.0zM165.2 322.7h1.0v1.0h-1.0zM139.2 330.8h1.0v1.0h-1.0z" fill="#c0c0f2" fill-opacity="0.3"/>
<rect x="34.3" y="270.5" width="266.9" height="20.5" fill="url(#c1)" />
<g filter="url(#bl3)">
<ellipse cx="52.9" cy="275.5" rx="4.5" ry="1.0" fill="#a0b0ff" fill-opacity="0.4" transform="rotate(-18 52.9 275.5)"/>
<ellipse cx="49.4" cy="281.1" rx="6.4" ry="2.2" fill="#a0ff60" fill-opacity="0.6" transform="rotate(-12 49.4 281.1)"/>
<ellipse cx="48.7" cy="281.3" rx="4.4" ry="1.5" fill="#ffd000" transform="rotate(-12 48.7 281.3)"/>
<ellipse cx="46.7" cy="282.0" rx="3.2" ry="1.1" fill="#ff6000" transform="rotate(-8 46.7 282.0)"/>
<ellipse cx="45.9" cy="282.4" rx="2.3" ry="0.75" fill="#d80000"/>
<ellipse cx="67.3" cy="275.5" rx="4.5" ry="1.0" fill="#a0b0ff" fill-opacity="0.4" transform="rotate(-18 67.3 275.5)"/>
<ellipse cx="63.8" cy="281.1" rx="6.4" ry="2.2" fill="#a0ff60" fill-opacity="0.6" transform="rotate(-12 63.8 281.1)"/>
<ellipse cx="63.1" cy="281.3" rx="4.4" ry="1.5" fill="#ffd000" transform="rotate(-12 63.1 281.3)"/>
<ellipse cx="61.1" cy="282.0" rx="3.2" ry="1.1" fill="#ff6000" transform="rotate(-8 61.1 282.0)"/>
<ellipse cx="60.3" cy="282.4" rx="2.3" ry="0.75" fill="#d80000"/>
<ellipse cx="81.7" cy="275.5" rx="4.5" ry="1.0" fill="#a0b0ff" fill-opacity="0.4" transform="rotate(-18 81.7 275.5)"/>
<ellipse cx="78.2" cy="281.1" rx="6.4" ry="2.2" fill="#a0ff60" fill-opacity="0.6" transform="rotate(-12 78.2 281.1)"/>
<ellipse cx="77.5" cy="281.3" rx="4.4" ry="1.5" fill="#ffd000" transform="rotate(-12 77.5 281.3)"/>
<ellipse cx="75.5" cy="282.0" rx="3.2" ry="1.1" fill="#ff6000" transform="rotate(-8 75.5 282.0)"/>
<ellipse cx="74.7" cy="282.4" rx="2.3" ry="0.75" fill="#d80000"/>
<ellipse cx="96.0" cy="275.5" rx="4.5" ry="1.0" fill="#a0b0ff" fill-opacity="0.4" transform="rotate(-18 96.0 275.5)"/>
<ellipse cx="92.5" cy="281.1" rx="6.4" ry="2.2" fill="#a0ff60" fill-opacity="0.6" transform="rotate(-12 92.5 281.1)"/>
<ellipse cx="91.8" cy="281.3" rx="4.4" ry="1.5" fill="#ffd000" transform="rotate(-12 91.8 281.3)"/>
<ellipse cx="89.8" cy="282.0" rx="3.2" ry="1.1" fill="#ff6000" transform="rotate(-8 89.8 282.0)"/>
<ellipse cx="89.0" cy="282.4" rx="2.3" ry="0.75" fill="#d80000"/>
<ellipse cx="110.4" cy="275.5" rx="4.5" ry="1.0" fill="#a0b0ff" fill-opacity="0.4" transform="rotate(-18 110.4 275.5)"/>
<ellipse cx="106.9" cy="281.1" rx="6.4" ry="2.2" fill="#a0ff60" fill-opacity="0.6" transform="rotate(-12 106.9 281.1)"/>
<ellipse cx="106.2" cy="281.3" rx="4.4" ry="1.5" fill="#ffd000" transform="rotate(-12 106.2 281.3)"/>
<ellipse cx="104.2" cy="282.0" rx="3.2" ry="1.1" fill="#ff6000" transform="rotate(-8 104.2 282.0)"/>
<ellipse cx="103.4" cy="282.4" rx="2.3" ry="0.75" fill="#d80000"/>
<ellipse cx="124.8" cy="275.5" rx="4.5" ry="1.0" fill="#a0b0ff" fill-opacity="0.4" transform="rotate(-18 124.8 275.5)"/>
<ellipse cx="121.3" cy="281.1" rx="6.4" ry="2.2" fill="#a0ff60" fill-opacity="0.6" transform="rotate(-12 121.3 281.1)"/>
<ellipse cx="120.6" cy="281.3" rx="4.4" ry="1.5" fill="#ffd000" transform="rotate(-12 120.6 281.3)"/>
<ellipse cx="118.6" cy="282.0" rx="3.2" ry="1.1" fill="#ff6000" transform="rotate(-8 118.6 282.0)"/>
<ellipse cx="117.8" cy="282.4" rx="2.3" ry="0.75" fill="#d80000"/>
<ellipse cx="139.2" cy="275.5" rx="4.5" ry="1.0" fill="#a0b0ff" fill-opacity="0.4" transform="rotate(-18 139.2 275.5)"/>
<ellipse cx="135.7" cy="281.1" rx="6.4" ry="2.2" fill="#a0ff60" fill-opacity="0.6" transform="rotate(-12 135.7 281.1)"/>
<ellipse cx="135.0" cy="281.3" rx="4.4" ry="1.5" fill="#ffd000" transform="rotate(-12 135.0 281.3)"/>
<ellipse cx="133.0" cy="282.0" rx="3.2" ry="1.1" fill="#ff6000" transform="rotate(-8 133.0 282.0)"/>
<ellipse cx="132.2" cy="282.4" rx="2.3" ry="0.75" fill="#d80000"/>
<ellipse cx="153.6" cy="275.5" rx="4.5" ry="1.0" fill="#a0b0ff" fill-opacity="0.4" transform="rotate(-18 153.6 275.5)"/>
<ellipse cx="150.1" cy="281.1" rx="6.4" ry="2.2" fill="#a0ff60" fill-opacity="0.6" transform="rotate(-12 150.1 281.1)"/>
<ellipse cx="149.4" cy="281.3" rx="4.4" ry="1.5" fill="#ffd000" transform="rotate(-12 149.4 281.3)"/>
<ellipse cx="147.4" cy="282.0" rx="3.2" ry="1.1" fill="#ff6000" transform="rotate(-8 147.4 282.0)"/>
<ellipse cx="146.6" cy="282.4" rx="2.3" ry="0.75" fill="#d80000"/>
<ellipse cx="167.9" cy="275.5" rx="4.5" ry="1.0" fill="#a0b0ff" fill-opacity="0.4" transform="rotate(-18 167.9 275.5)"/>
<ellipse cx="164.4" cy="281.1" rx="6.4" ry="2.2" fill="#a0ff60" fill-opacity="0.6" transform="rotate(-12 164.4 281.1)"/>
<ellipse cx="163.7" cy="281.3" rx="4.4" ry="1.5" fill="#ffd000" transform="rotate(-12 163.7 281.3)"/>
<ellipse cx="161.7" cy="282.0" rx="3.2" ry="1.1" fill="#ff6000" transform="rotate(-8 161.7 282.0)"/>
<ellipse cx="160.9" cy="282.4" rx="2.3" ry="0.75" fill="#d80000"/>
<ellipse cx="182.3" cy="275.5" rx="4.5" ry="1.0" fill="#a0b0ff" fill-opacity="0.4" transform="rotate(-18 182.3 275.5)"/>
<ellipse cx="178.8" cy="281.1" rx="6.4" ry="2.2" fill="#a0ff60" fill-opacity="0.6" transform="rotate(-12 178.8 281.1)"/>
<ellipse cx="178.1" cy="281.3" rx="4.4" ry="1.5" fill="#ffd000" transform="rotate(-12 178.1 281.3)"/>
<ellipse cx="176.1" cy="282.0" rx="3.2" ry="1.1" fill="#ff6000" transform="rotate(-8 176.1 282.0)"/>
<ellipse cx="175.3" cy="282.4" rx="2.3" ry="0.75" fill="#d80000"/>
<ellipse cx="196.7" cy="275.5" rx="4.5" ry="1.0" fill="#a0b0ff" fill-opacity="0.4" transform="rotate(-18 196.7 275.5)"/>
<ellipse cx="193.2" cy="281.1" rx="6.4" ry="2.2" fill="#a0ff60" fill-opacity="0.6" transform="rotate(-12 193.2 281.1)"/>
<ellipse cx="192.5" cy="281.3" rx="4.4" ry="1.5" fill="#ffd000" transform="rotate(-12 192.5 281.3)"/>
<ellipse cx="190.5" cy="282.0" rx="3.2" ry="1.1" fill="#ff6000" transform="rotate(-8 190.5 282.0)"/>
<ellipse cx="189.7" cy="282.4" rx="2.3" ry="0.75" fill="#d80000"/>
<ellipse cx="211.1" cy="275.5" rx="4.5" ry="1.0" fill="#a0b0ff" fill-opacity="0.4" transform="rotate(-18 211.1 275.5)"/>
<ellipse cx="207.6" cy="281.1" rx="6.4" ry="2.2" fill="#a0ff60" fill-opacity="0.6" transform="rotate(-12 207.6 281.1)"/>
<ellipse cx="206.9" cy="281.3" rx="4.4" ry="1.5" fill="#ffd000" transform="rotate(-12 206.9 281.3)"/>
<ellipse cx="204.9" cy="282.0" rx="3.2" ry="1.1" fill="#ff6000" transform="rotate(-8 204.9 282.0)"/>
<ellipse cx="204.1" cy="282.4" rx="2.3" ry="0.75" fill="#d80000"/>
<ellipse cx="225.5" cy="275.5" rx="4.5" ry="1.0" fill="#a0b0ff" fill-opacity="0.4" transform="rotate(-18 225.5 275.5)"/>
<ellipse cx="222.0" cy="281.1" rx="6.4" ry="2.2" fill="#a0ff60" fill-opacity="0.6" transform="rotate(-12 222.0 281.1)"/>
<ellipse cx="221.3" cy="281.3" rx="4.4" ry="1.5" fill="#ffd000" transform="rotate(-12 221.3 281.3)"/>
<ellipse cx="219.3" cy="282.0" rx="3.2" ry="1.1" fill="#ff6000" transform="rotate(-8 219.3 282.0)"/>
<ellipse cx="218.5" cy="282.4" rx="2.3" ry="0.75" fill="#d80000"/>
<ellipse cx="239.8" cy="275.5" rx="4.5" ry="1.0" fill="#a0b0ff" fill-opacity="0.4" transform="rotate(-18 239.8 275.5)"/>
<ellipse cx="236.3" cy="281.1" rx="6.4" ry="2.2" fill="#a0ff60" fill-opacity="0.6" transform="rotate(-12 236.3 281.1)"/>
<ellipse cx="235.6" cy="281.3" rx="4.4" ry="1.5" fill="#ffd000" transform="rotate(-12 235.6 281.3)"/>
<ellipse cx="233.6" cy="282.0" rx="3.2" ry="1.1" fill="#ff6000" transform="rotate(-8 233.6 282.0)"/>
<ellipse cx="232.8" cy="282.4" rx="2.3" ry="0.75" fill="#d80000"/>
<ellipse cx="254.2" cy="275.5" rx="4.5" ry="1.0" fill="#a0b0ff" fill-opacity="0.4" transform="rotate(-18 254.2 275.5)"/>
<ellipse cx="250.7" cy="281.1" rx="6.4" ry="2.2" fill="#a0ff60" fill-opacity="0.6" transform="rotate(-12 250.7 281.1)"/>
<ellipse cx="250.0" cy="281.3" rx="4.4" ry="1.5" fill="#ffd000" transform="rotate(-12 250.0 281.3)"/>
<ellipse cx="248.0" cy="282.0" rx="3.2" ry="1.1" fill="#ff6000" transform="rotate(-8 248.0 282.0)"/>
<ellipse cx="247.2" cy="282.4" rx="2.3" ry="0.75" fill="#d80000"/>
<ellipse cx="268.6" cy="275.5" rx="4.5" ry="1.0" fill="#a0b0ff" fill-opacity="0.4" transform="rotate(-18 268.6 275.5)"/>
<ellipse cx="265.1" cy="281.1" rx="6.4" ry="2.2" fill="#a0ff60" fill-opacity="0.6" transform="rotate(-12 265.1 281.1)"/>
<ellipse cx="264.4" cy="281.3" rx="4.4" ry="1.5" fill="#ffd000" transform="rotate(-12 264.4 281.3)"/>
<ellipse cx="262.4" cy="282.0" rx="3.2" ry="1.1" fill="#ff6000" transform="rotate(-8 262.4 282.0)"/>
<ellipse cx="261.6" cy="282.4" rx="2.3" ry="0.75" fill="#d80000"/>
<ellipse cx="283.0" cy="275.5" rx="4.5" ry="1.0" fill="#a0b0ff" fill-opacity="0.4" transform="rotate(-18 283.0 275.5)"/>
<ellipse cx="279.5" cy="281.1" rx="6.4" ry="2.2" fill="#a0ff60" fill-opacity="0.6" transform="rotate(-12 279.5 281.1)"/>
<ellipse cx="278.8" cy="281.3" rx="4.4" ry="1.5" fill="#ffd000" transform="rotate(-12 278.8 281.3)"/>
<ellipse cx="276.8" cy="282.0" rx="3.2" ry="1.1" fill="#ff6000" transform="rotate(-8 276.8 282.0)"/>
<ellipse cx="276.0" cy="282.4" rx="2.3" ry="0.75" fill="#d80000"/>
<ellipse cx="297.4" cy="275.5" rx="4.5" ry="1.0" fill="#a0b0ff" fill-opacity="0.4" transform="rotate(-18 297.4 275.5)"/>
<ellipse cx="293.9" cy="281.1" rx="6.4" ry="2.2" fill="#a0ff60" fill-opacity="0.6" transform="rotate(-12 293.9 281.1)"/>
<ellipse cx="293.2" cy="281.3" rx="4.4" ry="1.5" fill="#ffd000" transform="rotate(-12 293.2 281.3)"/>
<ellipse cx="291.2" cy="282.0" rx="3.2" ry="1.1" fill="#ff6000" transform="rotate(-8 291.2 282.0)"/>
<ellipse cx="290.4" cy="282.4" rx="2.3" ry="0.75" fill="#d80000"/>
</g>
<rect x="34.3" y="298" width="266.9" height="15" fill="url(#c2)" />
<rect x="34.3" y="322" width="266.9" height="23" fill="url(#c3)" />
<rect x="34.3" y="361.5" width="266.9" height="13.5" fill="url(#c4)" />
<rect x="34.3" y="263.4" width="266.9" height="119.60000000000002" fill="none" stroke="#8c8c8c" stroke-width="1.3"/>
<line x1="34.3" y1="263.4" x2="34.3" y2="266.4" stroke="#606060" stroke-width="1.1" />
<line x1="34.3" y1="383.0" x2="34.3" y2="380.0" stroke="#606060" stroke-width="1.1" />
<line x1="67.6625" y1="263.4" x2="67.6625" y2="266.4" stroke="#606060" stroke-width="1.1" />
<line x1="67.6625" y1="383.0" x2="67.6625" y2="380.0" stroke="#606060" stroke-width="1.1" />
<line x1="101.02499999999999" y1="263.4" x2="101.02499999999999" y2="266.4" stroke="#606060" stroke-width="1.1" />
<line x1="101.02499999999999" y1="383.0" x2="101.02499999999999" y2="380.0" stroke="#606060" stroke-width="1.1" />
<line x1="134.3875" y1="263.4" x2="134.3875" y2="266.4" stroke="#606060" stroke-width="1.1" />
<line x1="134.3875" y1="383.0" x2="134.3875" y2="380.0" stroke="#606060" stroke-width="1.1" />
<line x1="167.75" y1="263.4" x2="167.75" y2="266.4" stroke="#606060" stroke-width="1.1" />
<line x1="167.75" y1="383.0" x2="167.75" y2="380.0" stroke="#606060" stroke-width="1.1" />
<line x1="201.1125" y1="263.4" x2="201.1125" y2="266.4" stroke="#606060" stroke-width="1.1" />
<line x1="201.1125" y1="383.0" x2="201.1125" y2="380.0" stroke="#606060" stroke-width="1.1" />
<line x1="234.47499999999997" y1="263.4" x2="234.47499999999997" y2="266.4" stroke="#606060" stroke-width="1.1" />
<line x1="234.47499999999997" y1="383.0" x2="234.47499999999997" y2="380.0" stroke="#606060" stroke-width="1.1" />
<line x1="267.8375" y1="263.4" x2="267.8375" y2="266.4" stroke="#606060" stroke-width="1.1" />
<line x1="267.8375" y1="383.0" x2="267.8375" y2="380.0" stroke="#606060" stroke-width="1.1" />
<line x1="301.2" y1="263.4" x2="301.2" y2="266.4" stroke="#606060" stroke-width="1.1" />
<line x1="301.2" y1="383.0" x2="301.2" y2="380.0" stroke="#606060" stroke-width="1.1" />
<line x1="34.3" y1="268.4" x2="37.099999999999994" y2="268.4" stroke="#606060" stroke-width="1.0" />
<line x1="34.3" y1="277.59999999999997" x2="37.099999999999994" y2="277.59999999999997" stroke="#606060" stroke-width="1.0" />
<line x1="34.3" y1="286.79999999999995" x2="37.099999999999994" y2="286.79999999999995" stroke="#606060" stroke-width="1.0" />
<line x1="34.3" y1="296.0" x2="37.099999999999994" y2="296.0" stroke="#606060" stroke-width="1.0" />
<line x1="34.3" y1="305.2" x2="37.099999999999994" y2="305.2" stroke="#606060" stroke-width="1.0" />
<line x1="34.3" y1="314.4" x2="37.099999999999994" y2="314.4" stroke="#606060" stroke-width="1.0" />
<line x1="34.3" y1="323.59999999999997" x2="37.099999999999994" y2="323.59999999999997" stroke="#606060" stroke-width="1.0" />
<line x1="34.3" y1="332.79999999999995" x2="37.099999999999994" y2="332.79999999999995" stroke="#606060" stroke-width="1.0" />
<line x1="34.3" y1="342.0" x2="37.099999999999994" y2="342.0" stroke="#606060" stroke-width="1.0" />
<line x1="34.3" y1="351.2" x2="37.099999999999994" y2="351.2" stroke="#606060" stroke-width="1.0" />
<line x1="34.3" y1="360.4" x2="37.099999999999994" y2="360.4" stroke="#606060" stroke-width="1.0" />
<line x1="34.3" y1="369.59999999999997" x2="37.099999999999994" y2="369.59999999999997" stroke="#606060" stroke-width="1.0" />
<line x1="34.3" y1="378.79999999999995" x2="37.099999999999994" y2="378.79999999999995" stroke="#606060" stroke-width="1.0" />
<line x1="301.2" y1="263.4" x2="298.4" y2="263.4" stroke="#606060" stroke-width="1.0" />
<line x1="301.2" y1="293.29999999999995" x2="298.4" y2="293.29999999999995" stroke="#606060" stroke-width="1.0" />
<line x1="301.2" y1="323.2" x2="298.4" y2="323.2" stroke="#606060" stroke-width="1.0" />
<line x1="301.2" y1="353.1" x2="298.4" y2="353.1" stroke="#606060" stroke-width="1.0" />
<line x1="301.2" y1="383.0" x2="298.4" y2="383.0" stroke="#606060" stroke-width="1.0" />
<rect x="53.6" y="270.6" width="15.999999999999993" height="18.799999999999955" fill="none" stroke="#000" stroke-width="1.3" stroke-dasharray="1.3 1.2"/>
<rect x="53.6" y="358.8" width="15.999999999999993" height="18.80000000000001" fill="none" stroke="#000" stroke-width="1.3" stroke-dasharray="1.3 1.2"/>
<text x="70.6" y="294.8" font-size="12.4" fill="#000" text-anchor="start" stroke="#000" stroke-width="0.22" >d</text>
<text x="70.8" y="381.5" font-size="12.4" fill="#000" text-anchor="start" stroke="#000" stroke-width="0.22" >e</text>
<rect x="230.4" y="256.4" width="70.6" height="5.2" fill="url(#jetw)" />
<rect x="230.4" y="256.4" width="70.6" height="5.2" fill="none" stroke="#c0c0c0" stroke-width="0.5"/>
<text x="224.5" y="237.1" font-size="11.9" fill="#000" text-anchor="start" stroke="#000" stroke-width="0.22" textLength="78.8" lengthAdjust="spacingAndGlyphs" >Intensity (a.u.)</text>
<text x="247.8" y="252.6" font-size="11" fill="#000" text-anchor="start" stroke="#000" stroke-width="0.22" textLength="16.8" lengthAdjust="spacingAndGlyphs" >0.5</text>
<text x="303.3" y="252.6" font-size="11" fill="#000" text-anchor="end" stroke="#000" stroke-width="0.22" >1</text>
<text x="305.0" y="267.8" font-size="12.4" fill="#000" text-anchor="start" stroke="#000" stroke-width="0.22" >4</text>
<text x="305.0" y="327.6" font-size="12.4" fill="#000" text-anchor="start" stroke="#000" stroke-width="0.22" >0</text>
<text x="303.3" y="387.2" font-size="12.4" fill="#000" text-anchor="start" stroke="#000" stroke-width="0.22" >-4</text>
<text x="34.3" y="402.3" font-size="12.4" fill="#000" text-anchor="middle" stroke="#000" stroke-width="0.22" >0</text>
<text x="101.02499999999999" y="402.3" font-size="12.4" fill="#000" text-anchor="middle" stroke="#000" stroke-width="0.22" >1000</text>
<text x="167.75" y="402.3" font-size="12.4" fill="#000" text-anchor="middle" stroke="#000" stroke-width="0.22" >2000</text>
<text x="234.47499999999997" y="402.3" font-size="12.4" fill="#000" text-anchor="middle" stroke="#000" stroke-width="0.22" >3000</text>
<text x="301.2" y="402.3" font-size="12.4" fill="#000" text-anchor="middle" stroke="#000" stroke-width="0.22" >4000</text>
<text x="168.6" y="415.5" font-size="13.2" fill="#000" text-anchor="middle" stroke="#000" stroke-width="0.22" textLength="59.6" lengthAdjust="spacingAndGlyphs" >Roundtrips</text>
<text x="318.6" y="321.7" font-size="13" fill="#000" text-anchor="middle" stroke="#000" stroke-width="0.22" textLength="50" lengthAdjust="spacingAndGlyphs" transform="rotate(90 318.6 321.7)" >Time (ns)</text>
<text x="10.3" y="327.8" font-size="13" fill="#000" text-anchor="middle" stroke="#000" stroke-width="0.22" textLength="65.6" lengthAdjust="spacingAndGlyphs" transform="rotate(-90 10.3 327.8)" >Wavelength</text>
<text x="26.8" y="326.2" font-size="13" fill="#000" text-anchor="middle" stroke="#000" stroke-width="0.22" textLength="55.8" lengthAdjust="spacingAndGlyphs" transform="rotate(-90 26.8 326.2)" >(2 nm/div)</text>
<text x="345.6" y="246.8" font-size="25" fill="#000" text-anchor="start" font-weight="bold" >d</text>
<text x="345.6" y="328.6" font-size="25" fill="#000" text-anchor="start" font-weight="bold" >e</text>
<rect x="382.4" y="254.7" width="105.20000000000005" height="58.900000000000034" fill="#ffffff" />
<rect x="382.4" y="262" width="105.20000000000005" height="48" fill="url(#dband)" />
<path d="M424.2 262.6h1.0v1.0h-1.0zM412.1 263.7h1.0v1.0h-1.0zM406.6 264.2h1.0v1.0h-1.0zM473.5 264.4h1.0v1.0h-1.0zM473.4 261.6h1.0v1.0h-1.0zM446.0 263.0h1.0v1.0h-1.0zM443.0 261.6h1.0v1.0h-1.0zM421.4 264.1h1.0v1.0h-1.0zM415.0 263.7h1.0v1.0h-1.0zM460.0 264.8h1.0v1.0h-1.0zM386.4 263.9h1.0v1.0h-1.0zM453.4 261.2h1.0v1.0h-1.0zM451.1 264.3h1.0v1.0h-1.0zM397.4 264.4h1.0v1.0h-1.0zM434.6 262.3h1.0v1.0h-1.0zM484.9 263.9h1.0v1.0h-1.0zM425.8 264.3h1.0v1.0h-1.0zM404.0 262.7h1.0v1.0h-1.0zM422.7 262.2h1.0v1.0h-1.0zM391.8 264.4h1.0v1.0h-1.0zM448.8 264.1h1.0v1.0h-1.0zM467.0 263.4h1.0v1.0h-1.0zM422.0 265.2h1.0v1.0h-1.0zM483.3 264.9h1.0v1.0h-1.0zM458.0 264.3h1.0v1.0h-1.0zM467.9 261.1h1.0v1.0h-1.0zM431.0 263.0h1.0v1.0h-1.0zM461.0 263.6h1.0v1.0h-1.0zM476.8 266.5h1.0v1.0h-1.0zM430.3 262.6h1.0v1.0h-1.0zM461.1 261.6h1.0v1.0h-1.0zM402.1 265.2h1.0v1.0h-1.0zM388.8 263.8h1.0v1.0h-1.0zM401.0 264.5h1.0v1.0h-1.0zM434.2 263.4h1.0v1.0h-1.0zM477.8 261.9h1.0v1.0h-1.0zM398.6 264.6h1.0v1.0h-1.0zM454.7 263.6h1.0v1.0h-1.0zM401.6 264.6h1.0v1.0h-1.0zM475.9 263.7h1.0v1.0h-1.0zM412.1 264.0h1.0v1.0h-1.0zM435.4 264.5h1.0v1.0h-1.0zM465.2 262.2h1.0v1.0h-1.0zM429.1 261.2h1.0v1.0h-1.0zM404.4 263.6h1.0v1.0h-1.0zM445.5 263.9h1.0v1.0h-1.0zM416.6 262.7h1.0v1.0h-1.0zM387.0 264.5h1.0v1.0h-1.0zM423.6 263.9h1.0v1.0h-1.0zM475.7 264.1h1.0v1.0h-1.0zM401.2 263.0h1.0v1.0h-1.0zM418.3 262.1h1.0v1.0h-1.0zM483.5 260.6h1.0v1.0h-1.0zM405.1 263.2h1.0v1.0h-1.0zM439.1 263.6h1.0v1.0h-1.0zM389.0 265.8h1.0v1.0h-1.0zM407.4 265.0h1.0v1.0h-1.0zM430.7 263.0h1.0v1.0h-1.0zM417.3 267.0h1.0v1.0h-1.0zM433.6 263.0h1.0v1.0h-1.0zM433.2 264.4h1.0v1.0h-1.0zM401.9 264.5h1.0v1.0h-1.0zM440.8 261.6h1.0v1.0h-1.0zM452.5 265.3h1.0v1.0h-1.0zM466.1 263.2h1.0v1.0h-1.0zM432.8 262.6h1.0v1.0h-1.0zM417.8 263.0h1.0v1.0h-1.0zM472.0 263.7h1.0v1.0h-1.0zM483.1 264.2h1.0v1.0h-1.0zM387.9 263.2h1.0v1.0h-1.0zM431.6 264.6h1.0v1.0h-1.0zM449.4 262.1h1.0v1.0h-1.0zM386.8 266.5h1.0v1.0h-1.0zM432.1 264.2h1.0v1.0h-1.0zM430.2 262.2h1.0v1.0h-1.0zM424.7 263.8h1.0v1.0h-1.0zM393.2 263.3h1.0v1.0h-1.0zM393.4 264.4h1.0v1.0h-1.0zM427.2 262.1h1.0v1.0h-1.0zM461.0 261.1h1.0v1.0h-1.0zM465.4 262.9h1.0v1.0h-1.0zM396.9 265.2h1.0v1.0h-1.0zM415.0 262.8h1.0v1.0h-1.0zM485.1 265.1h1.0v1.0h-1.0zM386.1 264.0h1.0v1.0h-1.0zM457.8 264.9h1.0v1.0h-1.0zM470.0 263.5h1.0v1.0h-1.0zM479.8 263.6h1.0v1.0h-1.0zM394.0 262.6h1.0v1.0h-1.0zM397.0 263.9h1.0v1.0h-1.0zM455.3 262.2h1.0v1.0h-1.0zM418.2 263.5h1.0v1.0h-1.0zM476.9 263.8h1.0v1.0h-1.0zM470.0 263.2h1.0v1.0h-1.0zM399.4 263.7h1.0v1.0h-1.0zM447.2 265.0h1.0v1.0h-1.0zM439.3 266.3h1.0v1.0h-1.0zM461.7 265.8h1.0v1.0h-1.0zM446.3 268.0h1.0v1.0h-1.0zM443.8 262.7h1.0v1.0h-1.0zM427.8 262.1h1.0v1.0h-1.0zM385.6 261.9h1.0v1.0h-1.0zM455.3 261.8h1.0v1.0h-1.0zM396.2 263.7h1.0v1.0h-1.0zM387.0 262.4h1.0v1.0h-1.0zM466.5 263.2h1.0v1.0h-1.0zM483.4 260.9h1.0v1.0h-1.0zM409.2 262.2h1.0v1.0h-1.0zM418.7 262.9h1.0v1.0h-1.0zM385.9 264.6h1.0v1.0h-1.0zM426.9 260.0h1.0v1.0h-1.0zM421.1 263.6h1.0v1.0h-1.0zM408.8 265.6h1.0v1.0h-1.0zM389.3 263.0h1.0v1.0h-1.0zM409.5 262.9h1.0v1.0h-1.0zM413.0 265.7h1.0v1.0h-1.0zM478.6 262.8h1.0v1.0h-1.0zM470.7 261.0h1.0v1.0h-1.0zM452.5 260.7h1.0v1.0h-1.0zM403.1 263.0h1.0v1.0h-1.0zM442.0 262.4h1.0v1.0h-1.0zM440.3 263.3h1.0v1.0h-1.0zM405.9 263.1h1.0v1.0h-1.0zM457.3 262.9h1.0v1.0h-1.0zM448.2 265.3h1.0v1.0h-1.0zM456.3 263.0h1.0v1.0h-1.0zM445.5 263.8h1.0v1.0h-1.0zM482.9 261.6h1.0v1.0h-1.0zM474.6 263.5h1.0v1.0h-1.0zM390.4 263.1h1.0v1.0h-1.0zM464.1 264.2h1.0v1.0h-1.0zM469.8 263.0h1.0v1.0h-1.0zM382.9 262.6h1.0v1.0h-1.0zM476.7 263.9h1.0v1.0h-1.0zM394.1 261.7h1.0v1.0h-1.0zM445.0 265.3h1.0v1.0h-1.0zM471.5 262.9h1.0v1.0h-1.0zM415.6 263.4h1.0v1.0h-1.0zM448.3 259.3h1.0v1.0h-1.0zM440.9 264.4h1.0v1.0h-1.0zM427.5 262.5h1.0v1.0h-1.0zM418.3 262.7h1.0v1.0h-1.0zM413.0 260.9h1.0v1.0h-1.0zM420.9 265.5h1.0v1.0h-1.0zM470.2 262.4h1.0v1.0h-1.0zM478.5 264.3h1.0v1.0h-1.0zM454.4 263.2h1.0v1.0h-1.0zM477.6 264.1h1.0v1.0h-1.0zM415.1 263.9h1.0v1.0h-1.0zM421.2 260.8h1.0v1.0h-1.0zM420.2 265.4h1.0v1.0h-1.0zM396.1 264.5h1.0v1.0h-1.0zM449.6 264.2h1.0v1.0h-1.0zM458.8 263.7h1.0v1.0h-1.0zM410.0 264.2h1.0v1.0h-1.0zM407.4 263.7h1.0v1.0h-1.0zM484.9 263.7h1.0v1.0h-1.0zM403.1 264.2h1.0v1.0h-1.0zM421.2 262.8h1.0v1.0h-1.0zM430.3 265.1h1.0v1.0h-1.0z" fill="#3040e8" fill-opacity="0.85"/>
<path d="M442.2 266.2h1.0v1.0h-1.0zM397.1 265.1h1.0v1.0h-1.0zM404.5 264.3h1.0v1.0h-1.0zM476.0 264.4h1.0v1.0h-1.0zM435.9 264.9h1.0v1.0h-1.0zM477.7 265.6h1.0v1.0h-1.0zM476.7 267.1h1.0v1.0h-1.0zM441.3 268.0h1.0v1.0h-1.0zM463.7 267.7h1.0v1.0h-1.0zM407.2 266.9h1.0v1.0h-1.0zM460.8 267.8h1.0v1.0h-1.0zM460.9 268.9h1.0v1.0h-1.0zM468.5 264.5h1.0v1.0h-1.0zM406.5 264.9h1.0v1.0h-1.0zM454.3 264.5h1.0v1.0h-1.0zM476.8 269.8h1.0v1.0h-1.0zM447.9 271.2h1.0v1.0h-1.0zM482.1 267.6h1.0v1.0h-1.0zM466.3 264.0h1.0v1.0h-1.0zM476.0 267.9h1.0v1.0h-1.0zM389.5 269.2h1.0v1.0h-1.0zM471.9 270.1h1.0v1.0h-1.0zM455.0 268.6h1.0v1.0h-1.0zM436.6 265.4h1.0v1.0h-1.0zM439.2 269.6h1.0v1.0h-1.0zM448.9 266.0h1.0v1.0h-1.0zM434.5 267.6h1.0v1.0h-1.0zM455.3 268.3h1.0v1.0h-1.0zM446.6 269.9h1.0v1.0h-1.0zM382.5 269.0h1.0v1.0h-1.0zM478.4 267.7h1.0v1.0h-1.0zM387.4 268.6h1.0v1.0h-1.0zM438.0 264.1h1.0v1.0h-1.0zM384.2 264.0h1.0v1.0h-1.0zM419.5 267.2h1.0v1.0h-1.0zM400.9 266.9h1.0v1.0h-1.0zM442.2 265.2h1.0v1.0h-1.0zM452.2 265.8h1.0v1.0h-1.0zM480.8 264.5h1.0v1.0h-1.0zM471.8 266.7h1.0v1.0h-1.0zM477.3 265.5h1.0v1.0h-1.0zM472.4 266.6h1.0v1.0h-1.0zM438.7 268.7h1.0v1.0h-1.0zM392.5 270.9h1.0v1.0h-1.0zM413.7 269.0h1.0v1.0h-1.0zM441.9 264.7h1.0v1.0h-1.0zM428.2 265.2h1.0v1.0h-1.0zM437.9 267.9h1.0v1.0h-1.0zM443.8 265.9h1.0v1.0h-1.0zM469.7 268.1h1.0v1.0h-1.0zM468.6 267.1h1.0v1.0h-1.0zM473.0 266.5h1.0v1.0h-1.0zM467.9 266.8h1.0v1.0h-1.0zM458.5 265.8h1.0v1.0h-1.0zM442.6 265.0h1.0v1.0h-1.0zM438.7 267.1h1.0v1.0h-1.0zM390.0 265.7h1.0v1.0h-1.0zM453.5 265.0h1.0v1.0h-1.0zM422.1 270.7h1.0v1.0h-1.0zM396.1 268.4h1.0v1.0h-1.0zM424.8 266.2h1.0v1.0h-1.0zM446.7 264.9h1.0v1.0h-1.0zM461.3 269.4h1.0v1.0h-1.0zM486.2 269.7h1.0v1.0h-1.0zM384.3 266.0h1.0v1.0h-1.0zM428.3 265.9h1.0v1.0h-1.0zM418.4 267.3h1.0v1.0h-1.0zM466.1 264.7h1.0v1.0h-1.0zM455.2 269.9h1.0v1.0h-1.0zM447.3 265.6h1.0v1.0h-1.0zM404.7 267.2h1.0v1.0h-1.0zM463.0 268.6h1.0v1.0h-1.0zM456.2 266.3h1.0v1.0h-1.0zM452.2 267.8h1.0v1.0h-1.0zM462.3 265.8h1.0v1.0h-1.0zM446.8 266.0h1.0v1.0h-1.0zM441.9 264.9h1.0v1.0h-1.0zM434.5 266.0h1.0v1.0h-1.0zM429.3 265.5h1.0v1.0h-1.0zM483.5 266.2h1.0v1.0h-1.0zM416.2 266.0h1.0v1.0h-1.0zM405.8 264.4h1.0v1.0h-1.0zM392.4 265.5h1.0v1.0h-1.0zM462.1 266.8h1.0v1.0h-1.0zM485.7 266.5h1.0v1.0h-1.0zM413.9 269.1h1.0v1.0h-1.0zM422.4 264.5h1.0v1.0h-1.0zM427.3 264.1h1.0v1.0h-1.0zM432.0 266.5h1.0v1.0h-1.0zM409.1 266.2h1.0v1.0h-1.0zM389.5 268.1h1.0v1.0h-1.0zM394.7 268.0h1.0v1.0h-1.0zM410.3 267.1h1.0v1.0h-1.0zM418.3 265.7h1.0v1.0h-1.0zM423.2 264.1h1.0v1.0h-1.0zM449.6 265.1h1.0v1.0h-1.0zM409.6 264.8h1.0v1.0h-1.0zM452.8 266.2h1.0v1.0h-1.0zM452.9 266.8h1.0v1.0h-1.0zM438.4 268.5h1.0v1.0h-1.0zM393.6 267.5h1.0v1.0h-1.0zM462.8 271.2h1.0v1.0h-1.0zM424.5 266.1h1.0v1.0h-1.0zM411.7 266.8h1.0v1.0h-1.0zM463.3 264.2h1.0v1.0h-1.0zM463.4 266.7h1.0v1.0h-1.0zM400.8 267.3h1.0v1.0h-1.0zM412.0 268.5h1.0v1.0h-1.0zM479.4 269.2h1.0v1.0h-1.0zM425.5 265.7h1.0v1.0h-1.0zM397.6 268.3h1.0v1.0h-1.0zM450.1 266.3h1.0v1.0h-1.0zM443.4 269.1h1.0v1.0h-1.0zM413.0 267.0h1.0v1.0h-1.0zM433.2 269.8h1.0v1.0h-1.0zM463.5 265.1h1.0v1.0h-1.0zM433.8 268.8h1.0v1.0h-1.0zM467.3 267.0h1.0v1.0h-1.0zM413.1 264.2h1.0v1.0h-1.0zM474.2 265.3h1.0v1.0h-1.0zM407.9 268.2h1.0v1.0h-1.0zM480.7 267.0h1.0v1.0h-1.0zM398.5 265.7h1.0v1.0h-1.0zM422.5 265.0h1.0v1.0h-1.0zM437.1 266.1h1.0v1.0h-1.0zM439.7 268.5h1.0v1.0h-1.0zM422.6 265.4h1.0v1.0h-1.0zM482.4 270.8h1.0v1.0h-1.0zM441.9 266.7h1.0v1.0h-1.0zM441.0 264.9h1.0v1.0h-1.0zM474.4 270.1h1.0v1.0h-1.0zM473.2 265.4h1.0v1.0h-1.0zM427.9 265.4h1.0v1.0h-1.0zM413.4 265.0h1.0v1.0h-1.0zM437.3 267.1h1.0v1.0h-1.0zM474.4 268.5h1.0v1.0h-1.0zM407.4 264.1h1.0v1.0h-1.0zM389.7 267.7h1.0v1.0h-1.0zM450.7 265.0h1.0v1.0h-1.0zM446.0 267.2h1.0v1.0h-1.0zM399.2 270.2h1.0v1.0h-1.0zM468.1 268.4h1.0v1.0h-1.0zM472.6 267.2h1.0v1.0h-1.0zM446.8 266.3h1.0v1.0h-1.0zM428.9 267.1h1.0v1.0h-1.0zM484.9 266.5h1.0v1.0h-1.0zM440.8 265.1h1.0v1.0h-1.0zM466.7 265.4h1.0v1.0h-1.0zM457.8 264.2h1.0v1.0h-1.0zM414.4 268.3h1.0v1.0h-1.0zM437.7 269.2h1.0v1.0h-1.0zM458.4 268.1h1.0v1.0h-1.0zM407.6 268.6h1.0v1.0h-1.0zM480.0 266.2h1.0v1.0h-1.0zM419.1 266.0h1.0v1.0h-1.0zM452.9 264.5h1.0v1.0h-1.0zM451.4 266.2h1.0v1.0h-1.0zM441.8 265.9h1.0v1.0h-1.0zM478.5 264.3h1.0v1.0h-1.0zM392.4 266.2h1.0v1.0h-1.0zM382.6 267.9h1.0v1.0h-1.0zM393.8 266.5h1.0v1.0h-1.0zM421.3 264.3h1.0v1.0h-1.0zM428.0 266.3h1.0v1.0h-1.0zM445.6 264.8h1.0v1.0h-1.0zM432.3 266.3h1.0v1.0h-1.0zM390.5 267.7h1.0v1.0h-1.0zM405.8 266.0h1.0v1.0h-1.0zM412.3 269.4h1.0v1.0h-1.0zM445.2 269.9h1.0v1.0h-1.0zM383.7 266.6h1.0v1.0h-1.0zM477.5 265.2h1.0v1.0h-1.0zM421.6 267.0h1.0v1.0h-1.0zM398.0 264.9h1.0v1.0h-1.0zM393.7 269.1h1.0v1.0h-1.0zM467.0 265.0h1.0v1.0h-1.0zM426.4 265.2h1.0v1.0h-1.0zM457.6 267.8h1.0v1.0h-1.0zM431.2 268.7h1.0v1.0h-1.0zM474.2 267.8h1.0v1.0h-1.0zM445.0 267.3h1.0v1.0h-1.0zM397.0 266.5h1.0v1.0h-1.0zM471.9 268.1h1.0v1.0h-1.0zM403.0 266.1h1.0v1.0h-1.0zM385.8 268.3h1.0v1.0h-1.0zM472.1 267.8h1.0v1.0h-1.0zM467.0 264.9h1.0v1.0h-1.0zM388.3 266.4h1.0v1.0h-1.0zM400.0 267.4h1.0v1.0h-1.0zM438.5 266.1h1.0v1.0h-1.0zM476.0 270.1h1.0v1.0h-1.0zM464.5 264.7h1.0v1.0h-1.0zM407.1 266.1h1.0v1.0h-1.0zM439.2 265.2h1.0v1.0h-1.0zM459.5 269.0h1.0v1.0h-1.0zM477.1 265.7h1.0v1.0h-1.0zM463.4 266.0h1.0v1.0h-1.0zM432.1 266.4h1.0v1.0h-1.0zM403.7 268.4h1.0v1.0h-1.0zM448.2 267.9h1.0v1.0h-1.0zM461.2 266.6h1.0v1.0h-1.0zM429.0 265.9h1.0v1.0h-1.0zM461.1 265.2h1.0v1.0h-1.0zM450.3 264.5h1.0v1.0h-1.0zM473.7 264.2h1.0v1.0h-1.0zM383.2 267.7h1.0v1.0h-1.0zM466.3 264.7h1.0v1.0h-1.0zM441.4 266.4h1.0v1.0h-1.0zM462.4 264.3h1.0v1.0h-1.0zM422.0 265.6h1.0v1.0h-1.0zM423.5 267.2h1.0v1.0h-1.0zM419.3 266.8h1.0v1.0h-1.0zM458.2 264.1h1.0v1.0h-1.0zM386.3 267.1h1.0v1.0h-1.0zM483.9 267.2h1.0v1.0h-1.0zM477.6 268.3h1.0v1.0h-1.0zM413.6 269.8h1.0v1.0h-1.0zM408.3 265.1h1.0v1.0h-1.0zM455.5 269.0h1.0v1.0h-1.0zM443.7 270.4h1.0v1.0h-1.0zM453.7 268.0h1.0v1.0h-1.0zM393.6 265.0h1.0v1.0h-1.0zM454.3 264.4h1.0v1.0h-1.0zM467.5 267.6h1.0v1.0h-1.0zM405.7 267.8h1.0v1.0h-1.0zM447.1 269.2h1.0v1.0h-1.0zM431.1 268.3h1.0v1.0h-1.0zM472.7 267.8h1.0v1.0h-1.0z" fill="#ffffff" fill-opacity="0.5"/>
<path d="M460.9 304.0h1.0v1.0h-1.0zM442.1 305.5h1.0v1.0h-1.0zM480.5 301.5h1.0v1.0h-1.0zM438.6 304.9h1.0v1.0h-1.0zM467.0 301.9h1.0v1.0h-1.0zM422.6 302.3h1.0v1.0h-1.0zM446.3 302.9h1.0v1.0h-1.0zM482.5 304.1h1.0v1.0h-1.0zM464.1 303.4h1.0v1.0h-1.0zM401.2 304.6h1.0v1.0h-1.0zM486.2 302.8h1.0v1.0h-1.0zM469.5 303.9h1.0v1.0h-1.0zM449.9 304.5h1.0v1.0h-1.0zM397.6 303.1h1.0v1.0h-1.0zM442.8 301.2h1.0v1.0h-1.0zM395.2 301.6h1.0v1.0h-1.0zM450.8 303.7h1.0v1.0h-1.0zM465.3 305.4h1.0v1.0h-1.0zM457.1 302.1h1.0v1.0h-1.0zM451.0 302.3h1.0v1.0h-1.0zM402.2 306.6h1.0v1.0h-1.0zM393.9 302.0h1.0v1.0h-1.0zM443.1 304.2h1.0v1.0h-1.0zM382.7 302.3h1.0v1.0h-1.0zM448.8 302.2h1.0v1.0h-1.0zM438.6 301.7h1.0v1.0h-1.0zM396.4 303.9h1.0v1.0h-1.0zM474.2 302.2h1.0v1.0h-1.0zM430.5 302.3h1.0v1.0h-1.0zM422.4 304.6h1.0v1.0h-1.0zM395.1 304.1h1.0v1.0h-1.0zM401.9 306.3h1.0v1.0h-1.0zM467.1 301.7h1.0v1.0h-1.0zM459.8 302.5h1.0v1.0h-1.0zM455.3 304.6h1.0v1.0h-1.0zM452.3 304.6h1.0v1.0h-1.0zM438.6 300.5h1.0v1.0h-1.0zM449.4 303.8h1.0v1.0h-1.0zM409.7 301.3h1.0v1.0h-1.0zM438.1 305.1h1.0v1.0h-1.0zM407.1 301.6h1.0v1.0h-1.0zM451.7 303.8h1.0v1.0h-1.0zM464.5 300.5h1.0v1.0h-1.0zM387.8 303.2h1.0v1.0h-1.0zM455.8 305.5h1.0v1.0h-1.0zM388.4 304.0h1.0v1.0h-1.0zM485.7 304.6h1.0v1.0h-1.0zM471.2 303.4h1.0v1.0h-1.0zM400.0 303.5h1.0v1.0h-1.0zM467.0 304.1h1.0v1.0h-1.0zM449.6 305.4h1.0v1.0h-1.0zM446.3 303.7h1.0v1.0h-1.0zM447.8 304.9h1.0v1.0h-1.0zM433.9 301.1h1.0v1.0h-1.0zM447.8 301.7h1.0v1.0h-1.0zM483.7 302.7h1.0v1.0h-1.0zM407.5 304.2h1.0v1.0h-1.0zM400.8 304.0h1.0v1.0h-1.0zM476.7 301.2h1.0v1.0h-1.0zM419.3 302.8h1.0v1.0h-1.0zM477.9 301.9h1.0v1.0h-1.0zM431.7 304.6h1.0v1.0h-1.0zM457.8 303.3h1.0v1.0h-1.0zM455.6 303.5h1.0v1.0h-1.0zM416.7 302.6h1.0v1.0h-1.0zM398.4 302.8h1.0v1.0h-1.0zM402.9 304.2h1.0v1.0h-1.0zM431.1 300.8h1.0v1.0h-1.0zM406.0 305.3h1.0v1.0h-1.0zM399.5 303.9h1.0v1.0h-1.0zM429.6 299.7h1.0v1.0h-1.0zM382.5 301.1h1.0v1.0h-1.0zM387.2 302.5h1.0v1.0h-1.0zM455.9 302.5h1.0v1.0h-1.0zM424.3 305.5h1.0v1.0h-1.0zM454.1 301.0h1.0v1.0h-1.0zM467.9 302.6h1.0v1.0h-1.0zM422.9 303.7h1.0v1.0h-1.0zM415.4 302.0h1.0v1.0h-1.0zM484.2 302.3h1.0v1.0h-1.0zM485.9 302.2h1.0v1.0h-1.0zM444.1 300.5h1.0v1.0h-1.0zM414.3 302.4h1.0v1.0h-1.0zM399.2 305.1h1.0v1.0h-1.0zM400.0 305.0h1.0v1.0h-1.0zM450.9 301.8h1.0v1.0h-1.0zM454.3 301.3h1.0v1.0h-1.0zM465.0 302.2h1.0v1.0h-1.0zM482.5 304.6h1.0v1.0h-1.0zM439.6 304.1h1.0v1.0h-1.0zM436.2 300.1h1.0v1.0h-1.0zM451.8 303.7h1.0v1.0h-1.0zM466.4 301.9h1.0v1.0h-1.0zM484.8 302.5h1.0v1.0h-1.0zM456.2 304.0h1.0v1.0h-1.0zM481.2 301.8h1.0v1.0h-1.0zM394.7 303.4h1.0v1.0h-1.0zM440.3 303.4h1.0v1.0h-1.0zM419.4 303.7h1.0v1.0h-1.0zM475.6 302.5h1.0v1.0h-1.0zM388.5 302.1h1.0v1.0h-1.0zM468.0 304.7h1.0v1.0h-1.0zM430.1 304.6h1.0v1.0h-1.0zM394.2 304.6h1.0v1.0h-1.0zM444.2 303.7h1.0v1.0h-1.0zM427.0 302.7h1.0v1.0h-1.0zM435.4 304.4h1.0v1.0h-1.0zM481.0 303.9h1.0v1.0h-1.0zM399.9 301.1h1.0v1.0h-1.0zM450.0 302.0h1.0v1.0h-1.0zM469.1 299.9h1.0v1.0h-1.0zM479.0 302.8h1.0v1.0h-1.0zM460.7 301.8h1.0v1.0h-1.0zM464.1 303.3h1.0v1.0h-1.0zM402.5 304.3h1.0v1.0h-1.0zM383.8 303.6h1.0v1.0h-1.0zM428.4 300.5h1.0v1.0h-1.0zM404.1 303.8h1.0v1.0h-1.0zM474.4 302.8h1.0v1.0h-1.0zM468.1 303.7h1.0v1.0h-1.0zM437.7 302.4h1.0v1.0h-1.0zM399.9 302.1h1.0v1.0h-1.0zM404.6 301.8h1.0v1.0h-1.0zM463.0 303.6h1.0v1.0h-1.0zM416.6 301.5h1.0v1.0h-1.0zM461.9 305.8h1.0v1.0h-1.0zM460.5 301.7h1.0v1.0h-1.0zM406.5 302.6h1.0v1.0h-1.0zM405.9 302.5h1.0v1.0h-1.0zM452.9 302.8h1.0v1.0h-1.0zM385.9 303.1h1.0v1.0h-1.0zM453.9 300.4h1.0v1.0h-1.0zM428.2 301.1h1.0v1.0h-1.0zM458.9 303.9h1.0v1.0h-1.0zM420.3 302.6h1.0v1.0h-1.0zM471.4 303.1h1.0v1.0h-1.0zM469.4 300.7h1.0v1.0h-1.0zM484.3 301.6h1.0v1.0h-1.0zM434.7 302.5h1.0v1.0h-1.0zM412.4 302.4h1.0v1.0h-1.0zM388.9 305.1h1.0v1.0h-1.0zM388.1 302.4h1.0v1.0h-1.0zM434.9 303.6h1.0v1.0h-1.0zM411.0 302.8h1.0v1.0h-1.0zM484.7 302.4h1.0v1.0h-1.0zM417.7 301.2h1.0v1.0h-1.0zM484.1 305.5h1.0v1.0h-1.0zM433.5 303.0h1.0v1.0h-1.0zM424.9 302.3h1.0v1.0h-1.0zM431.4 303.9h1.0v1.0h-1.0zM427.7 301.4h1.0v1.0h-1.0zM430.0 302.3h1.0v1.0h-1.0zM435.3 302.9h1.0v1.0h-1.0zM422.0 303.8h1.0v1.0h-1.0zM386.3 305.4h1.0v1.0h-1.0zM397.3 304.7h1.0v1.0h-1.0zM465.8 302.8h1.0v1.0h-1.0zM483.6 305.0h1.0v1.0h-1.0zM392.2 300.5h1.0v1.0h-1.0zM471.4 303.3h1.0v1.0h-1.0zM452.6 301.7h1.0v1.0h-1.0zM417.9 303.6h1.0v1.0h-1.0zM457.2 305.6h1.0v1.0h-1.0zM410.4 304.5h1.0v1.0h-1.0zM468.7 301.0h1.0v1.0h-1.0zM469.2 301.3h1.0v1.0h-1.0zM462.0 304.8h1.0v1.0h-1.0zM407.0 302.7h1.0v1.0h-1.0zM452.0 301.9h1.0v1.0h-1.0zM482.3 306.4h1.0v1.0h-1.0zM402.5 302.0h1.0v1.0h-1.0zM448.0 303.2h1.0v1.0h-1.0zM458.7 304.8h1.0v1.0h-1.0zM397.4 302.1h1.0v1.0h-1.0zM469.0 301.2h1.0v1.0h-1.0zM444.6 305.7h1.0v1.0h-1.0zM465.9 299.6h1.0v1.0h-1.0zM456.5 303.9h1.0v1.0h-1.0zM389.0 303.7h1.0v1.0h-1.0zM442.0 303.3h1.0v1.0h-1.0zM423.2 304.5h1.0v1.0h-1.0zM400.3 302.6h1.0v1.0h-1.0zM474.3 304.4h1.0v1.0h-1.0zM406.2 306.2h1.0v1.0h-1.0zM397.2 306.0h1.0v1.0h-1.0zM479.3 301.6h1.0v1.0h-1.0zM444.1 304.9h1.0v1.0h-1.0zM476.4 302.2h1.0v1.0h-1.0zM427.6 302.9h1.0v1.0h-1.0zM417.7 300.8h1.0v1.0h-1.0zM484.1 302.6h1.0v1.0h-1.0zM436.5 302.5h1.0v1.0h-1.0zM416.0 305.1h1.0v1.0h-1.0zM397.9 305.1h1.0v1.0h-1.0zM398.2 304.6h1.0v1.0h-1.0z" fill="#ffffff" fill-opacity="0.5"/>
<path d="M405.6 303.8h1.0v1.0h-1.0zM476.8 306.5h1.0v1.0h-1.0zM409.9 302.6h1.0v1.0h-1.0zM472.8 302.5h1.0v1.0h-1.0zM449.2 306.5h1.0v1.0h-1.0zM388.3 303.6h1.0v1.0h-1.0zM440.8 309.3h1.0v1.0h-1.0zM413.4 304.5h1.0v1.0h-1.0zM434.6 303.9h1.0v1.0h-1.0zM420.2 303.7h1.0v1.0h-1.0zM420.6 305.6h1.0v1.0h-1.0zM467.5 304.2h1.0v1.0h-1.0zM452.2 304.0h1.0v1.0h-1.0zM482.4 302.7h1.0v1.0h-1.0zM388.2 304.0h1.0v1.0h-1.0zM392.1 304.6h1.0v1.0h-1.0zM388.8 304.4h1.0v1.0h-1.0zM383.6 303.7h1.0v1.0h-1.0zM444.4 307.2h1.0v1.0h-1.0zM482.6 304.1h1.0v1.0h-1.0zM406.5 304.0h1.0v1.0h-1.0zM424.7 302.0h1.0v1.0h-1.0zM443.0 304.1h1.0v1.0h-1.0zM452.5 303.4h1.0v1.0h-1.0zM470.3 305.0h1.0v1.0h-1.0zM478.6 304.7h1.0v1.0h-1.0zM451.7 304.0h1.0v1.0h-1.0zM455.8 304.7h1.0v1.0h-1.0zM465.4 302.4h1.0v1.0h-1.0zM462.3 306.4h1.0v1.0h-1.0zM386.4 303.2h1.0v1.0h-1.0zM446.3 304.3h1.0v1.0h-1.0zM411.8 306.4h1.0v1.0h-1.0zM401.6 306.3h1.0v1.0h-1.0zM408.9 305.0h1.0v1.0h-1.0zM453.0 303.3h1.0v1.0h-1.0zM396.2 304.7h1.0v1.0h-1.0zM428.3 306.3h1.0v1.0h-1.0zM418.7 304.8h1.0v1.0h-1.0zM478.4 304.2h1.0v1.0h-1.0zM475.7 303.5h1.0v1.0h-1.0zM413.1 307.2h1.0v1.0h-1.0zM485.2 303.7h1.0v1.0h-1.0zM439.8 306.7h1.0v1.0h-1.0zM434.9 303.0h1.0v1.0h-1.0zM472.1 303.6h1.0v1.0h-1.0zM434.4 302.1h1.0v1.0h-1.0zM431.6 303.4h1.0v1.0h-1.0zM453.2 306.2h1.0v1.0h-1.0zM392.7 306.1h1.0v1.0h-1.0zM455.6 302.4h1.0v1.0h-1.0zM388.6 302.9h1.0v1.0h-1.0zM485.9 305.2h1.0v1.0h-1.0zM485.4 308.5h1.0v1.0h-1.0zM464.7 304.0h1.0v1.0h-1.0zM387.7 305.0h1.0v1.0h-1.0zM461.8 307.4h1.0v1.0h-1.0zM411.3 306.4h1.0v1.0h-1.0zM455.1 302.6h1.0v1.0h-1.0zM393.2 305.6h1.0v1.0h-1.0zM431.0 303.0h1.0v1.0h-1.0zM475.7 306.0h1.0v1.0h-1.0zM479.9 307.8h1.0v1.0h-1.0zM484.6 305.0h1.0v1.0h-1.0zM472.6 303.9h1.0v1.0h-1.0zM390.8 303.4h1.0v1.0h-1.0zM444.7 304.4h1.0v1.0h-1.0zM402.3 304.9h1.0v1.0h-1.0zM423.9 303.9h1.0v1.0h-1.0zM475.1 306.6h1.0v1.0h-1.0zM429.5 305.7h1.0v1.0h-1.0zM385.6 305.1h1.0v1.0h-1.0zM425.3 305.6h1.0v1.0h-1.0zM400.9 302.7h1.0v1.0h-1.0zM402.4 307.1h1.0v1.0h-1.0zM420.1 306.2h1.0v1.0h-1.0zM478.5 303.5h1.0v1.0h-1.0zM440.5 302.3h1.0v1.0h-1.0zM383.2 304.2h1.0v1.0h-1.0zM385.3 306.4h1.0v1.0h-1.0zM485.7 302.8h1.0v1.0h-1.0zM452.5 305.4h1.0v1.0h-1.0zM459.9 305.2h1.0v1.0h-1.0zM393.9 304.2h1.0v1.0h-1.0zM404.2 303.3h1.0v1.0h-1.0zM455.8 306.3h1.0v1.0h-1.0zM463.3 305.3h1.0v1.0h-1.0zM414.8 304.8h1.0v1.0h-1.0zM481.3 305.2h1.0v1.0h-1.0zM391.1 302.7h1.0v1.0h-1.0zM414.3 303.4h1.0v1.0h-1.0zM442.0 304.9h1.0v1.0h-1.0zM438.0 306.2h1.0v1.0h-1.0zM416.6 309.4h1.0v1.0h-1.0zM444.6 302.7h1.0v1.0h-1.0zM486.1 303.5h1.0v1.0h-1.0zM450.8 302.6h1.0v1.0h-1.0zM421.9 306.3h1.0v1.0h-1.0zM411.8 302.1h1.0v1.0h-1.0zM397.0 307.5h1.0v1.0h-1.0zM438.5 303.3h1.0v1.0h-1.0zM392.3 308.3h1.0v1.0h-1.0zM433.2 303.3h1.0v1.0h-1.0zM467.8 306.1h1.0v1.0h-1.0zM451.2 309.1h1.0v1.0h-1.0zM478.5 307.2h1.0v1.0h-1.0zM388.6 306.0h1.0v1.0h-1.0zM482.6 306.7h1.0v1.0h-1.0zM401.5 306.3h1.0v1.0h-1.0zM402.5 305.3h1.0v1.0h-1.0zM423.3 302.9h1.0v1.0h-1.0zM400.5 306.6h1.0v1.0h-1.0zM424.8 305.8h1.0v1.0h-1.0zM459.6 303.9h1.0v1.0h-1.0zM421.5 304.3h1.0v1.0h-1.0zM465.7 304.3h1.0v1.0h-1.0zM454.9 303.7h1.0v1.0h-1.0zM410.3 307.8h1.0v1.0h-1.0zM478.3 305.4h1.0v1.0h-1.0zM386.5 307.8h1.0v1.0h-1.0zM462.7 306.7h1.0v1.0h-1.0zM387.8 306.5h1.0v1.0h-1.0zM450.1 302.2h1.0v1.0h-1.0zM446.6 304.5h1.0v1.0h-1.0zM406.0 303.6h1.0v1.0h-1.0zM387.9 302.6h1.0v1.0h-1.0zM484.4 305.1h1.0v1.0h-1.0zM434.8 304.3h1.0v1.0h-1.0zM450.4 305.5h1.0v1.0h-1.0zM399.2 307.1h1.0v1.0h-1.0zM404.7 307.3h1.0v1.0h-1.0zM484.9 304.8h1.0v1.0h-1.0zM424.6 303.3h1.0v1.0h-1.0zM398.2 305.8h1.0v1.0h-1.0zM416.0 303.4h1.0v1.0h-1.0zM429.6 305.3h1.0v1.0h-1.0zM478.1 303.6h1.0v1.0h-1.0zM471.9 304.9h1.0v1.0h-1.0zM402.0 303.0h1.0v1.0h-1.0zM469.1 303.1h1.0v1.0h-1.0zM393.8 303.9h1.0v1.0h-1.0zM460.7 304.4h1.0v1.0h-1.0zM467.7 303.5h1.0v1.0h-1.0z" fill="#3040e8" fill-opacity="0.7"/>
<ellipse cx="436" cy="287.2" rx="31" ry="5.4" fill="url(#dblob)" transform="rotate(-4 436 287.2)"/>
<ellipse cx="428.5" cy="290.4" rx="19" ry="2.2" fill="url(#dred)" transform="rotate(-1.5 428.5 290.4)"/>
<rect x="382.4" y="254.7" width="105.20000000000005" height="58.900000000000034" fill="none" stroke="#a0a0a0" stroke-width="0.9"/>
<rect x="382.4" y="329.4" width="105.20000000000005" height="57.200000000000045" fill="#ffffff" />
<path d="M426.1 335.0h1.3v1.3h-1.3zM477.3 340.4h1.3v1.3h-1.3zM424.1 340.1h1.3v1.3h-1.3zM410.4 334.5h1.3v1.3h-1.3zM471.2 339.0h1.3v1.3h-1.3zM387.9 337.2h1.3v1.3h-1.3zM441.3 337.8h1.3v1.3h-1.3zM439.7 334.3h1.3v1.3h-1.3zM385.8 339.2h1.3v1.3h-1.3zM451.1 340.9h1.3v1.3h-1.3zM430.3 339.3h1.3v1.3h-1.3zM469.9 337.2h1.3v1.3h-1.3zM405.9 334.9h1.3v1.3h-1.3zM449.3 336.6h1.3v1.3h-1.3zM443.9 339.2h1.3v1.3h-1.3zM455.5 332.8h1.3v1.3h-1.3zM456.3 335.4h1.3v1.3h-1.3zM457.4 337.1h1.3v1.3h-1.3zM404.5 337.1h1.3v1.3h-1.3zM475.2 339.6h1.3v1.3h-1.3zM399.6 336.8h1.3v1.3h-1.3zM404.0 337.7h1.3v1.3h-1.3zM479.5 339.7h1.3v1.3h-1.3zM463.0 338.4h1.3v1.3h-1.3zM409.2 336.4h1.3v1.3h-1.3zM443.2 337.8h1.3v1.3h-1.3zM407.2 339.0h1.3v1.3h-1.3zM400.5 338.0h1.3v1.3h-1.3zM388.7 336.5h1.3v1.3h-1.3zM486.0 336.9h1.3v1.3h-1.3zM440.2 335.2h1.3v1.3h-1.3zM425.6 335.9h1.3v1.3h-1.3zM443.9 339.2h1.3v1.3h-1.3zM471.6 338.8h1.3v1.3h-1.3zM434.8 336.9h1.3v1.3h-1.3zM451.2 334.0h1.3v1.3h-1.3zM409.3 336.9h1.3v1.3h-1.3zM465.9 335.5h1.3v1.3h-1.3zM413.2 334.9h1.3v1.3h-1.3zM446.1 336.9h1.3v1.3h-1.3zM394.0 340.6h1.3v1.3h-1.3zM414.8 338.5h1.3v1.3h-1.3zM484.6 335.9h1.3v1.3h-1.3zM442.3 335.7h1.3v1.3h-1.3zM455.6 340.6h1.3v1.3h-1.3zM475.3 337.0h1.3v1.3h-1.3zM486.2 336.9h1.3v1.3h-1.3zM405.8 334.9h1.3v1.3h-1.3zM473.0 337.0h1.3v1.3h-1.3zM450.5 338.9h1.3v1.3h-1.3zM400.4 339.2h1.3v1.3h-1.3zM427.9 338.9h1.3v1.3h-1.3zM457.7 337.3h1.3v1.3h-1.3zM418.7 331.9h1.3v1.3h-1.3zM394.8 335.2h1.3v1.3h-1.3zM399.5 341.3h1.3v1.3h-1.3zM459.0 334.0h1.3v1.3h-1.3zM471.8 338.0h1.3v1.3h-1.3zM434.2 335.5h1.3v1.3h-1.3zM392.6 336.4h1.3v1.3h-1.3zM392.7 337.1h1.3v1.3h-1.3zM481.3 338.3h1.3v1.3h-1.3zM387.0 337.3h1.3v1.3h-1.3zM484.8 336.5h1.3v1.3h-1.3zM453.5 336.2h1.3v1.3h-1.3zM458.8 339.4h1.3v1.3h-1.3zM468.6 339.5h1.3v1.3h-1.3zM460.3 340.2h1.3v1.3h-1.3zM478.0 340.8h1.3v1.3h-1.3zM463.4 338.8h1.3v1.3h-1.3zM400.7 337.3h1.3v1.3h-1.3zM427.7 334.2h1.3v1.3h-1.3zM453.0 336.9h1.3v1.3h-1.3zM424.5 338.1h1.3v1.3h-1.3zM471.0 337.5h1.3v1.3h-1.3zM430.7 338.2h1.3v1.3h-1.3zM446.3 339.2h1.3v1.3h-1.3zM411.7 335.9h1.3v1.3h-1.3zM416.1 335.2h1.3v1.3h-1.3zM479.3 333.3h1.3v1.3h-1.3zM442.0 336.3h1.3v1.3h-1.3zM402.7 340.4h1.3v1.3h-1.3zM475.6 336.8h1.3v1.3h-1.3zM385.1 338.0h1.3v1.3h-1.3zM427.7 335.3h1.3v1.3h-1.3zM471.9 339.3h1.3v1.3h-1.3zM426.9 342.4h1.3v1.3h-1.3zM419.6 334.7h1.3v1.3h-1.3zM400.5 338.3h1.3v1.3h-1.3zM417.3 337.6h1.3v1.3h-1.3zM485.4 336.6h1.3v1.3h-1.3zM481.0 338.0h1.3v1.3h-1.3zM444.8 335.0h1.3v1.3h-1.3zM430.8 334.4h1.3v1.3h-1.3zM463.2 336.4h1.3v1.3h-1.3zM383.3 336.5h1.3v1.3h-1.3zM462.2 340.1h1.3v1.3h-1.3zM420.8 337.3h1.3v1.3h-1.3zM477.4 337.6h1.3v1.3h-1.3zM476.8 337.2h1.3v1.3h-1.3zM403.2 337.1h1.3v1.3h-1.3zM441.9 335.8h1.3v1.3h-1.3zM403.0 334.2h1.3v1.3h-1.3zM441.4 336.4h1.3v1.3h-1.3zM471.9 336.1h1.3v1.3h-1.3zM447.5 339.1h1.3v1.3h-1.3zM478.2 336.8h1.3v1.3h-1.3zM432.1 336.7h1.3v1.3h-1.3zM383.8 335.3h1.3v1.3h-1.3zM419.7 340.5h1.3v1.3h-1.3zM425.1 339.5h1.3v1.3h-1.3zM393.7 335.7h1.3v1.3h-1.3zM484.9 335.0h1.3v1.3h-1.3zM468.2 333.9h1.3v1.3h-1.3zM485.6 337.3h1.3v1.3h-1.3zM384.6 337.6h1.3v1.3h-1.3zM434.8 340.0h1.3v1.3h-1.3zM396.4 337.0h1.3v1.3h-1.3zM464.6 336.3h1.3v1.3h-1.3zM388.8 338.9h1.3v1.3h-1.3zM397.9 339.4h1.3v1.3h-1.3zM386.2 337.0h1.3v1.3h-1.3zM394.5 333.4h1.3v1.3h-1.3zM436.9 340.0h1.3v1.3h-1.3zM442.9 336.9h1.3v1.3h-1.3zM384.7 337.2h1.3v1.3h-1.3zM437.5 339.5h1.3v1.3h-1.3zM411.3 336.7h1.3v1.3h-1.3zM420.2 338.2h1.3v1.3h-1.3zM476.0 336.7h1.3v1.3h-1.3zM427.0 336.6h1.3v1.3h-1.3zM387.5 334.9h1.3v1.3h-1.3zM395.8 337.9h1.3v1.3h-1.3zM449.3 334.7h1.3v1.3h-1.3zM479.7 338.1h1.3v1.3h-1.3zM480.6 335.6h1.3v1.3h-1.3zM433.8 336.2h1.3v1.3h-1.3zM455.1 336.4h1.3v1.3h-1.3zM408.4 339.1h1.3v1.3h-1.3zM389.9 337.8h1.3v1.3h-1.3zM479.7 340.0h1.3v1.3h-1.3zM398.7 336.6h1.3v1.3h-1.3zM433.1 334.3h1.3v1.3h-1.3zM461.7 339.7h1.3v1.3h-1.3zM413.3 337.7h1.3v1.3h-1.3zM413.8 336.1h1.3v1.3h-1.3zM385.4 337.1h1.3v1.3h-1.3zM390.4 340.0h1.3v1.3h-1.3zM413.1 337.3h1.3v1.3h-1.3zM479.8 336.2h1.3v1.3h-1.3zM405.3 337.1h1.3v1.3h-1.3zM429.1 335.3h1.3v1.3h-1.3zM416.0 335.1h1.3v1.3h-1.3zM427.5 336.4h1.3v1.3h-1.3zM437.0 338.9h1.3v1.3h-1.3zM409.0 338.6h1.3v1.3h-1.3zM430.7 336.4h1.3v1.3h-1.3zM417.1 337.6h1.3v1.3h-1.3zM447.4 338.1h1.3v1.3h-1.3zM477.7 337.1h1.3v1.3h-1.3zM427.1 339.9h1.3v1.3h-1.3zM453.6 337.5h1.3v1.3h-1.3zM444.5 343.6h1.3v1.3h-1.3zM385.2 338.7h1.3v1.3h-1.3zM450.2 333.7h1.3v1.3h-1.3zM437.5 338.0h1.3v1.3h-1.3zM429.4 336.8h1.3v1.3h-1.3zM457.8 336.3h1.3v1.3h-1.3zM477.1 335.1h1.3v1.3h-1.3zM427.0 337.9h1.3v1.3h-1.3zM423.1 335.4h1.3v1.3h-1.3zM457.5 335.3h1.3v1.3h-1.3zM449.0 339.5h1.3v1.3h-1.3zM439.1 338.8h1.3v1.3h-1.3zM398.5 338.1h1.3v1.3h-1.3zM459.6 336.5h1.3v1.3h-1.3zM418.1 336.6h1.3v1.3h-1.3zM393.1 334.5h1.3v1.3h-1.3zM444.3 335.7h1.3v1.3h-1.3zM479.7 335.3h1.3v1.3h-1.3zM386.3 336.6h1.3v1.3h-1.3zM433.6 336.3h1.3v1.3h-1.3zM398.7 338.1h1.3v1.3h-1.3zM416.0 335.7h1.3v1.3h-1.3zM401.7 335.9h1.3v1.3h-1.3zM447.2 336.3h1.3v1.3h-1.3zM438.5 337.8h1.3v1.3h-1.3zM395.0 337.7h1.3v1.3h-1.3zM387.0 336.2h1.3v1.3h-1.3zM447.9 335.0h1.3v1.3h-1.3zM443.0 338.3h1.3v1.3h-1.3zM480.2 334.6h1.3v1.3h-1.3zM452.8 336.8h1.3v1.3h-1.3zM394.4 334.7h1.3v1.3h-1.3zM440.4 337.0h1.3v1.3h-1.3zM444.7 338.9h1.3v1.3h-1.3zM399.6 335.5h1.3v1.3h-1.3zM471.8 339.8h1.3v1.3h-1.3zM460.9 337.8h1.3v1.3h-1.3zM471.4 338.5h1.3v1.3h-1.3zM471.2 334.9h1.3v1.3h-1.3zM475.9 333.7h1.3v1.3h-1.3zM464.6 338.7h1.3v1.3h-1.3zM473.8 336.2h1.3v1.3h-1.3zM398.6 334.8h1.3v1.3h-1.3zM432.4 335.7h1.3v1.3h-1.3zM410.4 335.7h1.3v1.3h-1.3zM441.4 335.3h1.3v1.3h-1.3zM460.8 334.9h1.3v1.3h-1.3zM460.6 337.0h1.3v1.3h-1.3zM472.9 337.1h1.3v1.3h-1.3zM456.1 333.5h1.3v1.3h-1.3zM484.4 337.0h1.3v1.3h-1.3zM399.9 338.0h1.3v1.3h-1.3zM454.8 337.5h1.3v1.3h-1.3zM476.7 337.3h1.3v1.3h-1.3zM440.7 339.0h1.3v1.3h-1.3zM430.6 337.7h1.3v1.3h-1.3zM384.9 335.5h1.3v1.3h-1.3zM458.3 337.1h1.3v1.3h-1.3zM432.1 337.8h1.3v1.3h-1.3zM448.0 335.7h1.3v1.3h-1.3zM471.0 338.2h1.3v1.3h-1.3zM485.6 336.5h1.3v1.3h-1.3zM389.6 339.8h1.3v1.3h-1.3zM412.4 336.4h1.3v1.3h-1.3zM465.0 339.5h1.3v1.3h-1.3zM396.6 338.8h1.3v1.3h-1.3zM419.6 338.6h1.3v1.3h-1.3zM483.8 339.5h1.3v1.3h-1.3zM393.3 338.2h1.3v1.3h-1.3zM406.9 337.0h1.3v1.3h-1.3zM448.3 338.6h1.3v1.3h-1.3zM473.4 337.4h1.3v1.3h-1.3zM421.6 335.4h1.3v1.3h-1.3zM455.8 338.9h1.3v1.3h-1.3zM461.0 334.3h1.3v1.3h-1.3zM416.9 337.5h1.3v1.3h-1.3zM463.4 339.1h1.3v1.3h-1.3zM395.8 337.3h1.3v1.3h-1.3zM384.5 337.7h1.3v1.3h-1.3zM460.5 335.8h1.3v1.3h-1.3zM484.5 335.8h1.3v1.3h-1.3zM486.0 334.3h1.3v1.3h-1.3zM448.8 338.7h1.3v1.3h-1.3zM475.7 336.6h1.3v1.3h-1.3zM436.9 338.2h1.3v1.3h-1.3zM405.1 336.9h1.3v1.3h-1.3zM414.9 337.5h1.3v1.3h-1.3zM465.9 334.1h1.3v1.3h-1.3zM409.6 335.8h1.3v1.3h-1.3zM468.4 338.0h1.3v1.3h-1.3zM403.2 336.2h1.3v1.3h-1.3zM398.6 335.2h1.3v1.3h-1.3zM421.6 336.5h1.3v1.3h-1.3zM430.9 338.2h1.3v1.3h-1.3zM458.1 341.5h1.3v1.3h-1.3zM418.9 336.2h1.3v1.3h-1.3zM468.6 338.3h1.3v1.3h-1.3zM428.4 336.0h1.3v1.3h-1.3z" fill="#1828e8" fill-opacity="0.75"/>
<path d="M452.7 348.8h1.2v1.2h-1.2zM433.2 344.6h1.2v1.2h-1.2zM453.9 355.7h1.2v1.2h-1.2zM392.1 352.8h1.2v1.2h-1.2zM478.7 353.6h1.2v1.2h-1.2zM404.4 350.2h1.2v1.2h-1.2zM399.3 349.5h1.2v1.2h-1.2zM480.3 355.2h1.2v1.2h-1.2zM402.0 350.4h1.2v1.2h-1.2zM448.4 350.6h1.2v1.2h-1.2zM459.5 350.4h1.2v1.2h-1.2zM390.4 356.7h1.2v1.2h-1.2zM476.4 346.5h1.2v1.2h-1.2zM484.0 354.7h1.2v1.2h-1.2zM386.4 352.7h1.2v1.2h-1.2zM484.0 355.8h1.2v1.2h-1.2zM404.9 348.7h1.2v1.2h-1.2zM435.6 355.7h1.2v1.2h-1.2zM456.2 350.8h1.2v1.2h-1.2zM424.4 353.7h1.2v1.2h-1.2zM472.9 356.5h1.2v1.2h-1.2zM405.9 344.8h1.2v1.2h-1.2zM424.7 344.3h1.2v1.2h-1.2zM422.7 353.3h1.2v1.2h-1.2zM382.5 352.5h1.2v1.2h-1.2zM393.4 354.9h1.2v1.2h-1.2zM386.3 348.1h1.2v1.2h-1.2zM452.0 351.5h1.2v1.2h-1.2zM415.2 348.4h1.2v1.2h-1.2zM403.8 346.3h1.2v1.2h-1.2zM465.9 355.4h1.2v1.2h-1.2zM442.1 347.8h1.2v1.2h-1.2zM409.0 353.4h1.2v1.2h-1.2zM383.8 350.3h1.2v1.2h-1.2zM461.2 352.6h1.2v1.2h-1.2zM404.8 345.2h1.2v1.2h-1.2zM400.6 352.8h1.2v1.2h-1.2zM424.4 353.1h1.2v1.2h-1.2zM442.7 356.9h1.2v1.2h-1.2zM469.4 351.0h1.2v1.2h-1.2zM467.2 357.8h1.2v1.2h-1.2zM404.8 347.7h1.2v1.2h-1.2zM390.7 350.7h1.2v1.2h-1.2zM475.7 346.0h1.2v1.2h-1.2zM400.2 362.1h1.2v1.2h-1.2zM384.3 346.0h1.2v1.2h-1.2zM425.5 354.4h1.2v1.2h-1.2zM443.2 346.1h1.2v1.2h-1.2zM401.2 355.8h1.2v1.2h-1.2zM467.4 354.4h1.2v1.2h-1.2zM456.0 352.7h1.2v1.2h-1.2zM383.7 356.2h1.2v1.2h-1.2zM467.8 358.0h1.2v1.2h-1.2zM438.8 348.2h1.2v1.2h-1.2zM403.1 346.5h1.2v1.2h-1.2zM445.2 351.0h1.2v1.2h-1.2zM457.7 355.2h1.2v1.2h-1.2zM430.8 350.0h1.2v1.2h-1.2zM431.9 354.8h1.2v1.2h-1.2zM454.4 352.5h1.2v1.2h-1.2zM408.0 354.2h1.2v1.2h-1.2zM406.5 354.2h1.2v1.2h-1.2zM413.6 344.6h1.2v1.2h-1.2zM411.1 357.8h1.2v1.2h-1.2zM457.3 354.2h1.2v1.2h-1.2zM445.4 355.6h1.2v1.2h-1.2zM432.1 344.9h1.2v1.2h-1.2zM383.7 354.8h1.2v1.2h-1.2zM447.4 350.6h1.2v1.2h-1.2zM428.3 352.4h1.2v1.2h-1.2zM426.6 354.6h1.2v1.2h-1.2zM407.4 351.6h1.2v1.2h-1.2zM397.5 349.5h1.2v1.2h-1.2zM438.8 346.7h1.2v1.2h-1.2zM455.5 351.3h1.2v1.2h-1.2zM420.6 343.3h1.2v1.2h-1.2zM433.2 347.5h1.2v1.2h-1.2zM393.2 347.9h1.2v1.2h-1.2zM390.8 351.4h1.2v1.2h-1.2zM481.3 351.7h1.2v1.2h-1.2zM391.0 345.2h1.2v1.2h-1.2zM401.7 350.0h1.2v1.2h-1.2zM437.2 341.8h1.2v1.2h-1.2zM401.5 347.6h1.2v1.2h-1.2zM484.3 352.9h1.2v1.2h-1.2zM382.7 352.0h1.2v1.2h-1.2zM462.6 346.2h1.2v1.2h-1.2zM443.1 356.5h1.2v1.2h-1.2zM396.9 351.3h1.2v1.2h-1.2zM482.2 355.0h1.2v1.2h-1.2zM476.1 344.7h1.2v1.2h-1.2zM437.9 349.8h1.2v1.2h-1.2zM480.3 345.5h1.2v1.2h-1.2zM478.0 353.2h1.2v1.2h-1.2zM398.2 360.8h1.2v1.2h-1.2zM402.8 354.4h1.2v1.2h-1.2zM433.5 353.8h1.2v1.2h-1.2zM423.9 349.9h1.2v1.2h-1.2zM418.3 341.7h1.2v1.2h-1.2zM471.0 350.6h1.2v1.2h-1.2zM405.4 353.2h1.2v1.2h-1.2zM384.0 356.9h1.2v1.2h-1.2zM398.6 343.8h1.2v1.2h-1.2zM434.1 351.2h1.2v1.2h-1.2zM410.4 352.2h1.2v1.2h-1.2zM418.5 352.2h1.2v1.2h-1.2zM403.1 346.9h1.2v1.2h-1.2zM409.2 353.0h1.2v1.2h-1.2zM436.4 354.9h1.2v1.2h-1.2zM386.0 348.9h1.2v1.2h-1.2zM460.4 352.6h1.2v1.2h-1.2zM461.9 355.3h1.2v1.2h-1.2zM411.1 350.3h1.2v1.2h-1.2zM454.7 348.3h1.2v1.2h-1.2zM418.7 345.3h1.2v1.2h-1.2zM442.6 339.2h1.2v1.2h-1.2zM421.2 347.0h1.2v1.2h-1.2zM395.3 352.7h1.2v1.2h-1.2zM388.0 352.4h1.2v1.2h-1.2zM419.6 357.0h1.2v1.2h-1.2zM440.3 341.9h1.2v1.2h-1.2zM412.2 345.7h1.2v1.2h-1.2zM440.6 342.9h1.2v1.2h-1.2zM421.0 355.3h1.2v1.2h-1.2zM473.5 352.4h1.2v1.2h-1.2zM419.7 353.5h1.2v1.2h-1.2zM454.1 344.8h1.2v1.2h-1.2zM453.5 352.2h1.2v1.2h-1.2zM402.4 347.3h1.2v1.2h-1.2zM459.7 358.8h1.2v1.2h-1.2zM427.0 354.9h1.2v1.2h-1.2zM426.1 348.1h1.2v1.2h-1.2zM390.7 351.7h1.2v1.2h-1.2zM386.4 353.1h1.2v1.2h-1.2zM471.8 358.8h1.2v1.2h-1.2zM476.2 351.2h1.2v1.2h-1.2zM407.3 345.7h1.2v1.2h-1.2zM403.7 346.9h1.2v1.2h-1.2zM468.9 358.5h1.2v1.2h-1.2zM447.4 352.4h1.2v1.2h-1.2zM455.4 354.3h1.2v1.2h-1.2zM483.8 354.7h1.2v1.2h-1.2zM416.7 353.6h1.2v1.2h-1.2zM388.9 343.1h1.2v1.2h-1.2zM414.0 348.4h1.2v1.2h-1.2zM442.6 351.6h1.2v1.2h-1.2zM404.2 349.4h1.2v1.2h-1.2zM442.0 356.8h1.2v1.2h-1.2zM412.2 349.9h1.2v1.2h-1.2zM481.4 356.6h1.2v1.2h-1.2z" fill="#2838f0" fill-opacity="0.6"/>
<path d="M475.2 376.6h1.0v1.0h-1.0zM444.3 377.6h1.0v1.0h-1.0zM481.9 377.1h1.0v1.0h-1.0zM423.8 374.9h1.0v1.0h-1.0zM406.6 375.8h1.0v1.0h-1.0zM485.5 376.3h1.0v1.0h-1.0zM439.0 375.1h1.0v1.0h-1.0zM397.9 376.8h1.0v1.0h-1.0zM455.7 379.1h1.0v1.0h-1.0zM454.4 377.1h1.0v1.0h-1.0zM394.4 374.9h1.0v1.0h-1.0zM424.7 375.3h1.0v1.0h-1.0zM484.0 375.5h1.0v1.0h-1.0zM445.2 374.3h1.0v1.0h-1.0zM396.1 371.0h1.0v1.0h-1.0zM407.2 378.1h1.0v1.0h-1.0zM431.4 373.8h1.0v1.0h-1.0zM484.0 373.6h1.0v1.0h-1.0zM437.0 372.6h1.0v1.0h-1.0zM441.1 376.4h1.0v1.0h-1.0zM411.7 373.0h1.0v1.0h-1.0zM466.7 372.7h1.0v1.0h-1.0zM476.3 377.1h1.0v1.0h-1.0zM443.3 377.3h1.0v1.0h-1.0zM436.4 373.5h1.0v1.0h-1.0zM386.0 374.6h1.0v1.0h-1.0zM473.5 371.7h1.0v1.0h-1.0zM486.1 374.0h1.0v1.0h-1.0zM416.3 377.7h1.0v1.0h-1.0zM456.0 372.7h1.0v1.0h-1.0zM486.6 377.1h1.0v1.0h-1.0zM433.8 379.0h1.0v1.0h-1.0zM484.5 375.0h1.0v1.0h-1.0zM436.0 376.7h1.0v1.0h-1.0zM466.7 371.7h1.0v1.0h-1.0zM471.4 377.2h1.0v1.0h-1.0zM401.4 375.7h1.0v1.0h-1.0zM434.3 375.2h1.0v1.0h-1.0zM394.9 373.1h1.0v1.0h-1.0zM445.1 379.6h1.0v1.0h-1.0zM465.6 374.0h1.0v1.0h-1.0zM477.3 376.4h1.0v1.0h-1.0zM399.3 374.1h1.0v1.0h-1.0zM459.3 379.9h1.0v1.0h-1.0zM420.2 376.7h1.0v1.0h-1.0zM400.5 375.4h1.0v1.0h-1.0zM449.7 375.1h1.0v1.0h-1.0zM423.7 375.4h1.0v1.0h-1.0zM481.9 373.0h1.0v1.0h-1.0zM469.8 370.2h1.0v1.0h-1.0zM445.1 372.5h1.0v1.0h-1.0zM466.9 371.7h1.0v1.0h-1.0zM470.9 377.4h1.0v1.0h-1.0zM480.7 375.9h1.0v1.0h-1.0zM465.4 373.3h1.0v1.0h-1.0zM402.8 376.2h1.0v1.0h-1.0zM446.4 375.4h1.0v1.0h-1.0zM386.4 374.5h1.0v1.0h-1.0zM430.1 372.4h1.0v1.0h-1.0zM469.2 376.8h1.0v1.0h-1.0zM464.4 376.6h1.0v1.0h-1.0zM460.1 372.0h1.0v1.0h-1.0zM477.9 374.5h1.0v1.0h-1.0zM462.0 373.7h1.0v1.0h-1.0zM455.5 375.8h1.0v1.0h-1.0zM416.9 371.6h1.0v1.0h-1.0zM422.5 377.8h1.0v1.0h-1.0zM482.7 375.3h1.0v1.0h-1.0zM384.0 378.0h1.0v1.0h-1.0zM408.3 369.9h1.0v1.0h-1.0zM424.6 376.8h1.0v1.0h-1.0zM398.4 372.1h1.0v1.0h-1.0zM390.4 376.7h1.0v1.0h-1.0zM441.0 379.4h1.0v1.0h-1.0zM479.3 373.4h1.0v1.0h-1.0zM420.7 370.4h1.0v1.0h-1.0zM457.6 375.2h1.0v1.0h-1.0zM445.2 376.1h1.0v1.0h-1.0zM471.5 377.3h1.0v1.0h-1.0zM478.8 375.0h1.0v1.0h-1.0zM486.5 372.7h1.0v1.0h-1.0zM451.2 376.2h1.0v1.0h-1.0zM390.2 376.3h1.0v1.0h-1.0zM448.4 371.7h1.0v1.0h-1.0zM473.0 373.2h1.0v1.0h-1.0zM402.1 373.7h1.0v1.0h-1.0zM482.8 372.6h1.0v1.0h-1.0zM421.4 377.9h1.0v1.0h-1.0zM403.0 377.2h1.0v1.0h-1.0zM440.0 374.7h1.0v1.0h-1.0zM477.8 376.0h1.0v1.0h-1.0zM402.3 374.7h1.0v1.0h-1.0zM429.2 373.5h1.0v1.0h-1.0zM416.3 374.2h1.0v1.0h-1.0zM428.2 376.0h1.0v1.0h-1.0zM435.6 373.1h1.0v1.0h-1.0zM389.8 373.8h1.0v1.0h-1.0zM416.0 374.6h1.0v1.0h-1.0zM422.6 378.1h1.0v1.0h-1.0zM397.6 373.0h1.0v1.0h-1.0zM409.2 375.1h1.0v1.0h-1.0zM420.8 378.9h1.0v1.0h-1.0zM446.7 375.0h1.0v1.0h-1.0zM435.1 372.9h1.0v1.0h-1.0zM470.4 370.8h1.0v1.0h-1.0zM398.0 381.2h1.0v1.0h-1.0zM434.3 375.3h1.0v1.0h-1.0zM423.1 374.4h1.0v1.0h-1.0zM454.6 370.2h1.0v1.0h-1.0zM393.6 377.1h1.0v1.0h-1.0zM470.8 370.8h1.0v1.0h-1.0zM427.3 377.1h1.0v1.0h-1.0zM422.4 376.5h1.0v1.0h-1.0zM454.0 375.6h1.0v1.0h-1.0zM404.7 376.6h1.0v1.0h-1.0zM464.3 378.7h1.0v1.0h-1.0zM405.3 372.1h1.0v1.0h-1.0zM419.4 377.5h1.0v1.0h-1.0zM444.7 377.3h1.0v1.0h-1.0zM480.7 377.9h1.0v1.0h-1.0zM466.0 374.9h1.0v1.0h-1.0zM465.5 376.9h1.0v1.0h-1.0zM472.4 381.2h1.0v1.0h-1.0zM403.5 378.0h1.0v1.0h-1.0zM427.9 375.4h1.0v1.0h-1.0zM415.9 370.0h1.0v1.0h-1.0zM480.6 374.1h1.0v1.0h-1.0zM401.4 375.4h1.0v1.0h-1.0zM482.5 375.2h1.0v1.0h-1.0zM468.3 377.3h1.0v1.0h-1.0z" fill="#3040f0" fill-opacity="0.6"/>
<rect x="382.4" y="356.5" width="105.20000000000005" height="17.5" fill="url(#eband2)" />
<polyline points="382.4,364.30 383.4,364.69 384.4,365.04 385.4,365.33 386.4,365.52 387.4,365.60 388.4,365.56 389.4,365.41 390.4,365.15 391.4,364.82 392.4,364.44 393.4,364.05 394.4,363.68 395.4,363.36 396.4,363.14 397.4,363.02 398.4,363.01 399.4,363.13 400.4,363.35 401.4,363.66 402.4,364.03 403.4,364.42 404.4,364.80 405.4,365.14 406.4,365.40 407.4,365.55 408.4,365.60 409.4,365.52 410.4,365.34 411.4,365.06 412.4,364.71 413.4,364.32 414.4,363.93 415.4,363.57 416.4,363.29 417.4,363.09 418.4,363.00 419.4,363.04 420.4,363.18 421.4,363.43 422.4,363.76 423.4,364.14 424.4,364.54 425.4,364.91 426.4,365.22 427.4,365.45 428.4,365.58 429.4,365.59 430.4,365.48 431.4,365.26 432.4,364.96 433.4,364.59 434.4,364.20 435.4,363.82 436.4,363.48 437.4,363.22 438.4,363.05 439.4,363.00 440.4,363.07 441.4,363.25 442.4,363.53 443.4,363.87 444.4,364.26 445.4,364.65 446.4,365.01 447.4,365.30 448.4,365.50 449.4,365.60 450.4,365.57 451.4,365.43 452.4,365.18 453.4,364.85 454.4,364.48 455.4,364.08 456.4,363.71 457.4,363.39 458.4,363.15 459.4,363.02 460.4,363.01 461.4,363.11 462.4,363.32 463.4,363.62 464.4,363.99 465.4,364.38 466.4,364.76 467.4,365.11 468.4,365.37 469.4,365.54 470.4,365.60 471.4,365.54 472.4,365.36 473.4,365.09 474.4,364.74 475.4,364.36 476.4,363.97 477.4,363.61 478.4,363.31 479.4,363.10 480.4,363.01 481.4,363.03 482.4,363.16 483.4,363.41 484.4,363.73 485.4,364.10 486.4,364.50 487.4,364.87" fill="none" stroke="#28c8f0" stroke-width="1.9" filter="url(#bl2)"/>
<polyline points="382.4,369.01 383.4,369.10 384.4,369.06 385.4,368.92 386.4,368.66 387.4,368.33 388.4,367.96 389.4,367.56 390.4,367.19 391.4,366.88 392.4,366.65 393.4,366.52 394.4,366.51 395.4,366.62 396.4,366.84 397.4,367.14 398.4,367.51 399.4,367.90 400.4,368.28 401.4,368.62 402.4,368.89 403.4,369.05 404.4,369.10 405.4,369.03 406.4,368.85 407.4,368.57 408.4,368.22 409.4,367.84 410.4,367.45 411.4,367.09 412.4,366.80 413.4,366.60 414.4,366.50 415.4,366.53 416.4,366.67 417.4,366.92 418.4,367.25 419.4,367.62 420.4,368.02 421.4,368.39 422.4,368.71 423.4,368.95 424.4,369.08 425.4,369.09 426.4,368.99 427.4,368.78 428.4,368.47 429.4,368.11 430.4,367.72 431.4,367.34 432.4,366.99 433.4,366.73 434.4,366.56 435.4,366.50 436.4,366.56 437.4,366.74 438.4,367.01 439.4,367.36 440.4,367.74 441.4,368.13 442.4,368.49 443.4,368.79 444.4,369.00 445.4,369.09 446.4,369.07 447.4,368.93 448.4,368.69 449.4,368.37 450.4,368.00 451.4,367.60 452.4,367.23 453.4,366.90 454.4,366.66 455.4,366.53 456.4,366.51 457.4,366.60 458.4,366.81 459.4,367.11 460.4,367.47 461.4,367.86 462.4,368.25 463.4,368.59 464.4,368.86 465.4,369.04 466.4,369.10 467.4,369.04 468.4,368.87 469.4,368.60 470.4,368.26 471.4,367.88 472.4,367.49 473.4,367.12 474.4,366.82 475.4,366.61 476.4,366.51 477.4,366.52 478.4,366.66 479.4,366.89 480.4,367.21 481.4,367.59 482.4,367.98 483.4,368.36 484.4,368.68 485.4,368.93 486.4,369.07 487.4,369.10" fill="none" stroke="#20b0f0" stroke-width="1.9" filter="url(#bl2)"/>
<rect x="382.4" y="329.4" width="105.20000000000005" height="57.200000000000045" fill="none" stroke="#a0a0a0" stroke-width="0.9"/>
<line x1="408.7" y1="254.7" x2="408.7" y2="256.2" stroke="#909090" stroke-width="0.8" />
<line x1="408.7" y1="313.6" x2="408.7" y2="312.1" stroke="#909090" stroke-width="0.8" />
<line x1="435.0" y1="254.7" x2="435.0" y2="256.2" stroke="#909090" stroke-width="0.8" />
<line x1="435.0" y1="313.6" x2="435.0" y2="312.1" stroke="#909090" stroke-width="0.8" />
<line x1="461.3" y1="254.7" x2="461.3" y2="256.2" stroke="#909090" stroke-width="0.8" />
<line x1="461.3" y1="313.6" x2="461.3" y2="312.1" stroke="#909090" stroke-width="0.8" />
<line x1="408.7" y1="329.4" x2="408.7" y2="330.9" stroke="#909090" stroke-width="0.8" />
<line x1="408.7" y1="386.6" x2="408.7" y2="385.1" stroke="#909090" stroke-width="0.8" />
<line x1="435.0" y1="329.4" x2="435.0" y2="330.9" stroke="#909090" stroke-width="0.8" />
<line x1="435.0" y1="386.6" x2="435.0" y2="385.1" stroke="#909090" stroke-width="0.8" />
<line x1="461.3" y1="329.4" x2="461.3" y2="330.9" stroke="#909090" stroke-width="0.8" />
<line x1="461.3" y1="386.6" x2="461.3" y2="385.1" stroke="#909090" stroke-width="0.8" />
<text x="378.0" y="321.3" font-size="13" fill="#000" text-anchor="middle" stroke="#000" stroke-width="0.22" textLength="124" lengthAdjust="spacingAndGlyphs" transform="rotate(-90 378.0 321.3)" >Wavelength (1 nm/div)</text>
<text x="382.5" y="403.0" font-size="12.4" fill="#000" text-anchor="middle" stroke="#000" stroke-width="0.22" textLength="20.5" lengthAdjust="spacingAndGlyphs" >300</text>
<text x="487.4" y="403.0" font-size="12.4" fill="#000" text-anchor="middle" stroke="#000" stroke-width="0.22" textLength="19.5" lengthAdjust="spacingAndGlyphs" >500</text>
<text x="434.7" y="413.8" font-size="13.2" fill="#000" text-anchor="middle" stroke="#000" stroke-width="0.22" textLength="59.2" lengthAdjust="spacingAndGlyphs" >Roundtrips</text>
<text x="504.8" y="246.3" font-size="25" fill="#000" text-anchor="start" font-weight="bold" >f</text>
<line x1="505.8" y1="255" x2="505.8" y2="320" stroke="#ebebeb" stroke-width="1" />
<rect x="515.4" y="254.8" width="131.60000000000002" height="131.8" fill="#ffffff" />
<polyline points="515.7,312.0 516.1,305.5 516.5,299.5 517.3,291.5 518.4,282.7 519.6,276.7 520.8,274.9 522.5,267.8 523.7,273.1 524.9,287.4 525.9,298.2 527.3,291 528.5,280.9 529.7,279.1 530.9,276.1 532.1,272.5 533.3,287.4 534.8,303 536.3,289.8 537.5,277.3 538.7,276.7 539.8,275.5 541,273.1 542.2,286.3 543.8,298.2 544.6,300.6 545.8,292.2 547,282.7 548.2,281.5 550,276.1 551.2,277.3 552.4,289.8 553.6,304.2 554.8,295.8 556,277.9 556.9,268.9 557.7,274.3 560.1,277.9 561.2,280.3 562.1,292.2 563.3,283.9 564.5,275.5 565.4,267.8 566.6,274.3 567.8,278.5 568.9,279.7 570.1,291 571.6,307.7 572.9,298.2 574.1,280.3 574.9,269.5 576.1,274.3 577.3,277.9 579.1,280.9 580.3,293.4 581.2,304.7 582.4,293.4 583.6,277.9 584.7,268.4 585.7,275.5 586.5,281.5 587.7,281.5 588.9,291 590.4,300.6 591.6,291 592.8,274.3 593.7,266.6 594.8,274.9 596.4,280.3 597.9,286.3 599.6,301.8 600.8,292.2 602,273.1 603.3,269.3 604.5,277.7 605.4,282.4 607.2,283.6 609,294.4 610.1,304.5 611.3,284.8 612.5,262.2 613.7,276.5 614.9,280.7 616.7,298 617.9,304.5 619.7,278.9 621.2,268.7 622.7,281.3 624.5,283 626.3,296.8 627.7,304.5 629.2,269.3 630.4,258.6 631.6,265.7 632.8,278.9 634.6,283 636.4,295.6 637.6,304.5 639.4,278.9 640.6,266.3 641.8,270.5 643.6,280.1 645.1,296.2 645.9,290.8 646.6,284" fill="none" stroke="#0a0a0a" stroke-width="1.45" stroke-linejoin="round"/>
<polyline points="515.6,345.3 516.6,343.3 518.1,339.7 519.1,342.8 520.4,345.3 522,350.9 523.2,347.4 525.3,341.8 526.8,339.7 527.8,341.2 529.4,336.6 530.9,340.2 531.9,343.3 533.4,347.4 535,344.3 537.3,336.6 538.5,339.7 540.1,340.2 541.6,340.7 543.1,341.2 544.7,344.3 546.2,348.4 547.2,349.9 548.3,345.3 549.8,343.8 551.3,344.3 553.2,339.7 554.4,344.3 555.9,346.3 557.5,341.2 559.5,342.3 560.5,346.3 562,347.9 564.1,344.3 566.1,342.8 568.2,343.8 570.2,341.8 572.3,339.2 574.3,342.3 576.4,346.3 579.4,350.4 581.5,345.3 583.1,340.7 584.6,343.3 586.1,347.4 587.7,345.3 588.7,346.9 590.2,344.3 591.2,347.9 592.8,342.3 594.3,342.8 595.8,342.8 597.9,345.8 600.4,351.5 602.5,343.3 604,337.7 606.1,345.8 607.6,346.3 609.1,343.8 610.1,347.4 611.7,344.3 613.2,346.3 614.7,345.3 616.3,341.8 617.8,342.3 619.3,340.7 620.9,342.8 622.9,345.3 625,346.9 627,350.4 629.1,346.3 631.1,343.3 632.6,344.3 634.7,347.9 636.2,342.3 637.7,337.7 639.3,339.7 640.8,343.3 642.3,341.8 643.9,344.3 645.4,346.3 646.6,347.9" fill="none" stroke="#ff0000" stroke-width="1.45" stroke-linejoin="round"/>
<polyline points="515.4,254.8 647.0,254.8 647.0,386.6 515.4,386.6 515.4,254.8" fill="none" stroke="#555" stroke-width="1.2"/>
<line x1="537" y1="254.8" x2="537" y2="256.6" stroke="#555" stroke-width="0.9" />
<line x1="537" y1="386.6" x2="537" y2="384.8" stroke="#555" stroke-width="0.9" />
<line x1="581" y1="254.8" x2="581" y2="256.6" stroke="#555" stroke-width="0.9" />
<line x1="581" y1="386.6" x2="581" y2="384.8" stroke="#555" stroke-width="0.9" />
<line x1="625" y1="254.8" x2="625" y2="256.6" stroke="#555" stroke-width="0.9" />
<line x1="625" y1="386.6" x2="625" y2="384.8" stroke="#555" stroke-width="0.9" />
<line x1="647.0" y1="299.3" x2="645.2" y2="299.3" stroke="#555" stroke-width="0.9" />
<line x1="647.0" y1="343.0" x2="645.2" y2="343.0" stroke="#555" stroke-width="0.9" />
<line x1="542.1" y1="320.0" x2="548.8849699055482" y2="314.61007063577944" stroke="#000" stroke-width="1.3" />
<polygon points="552.8,311.5 550.38,316.49 547.39,312.73" fill="#000"/>
<line x1="544.2" y1="358.5" x2="550.5031216459686" y2="353.4327845591233" stroke="#000" stroke-width="1.3" />
<polygon points="554.4,350.3 552.01,355.30 549.00,351.56" fill="#000"/>
<text x="527.7" y="328.6" font-size="12.8" fill="#000" text-anchor="start" stroke="#000" stroke-width="0.22" textLength="6.2" lengthAdjust="spacingAndGlyphs" >P</text>
<text x="534.0" y="331.8" font-size="8.8" fill="#000" text-anchor="start" stroke="#000" stroke-width="0.22" >2</text>
<text x="531.1" y="369.4" font-size="12.8" fill="#000" text-anchor="start" stroke="#000" stroke-width="0.22" textLength="6.2" lengthAdjust="spacingAndGlyphs" >P</text>
<text x="537.3" y="372.6" font-size="8.8" fill="#000" text-anchor="start" stroke="#000" stroke-width="0.22" >3</text>
<text x="651.2" y="260.2" font-size="12.4" fill="#000" text-anchor="start" stroke="#000" stroke-width="0.22" textLength="16.6" lengthAdjust="spacingAndGlyphs" >1.5</text>
<text x="651.2" y="304.9" font-size="12.4" fill="#000" text-anchor="start" stroke="#000" stroke-width="0.22" textLength="16.6" lengthAdjust="spacingAndGlyphs" >1.0</text>
<text x="651.2" y="348.7" font-size="12.4" fill="#000" text-anchor="start" stroke="#000" stroke-width="0.22" textLength="16.6" lengthAdjust="spacingAndGlyphs" >0.5</text>
<text x="651.2" y="391.0" font-size="12.4" fill="#000" text-anchor="start" stroke="#000" stroke-width="0.22" >0</text>
<text x="537.1" y="403.0" font-size="12.4" fill="#000" text-anchor="middle" stroke="#000" stroke-width="0.22" textLength="27" lengthAdjust="spacingAndGlyphs" >1000</text>
<text x="625.4" y="403.0" font-size="12.4" fill="#000" text-anchor="middle" stroke="#000" stroke-width="0.22" textLength="27" lengthAdjust="spacingAndGlyphs" >3000</text>
<text x="582.7" y="416.0" font-size="13.2" fill="#000" text-anchor="middle" stroke="#000" stroke-width="0.22" textLength="59" lengthAdjust="spacingAndGlyphs" >Roundtrips</text>
<text x="674.8" y="313.2" font-size="13" fill="#000" text-anchor="middle" stroke="#000" stroke-width="0.22" textLength="91.5" lengthAdjust="spacingAndGlyphs" transform="rotate(90 674.8 313.2)" >Spectral width (nm)</text></svg>
</body></html>
